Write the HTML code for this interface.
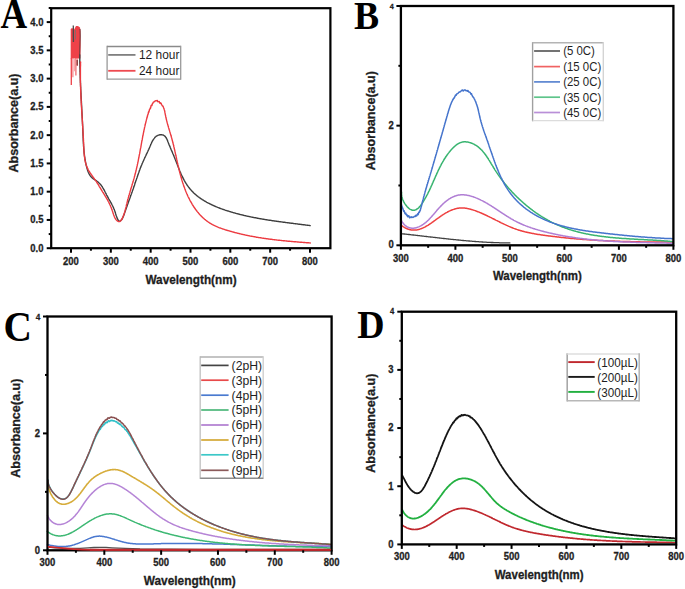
<!DOCTYPE html>
<html><head><meta charset="utf-8"><style>
html,body{margin:0;padding:0;background:#fff;}
svg{display:block;font-family:"Liberation Sans", sans-serif;}
.b{stroke:#1e1e1e;stroke-width:0.3px;}
</style></head><body>
<svg width="685" height="589" viewBox="0 0 685 589">
<rect width="685" height="589" fill="#fff"/>
<path d="M70.7,29 L71.6,28.2 L72.5,28.4 L73.3,27 L74.2,29.5 L75.2,27.5 L76,25.9 L77.5,26 L78.8,26.6 L80,27.5 L80.6,31 L80.7,45 L80.4,58.6 L70.7,58.6 Z" fill="#ee4148"/>
<line x1="71.3" y1="58" x2="71.3" y2="84.9" stroke="#ee4148" stroke-width="1.3"/>
<line x1="72.9" y1="58" x2="72.9" y2="77.3" stroke="#f27a7e" stroke-width="1.1"/>
<line x1="74.4" y1="58" x2="74.4" y2="71.3" stroke="#f5a0a2" stroke-width="1.0"/>
<line x1="75.9" y1="58" x2="75.9" y2="75.6" stroke="#ef6066" stroke-width="1.2"/>
<line x1="77.3" y1="58" x2="77.3" y2="66" stroke="#f07a7e" stroke-width="1.0"/>
<line x1="73.3" y1="25.6" x2="73.4" y2="42" stroke="#4a4a4a" stroke-width="1.3"/>
<line x1="75.4" y1="30" x2="75.4" y2="39.4" stroke="#8a6a6a" stroke-width="1.0"/>
<line x1="77.2" y1="60" x2="77.2" y2="65.5" stroke="#8a3a3a" stroke-width="1.4"/>
<path d="M80.0,29 L80.2,36 L79.9,45 L79.7,55" fill="none" stroke="#5a3a3a" stroke-width="0.9"/>
<path d="M79.8,55.0 L79.8,55.6 L79.8,56.2 L79.8,56.8 L79.8,57.4 L79.8,58.0 L79.8,58.6 L79.8,59.2 L79.8,59.8 L79.8,60.4 L79.8,61.0 L79.8,61.6 L79.8,62.2 L79.8,62.8 L79.8,63.4 L79.9,64.0 L79.9,64.6 L79.9,65.2 L79.9,65.8 L79.9,66.4 L79.9,67.0 L79.9,67.6 L79.9,68.2 L80.0,68.8 L80.0,69.4 L80.0,70.0 L80.0,70.6 L80.0,71.2 L80.0,71.8 L80.1,72.4 L80.1,73.0 L80.1,73.6 L80.1,74.2 L80.1,74.8 L80.2,75.4 L80.2,76.0 L80.2,76.6 L80.2,77.2 L80.2,77.8 L80.3,78.4 L80.3,79.0 L80.3,79.6 L80.3,80.2 L80.4,80.9 L80.4,81.5 L80.4,82.0 L80.4,82.6 L80.5,83.2 L80.5,83.8 L80.5,84.4 L80.5,85.0 L80.6,85.6 L80.6,86.2 L80.6,86.8 L80.7,87.4 L80.7,88.0 L80.7,88.6 L80.7,89.2 L80.8,89.8 L80.8,90.4 L80.8,91.0 L80.9,91.6 L80.9,92.2 L80.9,92.8 L81.0,93.4 L81.0,94.0 L81.0,94.6 L81.0,95.2 L81.1,95.8 L81.1,96.4 L81.1,97.0 L81.2,97.6 L81.2,98.2 L81.2,98.8 L81.3,99.4 L81.3,100.0 L81.3,100.6 L81.4,101.2 L81.4,101.8 L81.4,102.4 L81.5,103.0 L81.5,103.6 L81.5,104.2 L81.6,104.8 L81.6,105.4 L81.6,106.0 L81.7,106.6 L81.7,107.2 L81.7,107.8 L81.7,108.4 L81.8,109.0 L81.8,109.6 L81.8,110.2 L81.9,110.8 L81.9,111.4 L81.9,112.0 L82.0,112.6 L82.0,113.2 L82.0,113.8 L82.1,114.4 L82.1,115.0 L82.1,115.6 L82.2,116.2 L82.2,116.8 L82.2,117.4 L82.3,118.0 L82.3,118.6 L82.3,119.2 L82.3,119.8 L82.4,120.4 L82.4,121.0 L82.4,121.6 L82.5,122.2 L82.5,122.8 L82.5,123.4 L82.5,124.0 L82.6,124.6 L82.6,125.2 L82.6,125.8 L82.7,126.4 L82.7,127.1 L82.7,127.7 L82.7,128.3 L82.8,128.9 L82.8,129.5 L82.8,130.1 L82.8,130.7 L82.9,131.3 L82.9,131.9 L82.9,132.5 L82.9,133.1 L83.0,133.7 L83.0,134.3 L83.0,134.9 L83.0,135.5 L83.1,136.1 L83.1,136.7 L83.1,137.3 L83.1,137.9 L83.2,138.5 L83.2,139.1 L83.2,139.7 L83.2,140.3 L83.3,140.9 L83.3,141.5 L83.3,142.1 L83.4,142.7 L83.4,143.3 L83.4,143.9 L83.5,144.5 L83.5,145.1 L83.5,145.7 L83.6,146.3 L83.6,146.9 L83.7,147.5 L83.7,148.1 L83.8,148.7 L83.8,149.3 L83.9,149.9 L83.9,150.5 L84.0,151.1 L84.0,151.7 L84.1,152.3 L84.1,152.9 L84.2,153.5 L84.3,154.1 L84.4,154.7 L84.4,155.3 L84.5,155.9 L84.6,156.5 L84.7,157.1 L84.8,157.7 L84.9,158.3 L84.9,158.9 L85.0,159.4 L85.1,160.0 L85.3,160.6 L85.4,161.2 L85.5,161.8 L85.6,162.4 L85.7,163.0 L85.8,163.6 L86.0,164.2 L86.1,164.8 L86.2,165.3 L86.4,165.9 L86.5,166.5 L86.7,167.1 L86.8,167.7 L87.0,168.3 L87.2,168.8 L87.3,169.4 L87.5,170.0 L87.7,170.6 L87.9,171.1 L88.1,171.7 L88.3,172.2 L88.6,172.8 L88.8,173.3 L89.1,173.8 L89.4,174.3 L89.7,174.8 L90.0,175.3 L90.3,175.8 L90.6,176.2 L91.0,176.7 L91.4,177.1 L91.8,177.5 L92.2,177.9 L92.7,178.3 L93.1,178.7 L93.6,179.0 L94.1,179.3 L94.6,179.7 L95.2,180.0 L95.7,180.3 L96.2,180.6 L96.7,181.0 L97.2,181.3 L97.7,181.7 L98.2,182.1 L98.6,182.4 L99.0,182.9 L99.4,183.3 L99.9,183.7 L100.2,184.2 L100.6,184.6 L101.0,185.1 L101.4,185.5 L101.7,186.0 L102.0,186.5 L102.4,187.0 L102.7,187.5 L103.0,188.1 L103.3,188.6 L103.6,189.1 L103.9,189.6 L104.2,190.2 L104.5,190.7 L104.8,191.3 L105.1,191.8 L105.3,192.3 L105.6,192.9 L105.9,193.4 L106.2,194.0 L106.4,194.5 L106.7,195.1 L107.0,195.6 L107.3,196.1 L107.6,196.7 L107.8,197.2 L108.1,197.7 L108.4,198.2 L108.7,198.8 L109.0,199.3 L109.3,199.8 L109.6,200.3 L109.9,200.8 L110.2,201.3 L110.5,201.9 L110.8,202.4 L111.1,202.9 L111.3,203.4 L111.6,203.9 L111.9,204.5 L112.2,205.0 L112.4,205.5 L112.7,206.0 L113.0,206.6 L113.2,207.1 L113.5,207.7 L113.7,208.2 L113.9,208.8 L114.2,209.3 L114.4,209.9 L114.6,210.5 L114.8,211.0 L115.0,211.6 L115.2,212.2 L115.4,212.8 L115.5,213.4 L115.7,214.0 L115.9,214.6 L116.1,215.2 L116.3,215.8 L116.5,216.3 L116.7,216.9 L116.9,217.5 L117.1,218.1 L117.4,218.6 L117.6,219.2 L117.9,219.7 L118.2,220.2 L118.5,220.7 L118.9,221.0 L119.3,221.2 L119.7,221.1 L120.2,220.9 L120.7,220.6 L121.1,220.1 L121.5,219.7 L121.9,219.2 L122.3,218.7 L122.6,218.2 L122.8,217.6 L123.1,217.1 L123.3,216.5 L123.6,215.9 L123.8,215.3 L124.0,214.8 L124.2,214.2 L124.4,213.6 L124.6,213.0 L124.8,212.4 L125.0,211.8 L125.2,211.3 L125.4,210.7 L125.6,210.1 L125.8,209.6 L126.0,209.0 L126.2,208.4 L126.4,207.9 L126.6,207.3 L126.8,206.7 L127.0,206.2 L127.2,205.6 L127.4,205.0 L127.6,204.5 L127.8,203.9 L128.0,203.4 L128.2,202.8 L128.4,202.3 L128.6,201.7 L128.8,201.1 L129.0,200.6 L129.2,200.0 L129.4,199.5 L129.6,198.9 L129.8,198.4 L130.0,197.8 L130.2,197.3 L130.4,196.7 L130.6,196.1 L130.8,195.6 L131.0,195.0 L131.2,194.5 L131.4,193.9 L131.6,193.4 L131.8,192.8 L132.0,192.2 L132.2,191.7 L132.4,191.1 L132.6,190.6 L132.8,190.0 L133.0,189.4 L133.2,188.9 L133.4,188.3 L133.6,187.7 L133.8,187.1 L134.0,186.6 L134.2,186.0 L134.4,185.4 L134.6,184.9 L134.7,184.3 L134.9,183.7 L135.1,183.1 L135.3,182.6 L135.5,182.0 L135.7,181.4 L135.9,180.8 L136.1,180.2 L136.3,179.7 L136.5,179.1 L136.7,178.5 L136.9,177.9 L137.1,177.4 L137.3,176.8 L137.5,176.2 L137.7,175.6 L137.9,175.1 L138.1,174.5 L138.3,173.9 L138.5,173.3 L138.7,172.8 L138.9,172.2 L139.1,171.6 L139.3,171.1 L139.5,170.5 L139.7,169.9 L139.9,169.4 L140.1,168.8 L140.3,168.2 L140.6,167.7 L140.8,167.1 L141.0,166.6 L141.2,166.0 L141.4,165.5 L141.7,164.9 L141.9,164.4 L142.1,163.8 L142.3,163.3 L142.6,162.7 L142.8,162.2 L143.0,161.7 L143.3,161.1 L143.5,160.6 L143.8,160.1 L144.0,159.5 L144.2,159.0 L144.5,158.5 L144.7,157.9 L145.0,157.4 L145.2,156.9 L145.5,156.3 L145.7,155.8 L146.0,155.3 L146.2,154.7 L146.5,154.2 L146.7,153.7 L147.0,153.1 L147.3,152.6 L147.5,152.0 L147.8,151.5 L148.0,150.9 L148.3,150.4 L148.5,149.8 L148.8,149.3 L149.0,148.7 L149.3,148.1 L149.5,147.6 L149.8,147.0 L150.0,146.4 L150.3,145.8 L150.5,145.2 L150.8,144.6 L151.0,144.0 L151.3,143.5 L151.6,142.9 L151.8,142.3 L152.1,141.7 L152.4,141.2 L152.7,140.6 L153.0,140.1 L153.3,139.6 L153.7,139.1 L154.0,138.6 L154.4,138.1 L154.7,137.7 L155.1,137.2 L155.5,136.8 L156.0,136.5 L156.4,136.1 L156.9,135.8 L157.4,135.6 L157.9,135.3 L158.5,135.1 L159.0,135.0 L159.6,134.8 L160.1,134.7 L160.7,134.7 L161.3,134.7 L161.8,134.8 L162.4,134.9 L162.9,135.0 L163.4,135.2 L163.9,135.5 L164.4,135.8 L164.8,136.1 L165.2,136.5 L165.6,137.0 L165.9,137.5 L166.3,138.0 L166.6,138.6 L166.9,139.2 L167.2,139.8 L167.4,140.4 L167.7,141.1 L167.9,141.7 L168.2,142.3 L168.4,143.0 L168.7,143.6 L168.9,144.2 L169.1,144.8 L169.4,145.3 L169.6,145.9 L169.9,146.5 L170.1,147.1 L170.3,147.6 L170.6,148.2 L170.8,148.7 L171.0,149.2 L171.2,149.8 L171.5,150.3 L171.7,150.8 L171.9,151.4 L172.2,151.9 L172.4,152.4 L172.6,152.9 L172.8,153.4 L173.0,154.0 L173.3,154.5 L173.5,155.0 L173.7,155.5 L173.9,156.1 L174.1,156.6 L174.4,157.1 L174.6,157.7 L174.8,158.2 L175.0,158.7 L175.2,159.3 L175.4,159.8 L175.7,160.4 L175.9,160.9 L176.1,161.5 L176.3,162.1 L176.5,162.6 L176.8,163.2 L177.0,163.8 L177.2,164.3 L177.4,164.9 L177.6,165.5 L177.9,166.1 L178.1,166.6 L178.3,167.2 L178.5,167.8 L178.8,168.4 L179.0,168.9 L179.2,169.5 L179.5,170.1 L179.7,170.7 L179.9,171.2 L180.2,171.8 L180.4,172.4 L180.7,173.0 L180.9,173.5 L181.2,174.1 L181.4,174.7 L181.7,175.3 L182.0,175.8 L182.2,176.4 L182.5,176.9 L182.8,177.5 L183.0,178.1 L183.3,178.6 L183.6,179.2 L183.9,179.7 L184.2,180.3 L184.5,180.8 L184.8,181.3 L185.1,181.9 L185.4,182.4 L185.7,182.9 L186.0,183.4 L186.4,183.9 L186.7,184.4 L187.0,185.0 L187.4,185.4 L187.7,185.9 L188.1,186.4 L188.4,186.9 L188.8,187.4 L189.1,187.8 L189.5,188.3 L189.9,188.8 L190.3,189.2 L190.7,189.7 L191.1,190.1 L191.5,190.5 L191.9,191.0 L192.3,191.4 L192.7,191.8 L193.1,192.2 L193.5,192.7 L193.9,193.1 L194.4,193.5 L194.8,193.9 L195.2,194.2 L195.7,194.6 L196.1,195.0 L196.6,195.4 L197.0,195.8 L197.5,196.1 L197.9,196.5 L198.4,196.9 L198.9,197.2 L199.3,197.6 L199.8,197.9 L200.3,198.2 L200.8,198.6 L201.3,198.9 L201.8,199.2 L202.3,199.6 L202.8,199.9 L203.3,200.2 L203.8,200.5 L204.3,200.8 L204.8,201.1 L205.3,201.4 L205.8,201.7 L206.3,202.0 L206.8,202.3 L207.4,202.6 L207.9,202.9 L208.4,203.1 L209.0,203.4 L209.5,203.7 L210.0,204.0 L210.6,204.2 L211.1,204.5 L211.6,204.7 L212.2,205.0 L212.7,205.2 L213.3,205.5 L213.8,205.7 L214.4,206.0 L214.9,206.2 L215.5,206.5 L216.0,206.7 L216.6,206.9 L217.2,207.2 L217.7,207.4 L218.3,207.6 L218.9,207.8 L219.4,208.0 L220.0,208.3 L220.6,208.5 L221.1,208.7 L221.7,208.9 L222.3,209.1 L222.8,209.3 L223.4,209.5 L224.0,209.7 L224.6,209.9 L225.1,210.1 L225.7,210.3 L226.3,210.5 L226.9,210.6 L227.4,210.8 L228.0,211.0 L228.6,211.2 L229.2,211.4 L229.8,211.6 L230.3,211.7 L230.9,211.9 L231.5,212.1 L232.1,212.2 L232.6,212.4 L233.2,212.6 L233.8,212.8 L234.4,212.9 L235.0,213.1 L235.6,213.2 L236.1,213.4 L236.7,213.6 L237.3,213.7 L237.9,213.9 L238.5,214.0 L239.0,214.2 L239.6,214.3 L240.2,214.5 L240.8,214.6 L241.4,214.8 L242.0,214.9 L242.5,215.0 L243.1,215.2 L243.7,215.3 L244.3,215.5 L244.9,215.6 L245.5,215.7 L246.1,215.9 L246.6,216.0 L247.2,216.1 L247.8,216.3 L248.4,216.4 L249.0,216.5 L249.6,216.6 L250.2,216.8 L250.8,216.9 L251.3,217.0 L251.9,217.1 L252.5,217.2 L253.1,217.4 L253.7,217.5 L254.3,217.6 L254.9,217.7 L255.5,217.8 L256.0,217.9 L256.6,218.0 L257.2,218.2 L257.8,218.3 L258.4,218.4 L259.0,218.5 L259.6,218.6 L260.2,218.7 L260.8,218.8 L261.4,218.9 L262.0,219.0 L262.5,219.1 L263.1,219.2 L263.7,219.3 L264.3,219.4 L264.9,219.5 L265.5,219.6 L266.1,219.7 L266.7,219.8 L267.3,219.9 L267.9,220.0 L268.5,220.1 L269.1,220.2 L269.7,220.3 L270.3,220.3 L270.8,220.4 L271.4,220.5 L272.0,220.6 L272.6,220.7 L273.2,220.8 L273.8,220.9 L274.4,221.0 L275.0,221.0 L275.6,221.1 L276.2,221.2 L276.8,221.3 L277.4,221.4 L278.0,221.5 L278.6,221.5 L279.2,221.6 L279.8,221.7 L280.4,221.8 L281.0,221.9 L281.5,221.9 L282.1,222.0 L282.7,222.1 L283.3,222.2 L283.9,222.3 L284.5,222.3 L285.1,222.4 L285.7,222.5 L286.3,222.6 L286.9,222.6 L287.5,222.7 L288.1,222.8 L288.7,222.9 L289.3,223.0 L289.9,223.0 L290.5,223.1 L291.1,223.2 L291.7,223.3 L292.3,223.3 L292.9,223.4 L293.5,223.5 L294.1,223.6 L294.7,223.6 L295.3,223.7 L295.9,223.8 L296.5,223.9 L297.1,223.9 L297.7,224.0 L298.3,224.1 L298.8,224.2 L299.4,224.2 L300.0,224.3 L300.6,224.4 L301.2,224.5 L301.8,224.5 L302.4,224.6 L303.0,224.7 L303.6,224.8 L304.2,224.8 L304.8,224.9 L305.4,225.0 L306.0,225.1 L306.6,225.1 L307.2,225.2 L307.8,225.3 L308.4,225.4 L309.0,225.4 L309.6,225.5 L310.2,225.6" fill="none" stroke="#3e3e3e" stroke-width="1.4" stroke-linejoin="round" stroke-linecap="round"/>
<path d="M80.6,62.0 L80.6,62.6 L80.5,63.2 L80.5,63.8 L80.5,64.4 L80.5,65.0 L80.5,65.6 L80.5,66.2 L80.4,66.8 L80.4,67.4 L80.4,68.0 L80.4,68.6 L80.4,69.2 L80.4,69.8 L80.4,70.4 L80.4,71.1 L80.4,71.7 L80.4,72.3 L80.4,72.9 L80.4,73.5 L80.4,74.1 L80.4,74.7 L80.4,75.3 L80.4,75.9 L80.4,76.5 L80.4,77.1 L80.4,77.7 L80.4,78.3 L80.4,78.9 L80.4,79.5 L80.4,80.1 L80.4,80.7 L80.4,81.3 L80.4,81.9 L80.4,82.5 L80.5,83.1 L80.5,83.7 L80.5,84.3 L80.5,84.9 L80.5,85.5 L80.5,86.1 L80.6,86.7 L80.6,87.3 L80.6,87.9 L80.6,88.5 L80.6,89.1 L80.7,89.7 L80.7,90.3 L80.7,90.9 L80.7,91.5 L80.7,92.1 L80.8,92.7 L80.8,93.3 L80.8,93.9 L80.8,94.5 L80.9,95.1 L80.9,95.6 L80.9,96.2 L80.9,96.8 L81.0,97.4 L81.0,98.0 L81.0,98.6 L81.1,99.2 L81.1,99.8 L81.1,100.4 L81.2,101.0 L81.2,101.6 L81.2,102.2 L81.2,102.8 L81.3,103.4 L81.3,104.0 L81.3,104.6 L81.4,105.2 L81.4,105.8 L81.4,106.4 L81.5,107.0 L81.5,107.6 L81.6,108.2 L81.6,108.8 L81.6,109.4 L81.7,110.0 L81.7,110.6 L81.7,111.2 L81.8,111.8 L81.8,112.4 L81.8,113.0 L81.9,113.6 L81.9,114.2 L82.0,114.8 L82.0,115.3 L82.0,115.9 L82.1,116.5 L82.1,117.1 L82.1,117.7 L82.2,118.3 L82.2,118.9 L82.3,119.5 L82.3,120.1 L82.3,120.7 L82.4,121.3 L82.4,121.9 L82.4,122.5 L82.5,123.1 L82.5,123.7 L82.6,124.3 L82.6,124.9 L82.6,125.5 L82.7,126.1 L82.7,126.7 L82.7,127.3 L82.8,127.9 L82.8,128.5 L82.8,129.1 L82.9,129.7 L82.9,130.3 L83.0,130.9 L83.0,131.5 L83.0,132.1 L83.1,132.7 L83.1,133.3 L83.1,134.0 L83.2,134.6 L83.2,135.2 L83.2,135.8 L83.3,136.4 L83.3,137.0 L83.3,137.6 L83.4,138.2 L83.4,138.8 L83.4,139.4 L83.5,140.0 L83.5,140.6 L83.5,141.2 L83.5,141.8 L83.6,142.4 L83.6,143.0 L83.6,143.6 L83.7,144.2 L83.7,144.9 L83.7,145.5 L83.7,146.1 L83.8,146.7 L83.8,147.3 L83.8,147.9 L83.8,148.5 L83.9,149.1 L83.9,149.7 L83.9,150.3 L84.0,150.9 L84.0,151.5 L84.0,152.2 L84.1,152.8 L84.1,153.4 L84.2,154.0 L84.2,154.6 L84.3,155.2 L84.4,155.8 L84.4,156.4 L84.5,156.9 L84.6,157.5 L84.7,158.1 L84.7,158.7 L84.8,159.3 L84.9,159.9 L85.0,160.5 L85.2,161.0 L85.3,161.6 L85.4,162.2 L85.6,162.7 L85.7,163.3 L85.9,163.9 L86.0,164.4 L86.2,165.0 L86.4,165.5 L86.6,166.1 L86.8,166.6 L87.0,167.1 L87.2,167.7 L87.5,168.2 L87.7,168.7 L88.0,169.2 L88.2,169.8 L88.5,170.3 L88.8,170.8 L89.1,171.3 L89.4,171.8 L89.8,172.3 L90.1,172.8 L90.4,173.3 L90.7,173.8 L91.1,174.2 L91.4,174.7 L91.8,175.2 L92.1,175.7 L92.5,176.2 L92.8,176.7 L93.2,177.2 L93.6,177.7 L93.9,178.2 L94.3,178.6 L94.6,179.1 L95.0,179.6 L95.3,180.1 L95.7,180.6 L96.0,181.1 L96.4,181.6 L96.7,182.1 L97.0,182.6 L97.3,183.2 L97.7,183.7 L98.0,184.2 L98.3,184.7 L98.6,185.2 L98.9,185.7 L99.2,186.3 L99.5,186.8 L99.8,187.3 L100.2,187.8 L100.5,188.3 L100.8,188.8 L101.1,189.3 L101.4,189.8 L101.7,190.3 L102.0,190.8 L102.3,191.4 L102.6,191.9 L102.9,192.3 L103.2,192.8 L103.6,193.3 L103.9,193.8 L104.2,194.3 L104.5,194.8 L104.8,195.3 L105.1,195.8 L105.4,196.3 L105.7,196.8 L106.0,197.3 L106.3,197.9 L106.6,198.4 L106.9,198.9 L107.2,199.4 L107.5,199.9 L107.8,200.4 L108.0,200.9 L108.3,201.5 L108.6,202.0 L108.9,202.5 L109.1,203.1 L109.4,203.6 L109.7,204.2 L109.9,204.7 L110.2,205.3 L110.4,205.9 L110.7,206.4 L110.9,207.0 L111.2,207.6 L111.4,208.2 L111.6,208.8 L111.8,209.4 L112.1,210.0 L112.3,210.7 L112.5,211.3 L112.7,211.9 L112.9,212.6 L113.1,213.2 L113.3,213.8 L113.5,214.4 L113.7,215.0 L114.0,215.6 L114.2,216.2 L114.4,216.8 L114.7,217.3 L114.9,217.8 L115.2,218.3 L115.5,218.8 L115.8,219.3 L116.1,219.7 L116.5,220.1 L116.8,220.4 L117.2,220.8 L117.6,221.0 L118.0,221.3 L118.5,221.5 L118.9,221.6 L119.3,221.6 L119.7,221.5 L120.1,221.3 L120.5,221.0 L120.9,220.6 L121.2,220.2 L121.5,219.7 L121.9,219.2 L122.2,218.6 L122.4,218.0 L122.7,217.4 L123.0,216.8 L123.2,216.2 L123.5,215.6 L123.7,215.0 L123.9,214.4 L124.1,213.8 L124.3,213.2 L124.5,212.6 L124.7,212.0 L124.9,211.4 L125.0,210.8 L125.2,210.2 L125.3,209.7 L125.5,209.1 L125.6,208.5 L125.8,207.9 L125.9,207.3 L126.1,206.7 L126.2,206.2 L126.3,205.6 L126.5,205.0 L126.6,204.4 L126.8,203.9 L126.9,203.3 L127.0,202.7 L127.2,202.1 L127.3,201.6 L127.5,201.0 L127.6,200.4 L127.8,199.8 L127.9,199.2 L128.1,198.7 L128.2,198.1 L128.4,197.5 L128.6,197.0 L128.7,196.4 L128.9,195.8 L129.0,195.2 L129.2,194.7 L129.4,194.1 L129.5,193.5 L129.7,192.9 L129.9,192.4 L130.0,191.8 L130.2,191.2 L130.4,190.6 L130.6,190.1 L130.7,189.5 L130.9,188.9 L131.1,188.3 L131.2,187.8 L131.4,187.2 L131.6,186.6 L131.8,186.0 L131.9,185.5 L132.1,184.9 L132.3,184.3 L132.4,183.7 L132.6,183.2 L132.8,182.6 L133.0,182.0 L133.1,181.4 L133.3,180.9 L133.5,180.3 L133.6,179.7 L133.8,179.1 L134.0,178.5 L134.1,178.0 L134.3,177.4 L134.4,176.8 L134.6,176.2 L134.8,175.6 L134.9,175.1 L135.1,174.5 L135.2,173.9 L135.4,173.3 L135.5,172.7 L135.7,172.1 L135.8,171.6 L136.0,171.0 L136.1,170.4 L136.2,169.8 L136.4,169.2 L136.5,168.6 L136.6,168.0 L136.8,167.5 L136.9,166.9 L137.0,166.3 L137.2,165.7 L137.3,165.1 L137.4,164.5 L137.6,163.9 L137.7,163.3 L137.8,162.7 L137.9,162.2 L138.1,161.6 L138.2,161.0 L138.3,160.4 L138.4,159.8 L138.5,159.2 L138.6,158.6 L138.8,158.0 L138.9,157.4 L139.0,156.8 L139.1,156.2 L139.2,155.6 L139.3,155.1 L139.4,154.5 L139.6,153.9 L139.7,153.3 L139.8,152.7 L139.9,152.1 L140.0,151.5 L140.1,150.9 L140.2,150.3 L140.3,149.7 L140.4,149.1 L140.5,148.5 L140.7,147.9 L140.8,147.3 L140.9,146.8 L141.0,146.2 L141.1,145.6 L141.2,145.0 L141.3,144.4 L141.4,143.8 L141.5,143.2 L141.6,142.6 L141.7,142.0 L141.8,141.4 L142.0,140.8 L142.1,140.2 L142.2,139.7 L142.3,139.1 L142.4,138.5 L142.5,137.9 L142.6,137.3 L142.7,136.7 L142.8,136.1 L143.0,135.5 L143.1,134.9 L143.2,134.3 L143.3,133.8 L143.4,133.2 L143.5,132.6 L143.7,132.0 L143.8,131.4 L143.9,130.8 L144.0,130.2 L144.1,129.7 L144.3,129.1 L144.4,128.5 L144.5,127.9 L144.6,127.3 L144.8,126.7 L144.9,126.2 L145.0,125.6 L145.2,125.0 L145.3,124.4 L145.4,123.8 L145.6,123.3 L145.7,122.7 L145.9,122.1 L146.0,121.5 L146.1,121.0 L146.3,120.4 L146.4,119.8 L146.6,119.2 L146.7,118.7 L146.9,118.1 L147.0,117.0 L147.2,117.4 L147.4,116.8 L147.5,115.5 L147.7,115.2 L147.9,114.6 L148.0,114.3 L148.2,113.9 L148.4,112.4 L148.6,111.7 L148.8,112.3 L149.0,111.1 L149.2,111.0 L149.5,109.4 L149.7,109.4 L149.9,109.2 L150.2,108.0 L150.4,108.4 L150.7,107.7 L151.0,105.9 L151.3,105.3 L151.6,105.5 L151.9,105.5 L152.3,104.1 L152.6,103.4 L153.0,103.1 L153.4,102.1 L153.7,102.0 L154.1,101.9 L154.6,101.7 L155.0,101.0 L155.4,100.8 L155.9,100.6 L156.3,100.9 L156.8,100.7 L157.3,100.4 L157.8,101.7 L158.3,101.5 L158.8,101.9 L159.3,101.6 L159.8,103.1 L160.3,103.4 L160.7,102.8 L161.2,103.6 L161.6,104.6 L162.0,105.2 L162.4,106.0 L162.8,105.9 L163.1,106.5 L163.4,107.1 L163.6,107.7 L163.8,108.2 L164.0,108.8 L164.2,109.4 L164.4,109.9 L164.5,110.5 L164.7,111.1 L164.8,111.7 L164.9,112.3 L165.0,112.9 L165.1,113.4 L165.2,114.0 L165.3,114.6 L165.5,115.2 L165.6,115.8 L165.7,116.4 L165.8,116.9 L165.9,117.5 L166.1,118.1 L166.2,118.7 L166.3,119.3 L166.5,119.8 L166.6,120.4 L166.8,121.0 L166.9,121.6 L167.1,122.2 L167.2,122.7 L167.4,123.3 L167.5,123.9 L167.7,124.5 L167.9,125.1 L168.0,125.6 L168.2,126.2 L168.4,126.8 L168.5,127.4 L168.7,128.0 L168.9,128.5 L169.0,129.1 L169.2,129.7 L169.4,130.3 L169.6,130.8 L169.7,131.4 L169.9,132.0 L170.1,132.6 L170.3,133.2 L170.4,133.7 L170.6,134.3 L170.8,134.9 L170.9,135.5 L171.1,136.1 L171.3,136.6 L171.4,137.2 L171.6,137.8 L171.8,138.4 L171.9,139.0 L172.1,139.5 L172.2,140.1 L172.4,140.7 L172.5,141.3 L172.7,141.9 L172.8,142.5 L173.0,143.0 L173.1,143.6 L173.3,144.2 L173.4,144.8 L173.6,145.4 L173.7,146.0 L173.8,146.5 L174.0,147.1 L174.1,147.7 L174.2,148.3 L174.4,148.9 L174.5,149.5 L174.7,150.1 L174.8,150.6 L174.9,151.2 L175.1,151.8 L175.2,152.4 L175.3,153.0 L175.4,153.6 L175.6,154.2 L175.7,154.7 L175.8,155.3 L176.0,155.9 L176.1,156.5 L176.2,157.1 L176.4,157.7 L176.5,158.3 L176.6,158.8 L176.7,159.4 L176.9,160.0 L177.0,160.6 L177.1,161.2 L177.3,161.8 L177.4,162.3 L177.5,162.9 L177.7,163.5 L177.8,164.1 L177.9,164.7 L178.1,165.3 L178.2,165.9 L178.3,166.4 L178.5,167.0 L178.6,167.6 L178.7,168.2 L178.9,168.8 L179.0,169.4 L179.2,169.9 L179.3,170.5 L179.4,171.1 L179.6,171.7 L179.7,172.3 L179.9,172.8 L180.0,173.4 L180.2,174.0 L180.3,174.6 L180.5,175.2 L180.7,175.7 L180.8,176.3 L181.0,176.9 L181.1,177.5 L181.3,178.1 L181.5,178.6 L181.6,179.2 L181.8,179.8 L182.0,180.4 L182.2,180.9 L182.3,181.5 L182.5,182.1 L182.7,182.7 L182.9,183.2 L183.1,183.8 L183.3,184.4 L183.5,184.9 L183.6,185.5 L183.8,186.1 L184.0,186.7 L184.3,187.2 L184.5,187.8 L184.7,188.4 L184.9,188.9 L185.1,189.5 L185.3,190.1 L185.5,190.6 L185.8,191.2 L186.0,191.8 L186.2,192.3 L186.5,192.9 L186.7,193.4 L186.9,194.0 L187.2,194.5 L187.4,195.1 L187.7,195.7 L187.9,196.2 L188.2,196.8 L188.5,197.3 L188.7,197.9 L189.0,198.4 L189.3,198.9 L189.6,199.5 L189.8,200.0 L190.1,200.6 L190.4,201.1 L190.7,201.6 L191.0,202.2 L191.3,202.7 L191.6,203.2 L191.9,203.7 L192.2,204.3 L192.5,204.8 L192.8,205.3 L193.2,205.8 L193.5,206.3 L193.8,206.8 L194.1,207.3 L194.5,207.8 L194.8,208.3 L195.2,208.8 L195.5,209.3 L195.9,209.7 L196.2,210.2 L196.6,210.7 L197.0,211.2 L197.3,211.6 L197.7,212.1 L198.1,212.6 L198.5,213.0 L198.8,213.5 L199.2,213.9 L199.6,214.4 L200.0,214.8 L200.4,215.2 L200.8,215.6 L201.2,216.1 L201.7,216.5 L202.1,216.9 L202.5,217.3 L202.9,217.7 L203.4,218.1 L203.8,218.5 L204.3,218.9 L204.7,219.3 L205.2,219.6 L205.6,220.0 L206.1,220.4 L206.5,220.7 L207.0,221.1 L207.5,221.4 L208.0,221.8 L208.4,222.1 L208.9,222.4 L209.4,222.8 L209.9,223.1 L210.4,223.4 L210.9,223.7 L211.5,224.0 L212.0,224.3 L212.5,224.6 L213.0,224.8 L213.6,225.1 L214.1,225.4 L214.6,225.6 L215.2,225.9 L215.7,226.1 L216.3,226.4 L216.8,226.6 L217.4,226.9 L217.9,227.1 L218.5,227.3 L219.0,227.6 L219.6,227.8 L220.2,228.0 L220.7,228.2 L221.3,228.4 L221.9,228.6 L222.5,228.8 L223.0,229.0 L223.6,229.2 L224.2,229.4 L224.8,229.6 L225.4,229.8 L226.0,230.0 L226.5,230.2 L227.1,230.3 L227.7,230.5 L228.3,230.7 L228.9,230.9 L229.5,231.0 L230.1,231.2 L230.6,231.4 L231.2,231.5 L231.8,231.7 L232.4,231.9 L233.0,232.0 L233.6,232.2 L234.2,232.3 L234.8,232.5 L235.3,232.6 L235.9,232.8 L236.5,232.9 L237.1,233.1 L237.7,233.2 L238.3,233.4 L238.9,233.5 L239.5,233.7 L240.0,233.8 L240.6,233.9 L241.2,234.1 L241.8,234.2 L242.4,234.4 L243.0,234.5 L243.6,234.6 L244.2,234.7 L244.8,234.9 L245.3,235.0 L245.9,235.1 L246.5,235.3 L247.1,235.4 L247.7,235.5 L248.3,235.6 L248.9,235.7 L249.5,235.9 L250.0,236.0 L250.6,236.1 L251.2,236.2 L251.8,236.3 L252.4,236.4 L253.0,236.5 L253.6,236.6 L254.2,236.7 L254.8,236.8 L255.4,236.9 L255.9,237.1 L256.5,237.2 L257.1,237.3 L257.7,237.4 L258.3,237.5 L258.9,237.6 L259.5,237.6 L260.1,237.7 L260.7,237.8 L261.3,237.9 L261.8,238.0 L262.4,238.1 L263.0,238.2 L263.6,238.3 L264.2,238.4 L264.8,238.5 L265.4,238.5 L266.0,238.6 L266.6,238.7 L267.2,238.8 L267.8,238.9 L268.3,239.0 L268.9,239.0 L269.5,239.1 L270.1,239.2 L270.7,239.3 L271.3,239.3 L271.9,239.4 L272.5,239.5 L273.1,239.6 L273.7,239.6 L274.3,239.7 L274.9,239.8 L275.5,239.9 L276.1,239.9 L276.7,240.0 L277.2,240.1 L277.8,240.1 L278.4,240.2 L279.0,240.3 L279.6,240.3 L280.2,240.4 L280.8,240.4 L281.4,240.5 L282.0,240.6 L282.6,240.6 L283.2,240.7 L283.8,240.8 L284.4,240.8 L285.0,240.9 L285.6,240.9 L286.2,241.0 L286.8,241.0 L287.4,241.1 L288.0,241.2 L288.6,241.2 L289.2,241.3 L289.8,241.3 L290.4,241.4 L291.0,241.4 L291.6,241.5 L292.2,241.5 L292.8,241.6 L293.4,241.6 L294.0,241.7 L294.6,241.7 L295.2,241.8 L295.8,241.8 L296.4,241.9 L297.0,241.9 L297.6,242.0 L298.2,242.0 L298.8,242.1 L299.4,242.1 L300.0,242.2 L300.6,242.2 L301.2,242.3 L301.8,242.3 L302.4,242.4 L303.0,242.4 L303.6,242.5 L304.2,242.5 L304.8,242.5 L305.4,242.6 L306.0,242.6 L306.6,242.7 L307.2,242.7 L307.8,242.8 L308.4,242.8 L309.0,242.9 L309.6,242.9 L310.3,243.0" fill="none" stroke="#ec3a40" stroke-width="1.4" stroke-linejoin="round" stroke-linecap="round"/>
<rect x="51.2" y="8.2" width="279.20" height="240.00" fill="none" stroke="#000" stroke-width="2.2"/>
<line x1="71.00" y1="248.2" x2="71.00" y2="252.7" stroke="#000" stroke-width="2.0"/>
<line x1="110.83" y1="248.2" x2="110.83" y2="252.7" stroke="#000" stroke-width="2.0"/>
<line x1="150.67" y1="248.2" x2="150.67" y2="252.7" stroke="#000" stroke-width="2.0"/>
<line x1="190.50" y1="248.2" x2="190.50" y2="252.7" stroke="#000" stroke-width="2.0"/>
<line x1="230.33" y1="248.2" x2="230.33" y2="252.7" stroke="#000" stroke-width="2.0"/>
<line x1="270.17" y1="248.2" x2="270.17" y2="252.7" stroke="#000" stroke-width="2.0"/>
<line x1="310.00" y1="248.2" x2="310.00" y2="252.7" stroke="#000" stroke-width="2.0"/>
<line x1="90.92" y1="248.2" x2="90.92" y2="250.7" stroke="#000" stroke-width="2.0"/>
<line x1="130.75" y1="248.2" x2="130.75" y2="250.7" stroke="#000" stroke-width="2.0"/>
<line x1="170.58" y1="248.2" x2="170.58" y2="250.7" stroke="#000" stroke-width="2.0"/>
<line x1="210.42" y1="248.2" x2="210.42" y2="250.7" stroke="#000" stroke-width="2.0"/>
<line x1="250.25" y1="248.2" x2="250.25" y2="250.7" stroke="#000" stroke-width="2.0"/>
<line x1="290.08" y1="248.2" x2="290.08" y2="250.7" stroke="#000" stroke-width="2.0"/>
<text x="0" y="0" font-size="10.4" font-weight="bold" text-anchor="middle" fill="#1e1e1e" class="b" transform="translate(71.00,264.5) scale(0.91,1)">200</text>
<text x="0" y="0" font-size="10.4" font-weight="bold" text-anchor="middle" fill="#1e1e1e" class="b" transform="translate(110.83,264.5) scale(0.91,1)">300</text>
<text x="0" y="0" font-size="10.4" font-weight="bold" text-anchor="middle" fill="#1e1e1e" class="b" transform="translate(150.67,264.5) scale(0.91,1)">400</text>
<text x="0" y="0" font-size="10.4" font-weight="bold" text-anchor="middle" fill="#1e1e1e" class="b" transform="translate(190.50,264.5) scale(0.91,1)">500</text>
<text x="0" y="0" font-size="10.4" font-weight="bold" text-anchor="middle" fill="#1e1e1e" class="b" transform="translate(230.33,264.5) scale(0.91,1)">600</text>
<text x="0" y="0" font-size="10.4" font-weight="bold" text-anchor="middle" fill="#1e1e1e" class="b" transform="translate(270.17,264.5) scale(0.91,1)">700</text>
<text x="0" y="0" font-size="10.4" font-weight="bold" text-anchor="middle" fill="#1e1e1e" class="b" transform="translate(310.00,264.5) scale(0.91,1)">800</text>
<line x1="46.7" y1="248.20" x2="51.2" y2="248.20" stroke="#000" stroke-width="2.0"/>
<line x1="46.7" y1="219.94" x2="51.2" y2="219.94" stroke="#000" stroke-width="2.0"/>
<line x1="46.7" y1="191.67" x2="51.2" y2="191.67" stroke="#000" stroke-width="2.0"/>
<line x1="46.7" y1="163.41" x2="51.2" y2="163.41" stroke="#000" stroke-width="2.0"/>
<line x1="46.7" y1="135.15" x2="51.2" y2="135.15" stroke="#000" stroke-width="2.0"/>
<line x1="46.7" y1="106.89" x2="51.2" y2="106.89" stroke="#000" stroke-width="2.0"/>
<line x1="46.7" y1="78.62" x2="51.2" y2="78.62" stroke="#000" stroke-width="2.0"/>
<line x1="46.7" y1="50.36" x2="51.2" y2="50.36" stroke="#000" stroke-width="2.0"/>
<line x1="46.7" y1="22.10" x2="51.2" y2="22.10" stroke="#000" stroke-width="2.0"/>
<line x1="48.7" y1="234.07" x2="51.2" y2="234.07" stroke="#000" stroke-width="2.0"/>
<line x1="48.7" y1="205.81" x2="51.2" y2="205.81" stroke="#000" stroke-width="2.0"/>
<line x1="48.7" y1="177.54" x2="51.2" y2="177.54" stroke="#000" stroke-width="2.0"/>
<line x1="48.7" y1="149.28" x2="51.2" y2="149.28" stroke="#000" stroke-width="2.0"/>
<line x1="48.7" y1="121.02" x2="51.2" y2="121.02" stroke="#000" stroke-width="2.0"/>
<line x1="48.7" y1="92.76" x2="51.2" y2="92.76" stroke="#000" stroke-width="2.0"/>
<line x1="48.7" y1="64.49" x2="51.2" y2="64.49" stroke="#000" stroke-width="2.0"/>
<line x1="48.7" y1="36.23" x2="51.2" y2="36.23" stroke="#000" stroke-width="2.0"/>
<line x1="48.7" y1="7.97" x2="51.2" y2="7.97" stroke="#000" stroke-width="2.0"/>
<text x="0" y="0" font-size="10.4" font-weight="bold" text-anchor="end" fill="#1e1e1e" class="b" transform="translate(43.4,251.60) scale(0.91,1)">0.0</text>
<text x="0" y="0" font-size="10.4" font-weight="bold" text-anchor="end" fill="#1e1e1e" class="b" transform="translate(43.4,223.34) scale(0.91,1)">0.5</text>
<text x="0" y="0" font-size="10.4" font-weight="bold" text-anchor="end" fill="#1e1e1e" class="b" transform="translate(43.4,195.07) scale(0.91,1)">1.0</text>
<text x="0" y="0" font-size="10.4" font-weight="bold" text-anchor="end" fill="#1e1e1e" class="b" transform="translate(43.4,166.81) scale(0.91,1)">1.5</text>
<text x="0" y="0" font-size="10.4" font-weight="bold" text-anchor="end" fill="#1e1e1e" class="b" transform="translate(43.4,138.55) scale(0.91,1)">2.0</text>
<text x="0" y="0" font-size="10.4" font-weight="bold" text-anchor="end" fill="#1e1e1e" class="b" transform="translate(43.4,110.29) scale(0.91,1)">2.5</text>
<text x="0" y="0" font-size="10.4" font-weight="bold" text-anchor="end" fill="#1e1e1e" class="b" transform="translate(43.4,82.03) scale(0.91,1)">3.0</text>
<text x="0" y="0" font-size="10.4" font-weight="bold" text-anchor="end" fill="#1e1e1e" class="b" transform="translate(43.4,53.76) scale(0.91,1)">3.5</text>
<text x="0" y="0" font-size="10.4" font-weight="bold" text-anchor="end" fill="#1e1e1e" class="b" transform="translate(43.4,25.50) scale(0.91,1)">4.0</text>
<rect x="107.1" y="46.5" width="73.60" height="32.70" fill="#fff"/>
<line x1="107.1" y1="45.85" x2="107.1" y2="79.85" stroke="#999" stroke-width="1.3"/>
<line x1="107.1" y1="46.5" x2="180.7" y2="46.5" stroke="#8a8a8a" stroke-width="1.3"/>
<line x1="180.7" y1="45.85" x2="180.7" y2="79.85" stroke="#9a9a9a" stroke-width="1.3"/>
<line x1="107.1" y1="79.2" x2="180.7" y2="79.2" stroke="#9a9a9a" stroke-width="1.3"/>
<line x1="108.2" y1="54.9" x2="135.5" y2="54.9" stroke="#808080" stroke-width="1.8"/>
<text x="0" y="0" font-size="12.6" fill="#1e1e1e" transform="translate(139.0,59.20) scale(0.945,1)">12 hour</text>
<line x1="108.2" y1="70.8" x2="135.5" y2="70.8" stroke="#ee4a50" stroke-width="1.8"/>
<text x="0" y="0" font-size="12.6" fill="#1e1e1e" transform="translate(139.0,75.10) scale(0.945,1)">24 hour</text>
<text x="0" y="0" font-size="12.2" font-weight="bold" text-anchor="middle" fill="#1e1e1e" class="b" transform="translate(17.7,123) rotate(-90) scale(1.03,1.0)">Absorbance(a.u)</text>
<text x="0" y="0" font-size="12.98" font-weight="bold" text-anchor="middle" fill="#1e1e1e" class="b" transform="translate(191,284.4) scale(0.9091,1)">Wavelength(nm)</text>
<text x="0" y="0" font-family='"Liberation Serif", serif' font-size="42" font-weight="bold" fill="#000" transform="translate(0.4,27.6) scale(0.88,1.0)">A</text>
<path d="M401.5,233.7 L402.1,233.8 L402.7,233.8 L403.3,233.9 L403.9,234.0 L404.5,234.0 L405.1,234.1 L405.7,234.2 L406.3,234.2 L406.9,234.3 L407.5,234.4 L408.1,234.4 L408.7,234.5 L409.3,234.5 L409.9,234.6 L410.5,234.7 L411.1,234.8 L411.7,234.8 L412.3,234.9 L412.9,235.0 L413.5,235.0 L414.1,235.1 L414.7,235.2 L415.3,235.2 L415.9,235.3 L416.5,235.4 L417.1,235.4 L417.7,235.5 L418.3,235.6 L418.9,235.6 L419.5,235.7 L420.1,235.8 L420.7,235.8 L421.3,235.9 L421.9,236.0 L422.5,236.1 L423.1,236.1 L423.7,236.2 L424.3,236.3 L424.9,236.3 L425.5,236.4 L426.1,236.5 L426.7,236.5 L427.3,236.6 L427.9,236.7 L428.5,236.8 L429.1,236.8 L429.7,236.9 L430.3,237.0 L430.9,237.0 L431.5,237.1 L432.1,237.2 L432.7,237.2 L433.3,237.3 L433.9,237.4 L434.5,237.4 L435.2,237.5 L435.8,237.6 L436.4,237.7 L437.0,237.7 L437.6,237.8 L438.2,237.9 L438.8,237.9 L439.4,238.0 L440.0,238.1 L440.6,238.1 L441.2,238.2 L441.8,238.3 L442.4,238.3 L443.0,238.4 L443.6,238.5 L444.2,238.5 L444.8,238.6 L445.4,238.7 L446.0,238.7 L446.6,238.8 L447.2,238.9 L447.8,238.9 L448.4,239.0 L449.0,239.1 L449.6,239.1 L450.2,239.2 L450.8,239.3 L451.4,239.3 L452.0,239.4 L452.6,239.4 L453.2,239.5 L453.8,239.6 L454.4,239.6 L455.0,239.7 L455.6,239.7 L456.2,239.8 L456.8,239.9 L457.4,239.9 L458.0,240.0 L458.6,240.0 L459.2,240.1 L459.8,240.2 L460.4,240.2 L461.0,240.3 L461.6,240.3 L462.2,240.4 L462.8,240.5 L463.4,240.5 L464.0,240.6 L464.6,240.6 L465.2,240.7 L465.8,240.7 L466.4,240.8 L467.0,240.8 L467.6,240.9 L468.2,240.9 L468.8,241.0 L469.4,241.0 L470.0,241.1 L470.6,241.1 L471.2,241.2 L471.8,241.2 L472.4,241.3 L473.1,241.3 L473.7,241.4 L474.3,241.4 L474.9,241.5 L475.5,241.5 L476.1,241.6 L476.7,241.6 L477.3,241.7 L477.9,241.7 L478.5,241.7 L479.1,241.8 L479.7,241.8 L480.3,241.9 L480.9,241.9 L481.5,241.9 L482.1,242.0 L482.7,242.0 L483.3,242.1 L483.9,242.1 L484.5,242.1 L485.1,242.2 L485.7,242.2 L486.3,242.2 L486.9,242.3 L487.5,242.3 L488.1,242.3 L488.7,242.4 L489.3,242.4 L489.9,242.4 L490.5,242.4 L491.1,242.5 L491.8,242.5 L492.4,242.5 L493.0,242.5 L493.6,242.6 L494.2,242.6 L494.8,242.6 L495.4,242.6 L496.0,242.7 L496.6,242.7 L497.2,242.7 L497.8,242.7 L498.4,242.7 L499.0,242.7 L499.6,242.8 L500.2,242.8 L500.8,242.8 L501.4,242.8 L502.0,242.8 L502.6,242.8 L503.2,242.8 L503.8,242.8 L504.5,242.8 L505.1,242.9 L505.7,242.9 L506.3,242.9 L506.9,242.9 L507.5,242.9 L508.1,242.9 L508.7,242.9 L509.3,242.9 L509.9,242.9" fill="none" stroke="#404040" stroke-width="1.3" stroke-linejoin="round" stroke-linecap="round"/>
<path d="M401.2,225.2 L401.8,225.7 L402.4,226.1 L403.0,226.6 L403.6,226.9 L404.2,227.3 L404.8,227.7 L405.4,228.0 L406.0,228.3 L406.5,228.5 L407.1,228.8 L407.7,229.0 L408.3,229.2 L408.9,229.4 L409.4,229.5 L410.0,229.7 L410.6,229.8 L411.1,229.9 L411.7,230.0 L412.3,230.0 L412.8,230.1 L413.4,230.1 L414.0,230.1 L414.5,230.1 L415.1,230.1 L415.6,230.0 L416.2,229.9 L416.7,229.9 L417.3,229.8 L417.8,229.7 L418.4,229.5 L418.9,229.4 L419.4,229.3 L420.0,229.1 L420.5,228.9 L421.0,228.7 L421.6,228.5 L422.1,228.3 L422.6,228.1 L423.2,227.8 L423.7,227.6 L424.2,227.3 L424.7,227.1 L425.3,226.8 L425.8,226.5 L426.3,226.2 L426.8,225.9 L427.3,225.6 L427.9,225.3 L428.4,225.0 L428.9,224.6 L429.4,224.3 L429.9,224.0 L430.4,223.6 L430.9,223.3 L431.4,222.9 L431.9,222.6 L432.4,222.2 L433.0,221.8 L433.5,221.5 L434.0,221.1 L434.5,220.7 L435.0,220.4 L435.5,220.0 L436.0,219.6 L436.5,219.2 L437.0,218.9 L437.5,218.5 L438.0,218.1 L438.6,217.8 L439.1,217.4 L439.6,217.0 L440.1,216.7 L440.6,216.3 L441.1,215.9 L441.7,215.6 L442.2,215.2 L442.7,214.9 L443.2,214.5 L443.8,214.2 L444.3,213.9 L444.8,213.5 L445.4,213.2 L445.9,212.9 L446.4,212.6 L447.0,212.3 L447.5,212.0 L448.0,211.7 L448.6,211.5 L449.1,211.2 L449.7,210.9 L450.2,210.7 L450.8,210.4 L451.3,210.2 L451.8,210.0 L452.4,209.8 L453.0,209.6 L453.5,209.4 L454.1,209.2 L454.6,209.0 L455.2,208.9 L455.7,208.7 L456.3,208.6 L456.8,208.5 L457.4,208.3 L458.0,208.3 L458.5,208.2 L459.1,208.1 L459.7,208.0 L460.2,208.0 L460.8,208.0 L461.4,208.0 L461.9,208.0 L462.5,208.0 L463.1,208.0 L463.6,208.0 L464.2,208.1 L464.8,208.1 L465.3,208.2 L465.9,208.3 L466.5,208.3 L467.0,208.4 L467.6,208.6 L468.2,208.7 L468.8,208.8 L469.3,208.9 L469.9,209.1 L470.5,209.2 L471.0,209.4 L471.6,209.5 L472.2,209.7 L472.7,209.9 L473.3,210.1 L473.9,210.2 L474.4,210.4 L475.0,210.6 L475.6,210.8 L476.1,211.0 L476.7,211.2 L477.2,211.5 L477.8,211.7 L478.4,211.9 L478.9,212.1 L479.5,212.3 L480.0,212.6 L480.6,212.8 L481.1,213.0 L481.7,213.3 L482.2,213.5 L482.8,213.8 L483.3,214.0 L483.9,214.3 L484.4,214.5 L485.0,214.8 L485.5,215.0 L486.1,215.3 L486.6,215.5 L487.2,215.8 L487.7,216.0 L488.2,216.3 L488.8,216.6 L489.3,216.8 L489.9,217.1 L490.4,217.4 L491.0,217.6 L491.5,217.9 L492.0,218.2 L492.6,218.5 L493.1,218.7 L493.7,219.0 L494.2,219.3 L494.7,219.5 L495.3,219.8 L495.8,220.1 L496.4,220.4 L496.9,220.6 L497.5,220.9 L498.0,221.2 L498.5,221.4 L499.1,221.7 L499.6,222.0 L500.2,222.3 L500.7,222.5 L501.2,222.8 L501.8,223.1 L502.3,223.3 L502.9,223.6 L503.4,223.8 L504.0,224.1 L504.5,224.4 L505.1,224.6 L505.6,224.9 L506.2,225.1 L506.7,225.4 L507.3,225.6 L507.8,225.9 L508.4,226.1 L508.9,226.4 L509.5,226.6 L510.0,226.8 L510.6,227.1 L511.1,227.3 L511.7,227.5 L512.2,227.7 L512.8,228.0 L513.4,228.2 L513.9,228.4 L514.5,228.6 L515.0,228.8 L515.6,229.0 L516.2,229.2 L516.7,229.4 L517.3,229.6 L517.9,229.8 L518.4,230.0 L519.0,230.2 L519.6,230.3 L520.2,230.5 L520.7,230.7 L521.3,230.8 L521.9,231.0 L522.5,231.2 L523.1,231.3 L523.6,231.5 L524.2,231.6 L524.8,231.8 L525.4,231.9 L526.0,232.0 L526.6,232.2 L527.1,232.3 L527.7,232.5 L528.3,232.6 L528.9,232.7 L529.5,232.8 L530.1,233.0 L530.7,233.1 L531.3,233.2 L531.9,233.3 L532.4,233.4 L533.0,233.5 L533.6,233.6 L534.2,233.7 L534.8,233.9 L535.4,234.0 L536.0,234.1 L536.6,234.2 L537.2,234.3 L537.8,234.4 L538.4,234.4 L539.0,234.5 L539.6,234.6 L540.2,234.7 L540.8,234.8 L541.4,234.9 L542.0,235.0 L542.6,235.1 L543.2,235.2 L543.8,235.2 L544.4,235.3 L545.0,235.4 L545.6,235.5 L546.2,235.6 L546.8,235.7 L547.4,235.7 L548.0,235.8 L548.6,235.9 L549.2,236.0 L549.8,236.0 L550.4,236.1 L551.0,236.2 L551.6,236.3 L552.2,236.3 L552.8,236.4 L553.4,236.5 L554.0,236.6 L554.6,236.6 L555.2,236.7 L555.8,236.8 L556.4,236.8 L557.0,236.9 L557.6,237.0 L558.2,237.1 L558.8,237.1 L559.3,237.2 L559.9,237.3 L560.5,237.3 L561.1,237.4 L561.7,237.5 L562.3,237.5 L562.9,237.6 L563.5,237.6 L564.1,237.7 L564.7,237.8 L565.3,237.8 L565.9,237.9 L566.5,237.9 L567.1,238.0 L567.7,238.1 L568.3,238.1 L568.9,238.2 L569.5,238.2 L570.1,238.3 L570.7,238.4 L571.3,238.4 L571.9,238.5 L572.5,238.5 L573.1,238.6 L573.7,238.6 L574.3,238.7 L574.9,238.7 L575.5,238.8 L576.1,238.8 L576.7,238.9 L577.3,238.9 L577.9,239.0 L578.5,239.0 L579.1,239.1 L579.7,239.1 L580.3,239.2 L580.9,239.2 L581.5,239.3 L582.1,239.3 L582.7,239.4 L583.3,239.4 L583.9,239.5 L584.5,239.5 L585.1,239.5 L585.7,239.6 L586.3,239.6 L586.9,239.7 L587.5,239.7 L588.1,239.8 L588.7,239.8 L589.3,239.8 L589.9,239.9 L590.5,239.9 L591.1,240.0 L591.7,240.0 L592.3,240.0 L592.9,240.1 L593.5,240.1 L594.1,240.1 L594.7,240.2 L595.3,240.2 L595.9,240.2 L596.5,240.3 L597.1,240.3 L597.7,240.4 L598.3,240.4 L598.9,240.4 L599.5,240.5 L600.1,240.5 L600.7,240.5 L601.3,240.5 L601.9,240.6 L602.5,240.6 L603.1,240.6 L603.7,240.7 L604.3,240.7 L604.9,240.7 L605.5,240.8 L606.1,240.8 L606.7,240.8 L607.3,240.8 L607.9,240.9 L608.5,240.9 L609.1,240.9 L609.7,241.0 L610.3,241.0 L610.9,241.0 L611.5,241.0 L612.1,241.1 L612.7,241.1 L613.3,241.1 L613.9,241.1 L614.5,241.1 L615.1,241.2 L615.7,241.2 L616.3,241.2 L616.9,241.2 L617.5,241.3 L618.1,241.3 L618.7,241.3 L619.3,241.3 L619.9,241.3 L620.5,241.4 L621.1,241.4 L621.7,241.4 L622.3,241.4 L622.9,241.4 L623.5,241.5 L624.1,241.5 L624.7,241.5 L625.3,241.5 L625.9,241.5 L626.5,241.5 L627.1,241.6 L627.7,241.6 L628.4,241.6 L629.0,241.6 L629.6,241.6 L630.2,241.6 L630.8,241.7 L631.4,241.7 L632.0,241.7 L632.6,241.7 L633.2,241.7 L633.8,241.7 L634.4,241.7 L635.0,241.7 L635.6,241.8 L636.2,241.8 L636.8,241.8 L637.4,241.8 L638.0,241.8 L638.6,241.8 L639.2,241.8 L639.8,241.8 L640.4,241.9 L641.0,241.9 L641.6,241.9 L642.2,241.9 L642.8,241.9 L643.4,241.9 L644.0,241.9 L644.6,241.9 L645.2,241.9 L645.8,241.9 L646.4,241.9 L647.0,242.0 L647.6,242.0 L648.2,242.0 L648.8,242.0 L649.4,242.0 L650.0,242.0 L650.6,242.0 L651.2,242.0 L651.8,242.0 L652.4,242.0 L653.0,242.0 L653.6,242.0 L654.2,242.0 L654.8,242.0 L655.4,242.1 L656.0,242.1 L656.6,242.1 L657.2,242.1 L657.8,242.1 L658.5,242.1 L659.1,242.1 L659.7,242.1 L660.3,242.1 L660.9,242.1 L661.5,242.1 L662.1,242.1 L662.7,242.1 L663.3,242.1 L663.9,242.1 L664.5,242.1 L665.1,242.1 L665.7,242.1 L666.3,242.1 L666.9,242.1 L667.5,242.1 L668.1,242.1 L668.7,242.1 L669.3,242.1 L669.9,242.1 L670.5,242.1 L671.1,242.1 L671.7,242.1 L672.3,242.2" fill="none" stroke="#ee4040" stroke-width="1.5" stroke-linejoin="round" stroke-linecap="round"/>
<path d="M401.1,219.7 L401.4,220.4 L401.8,221.1 L402.2,221.8 L402.6,222.4 L403.0,223.0 L403.4,223.6 L403.9,224.1 L404.3,224.6 L404.7,225.0 L405.2,225.4 L405.7,225.8 L406.1,226.2 L406.6,226.5 L407.1,226.8 L407.6,227.1 L408.1,227.3 L408.6,227.5 L409.1,227.7 L409.6,227.8 L410.1,228.0 L410.6,228.1 L411.1,228.1 L411.7,228.2 L412.2,228.2 L412.7,228.2 L413.2,228.2 L413.8,228.2 L414.3,228.1 L414.8,228.0 L415.4,227.9 L415.9,227.8 L416.5,227.7 L417.0,227.5 L417.5,227.3 L418.0,227.1 L418.6,226.9 L419.1,226.7 L419.6,226.4 L420.1,226.2 L420.7,225.9 L421.2,225.6 L421.7,225.3 L422.2,225.0 L422.7,224.7 L423.2,224.4 L423.7,224.0 L424.2,223.7 L424.6,223.3 L425.1,222.9 L425.6,222.6 L426.0,222.2 L426.5,221.8 L426.9,221.4 L427.4,221.0 L427.8,220.5 L428.3,220.1 L428.7,219.7 L429.1,219.2 L429.6,218.8 L430.0,218.4 L430.4,217.9 L430.8,217.4 L431.3,217.0 L431.7,216.5 L432.1,216.0 L432.5,215.6 L432.9,215.1 L433.3,214.6 L433.7,214.2 L434.1,213.7 L434.5,213.2 L435.0,212.7 L435.4,212.2 L435.8,211.7 L436.2,211.3 L436.6,210.8 L437.0,210.3 L437.4,209.8 L437.8,209.3 L438.3,208.9 L438.7,208.4 L439.1,207.9 L439.5,207.5 L440.0,207.0 L440.4,206.5 L440.8,206.1 L441.3,205.6 L441.7,205.2 L442.1,204.7 L442.6,204.3 L443.0,203.9 L443.5,203.4 L444.0,203.0 L444.4,202.6 L444.9,202.2 L445.4,201.8 L445.9,201.4 L446.3,201.0 L446.8,200.7 L447.3,200.3 L447.8,199.9 L448.3,199.6 L448.8,199.2 L449.3,198.9 L449.8,198.6 L450.3,198.3 L450.8,198.0 L451.3,197.7 L451.9,197.4 L452.4,197.2 L452.9,196.9 L453.4,196.7 L454.0,196.5 L454.5,196.2 L455.0,196.0 L455.6,195.9 L456.1,195.7 L456.7,195.5 L457.2,195.4 L457.8,195.2 L458.3,195.1 L458.9,195.0 L459.4,194.9 L460.0,194.9 L460.6,194.8 L461.1,194.8 L461.7,194.8 L462.3,194.8 L462.8,194.8 L463.4,194.8 L464.0,194.8 L464.6,194.9 L465.1,194.9 L465.7,195.0 L466.3,195.1 L466.9,195.2 L467.4,195.3 L468.0,195.4 L468.6,195.5 L469.2,195.6 L469.7,195.8 L470.3,195.9 L470.9,196.1 L471.5,196.3 L472.0,196.4 L472.6,196.6 L473.2,196.8 L473.7,197.0 L474.3,197.2 L474.9,197.4 L475.4,197.6 L476.0,197.9 L476.6,198.1 L477.1,198.3 L477.7,198.6 L478.2,198.8 L478.8,199.1 L479.3,199.3 L479.9,199.6 L480.4,199.8 L480.9,200.1 L481.5,200.4 L482.0,200.6 L482.6,200.9 L483.1,201.2 L483.6,201.5 L484.1,201.7 L484.7,202.0 L485.2,202.3 L485.7,202.6 L486.2,202.9 L486.8,203.2 L487.3,203.5 L487.8,203.8 L488.3,204.1 L488.8,204.4 L489.4,204.8 L489.9,205.1 L490.4,205.4 L490.9,205.7 L491.4,206.0 L491.9,206.4 L492.4,206.7 L492.9,207.0 L493.4,207.3 L494.0,207.7 L494.5,208.0 L495.0,208.3 L495.5,208.7 L496.0,209.0 L496.5,209.3 L497.0,209.7 L497.5,210.0 L498.0,210.3 L498.5,210.7 L499.0,211.0 L499.5,211.3 L500.0,211.7 L500.5,212.0 L501.0,212.3 L501.5,212.7 L502.0,213.0 L502.5,213.3 L503.0,213.7 L503.6,214.0 L504.1,214.3 L504.6,214.7 L505.1,215.0 L505.6,215.3 L506.1,215.6 L506.6,216.0 L507.1,216.3 L507.6,216.6 L508.1,216.9 L508.6,217.2 L509.2,217.6 L509.7,217.9 L510.2,218.2 L510.7,218.5 L511.2,218.8 L511.8,219.1 L512.3,219.4 L512.8,219.7 L513.3,220.0 L513.8,220.3 L514.4,220.6 L514.9,220.8 L515.4,221.1 L516.0,221.4 L516.5,221.7 L517.0,222.0 L517.6,222.2 L518.1,222.5 L518.7,222.7 L519.2,223.0 L519.7,223.3 L520.3,223.5 L520.8,223.8 L521.4,224.0 L521.9,224.2 L522.5,224.5 L523.0,224.7 L523.6,225.0 L524.2,225.2 L524.7,225.4 L525.3,225.6 L525.8,225.9 L526.4,226.1 L527.0,226.3 L527.5,226.5 L528.1,226.7 L528.6,226.9 L529.2,227.1 L529.8,227.3 L530.4,227.5 L530.9,227.7 L531.5,227.9 L532.1,228.1 L532.6,228.3 L533.2,228.5 L533.8,228.7 L534.4,228.8 L534.9,229.0 L535.5,229.2 L536.1,229.4 L536.7,229.6 L537.3,229.7 L537.8,229.9 L538.4,230.1 L539.0,230.2 L539.6,230.4 L540.2,230.6 L540.7,230.7 L541.3,230.9 L541.9,231.0 L542.5,231.2 L543.1,231.3 L543.7,231.5 L544.2,231.7 L544.8,231.8 L545.4,231.9 L546.0,232.1 L546.6,232.2 L547.2,232.4 L547.8,232.5 L548.4,232.7 L548.9,232.8 L549.5,232.9 L550.1,233.1 L550.7,233.2 L551.3,233.3 L551.9,233.5 L552.5,233.6 L553.1,233.7 L553.6,233.9 L554.2,234.0 L554.8,234.1 L555.4,234.2 L556.0,234.4 L556.6,234.5 L557.2,234.6 L557.8,234.7 L558.4,234.9 L559.0,235.0 L559.5,235.1 L560.1,235.2 L560.7,235.3 L561.3,235.4 L561.9,235.5 L562.5,235.6 L563.1,235.8 L563.7,235.9 L564.3,236.0 L564.9,236.1 L565.5,236.2 L566.1,236.3 L566.6,236.4 L567.2,236.5 L567.8,236.6 L568.4,236.7 L569.0,236.8 L569.6,236.9 L570.2,237.0 L570.8,237.1 L571.4,237.1 L572.0,237.2 L572.6,237.3 L573.2,237.4 L573.8,237.5 L574.4,237.6 L575.0,237.7 L575.6,237.8 L576.2,237.9 L576.7,237.9 L577.3,238.0 L577.9,238.1 L578.5,238.2 L579.1,238.3 L579.7,238.3 L580.3,238.4 L580.9,238.5 L581.5,238.6 L582.1,238.6 L582.7,238.7 L583.3,238.8 L583.9,238.9 L584.5,238.9 L585.1,239.0 L585.7,239.1 L586.3,239.1 L586.9,239.2 L587.5,239.3 L588.1,239.3 L588.7,239.4 L589.3,239.5 L589.9,239.5 L590.5,239.6 L591.1,239.6 L591.7,239.7 L592.3,239.8 L592.9,239.8 L593.5,239.9 L594.1,239.9 L594.7,240.0 L595.3,240.0 L595.9,240.1 L596.5,240.1 L597.1,240.2 L597.7,240.3 L598.3,240.3 L598.9,240.4 L599.5,240.4 L600.1,240.5 L600.7,240.5 L601.3,240.5 L601.9,240.6 L602.5,240.6 L603.1,240.7 L603.7,240.7 L604.3,240.8 L604.9,240.8 L605.5,240.9 L606.1,240.9 L606.7,240.9 L607.3,241.0 L607.9,241.0 L608.5,241.1 L609.1,241.1 L609.7,241.1 L610.3,241.2 L610.9,241.2 L611.5,241.3 L612.1,241.3 L612.7,241.3 L613.3,241.4 L613.9,241.4 L614.5,241.4 L615.1,241.5 L615.7,241.5 L616.3,241.5 L616.9,241.6 L617.5,241.6 L618.1,241.6 L618.7,241.7 L619.3,241.7 L619.9,241.7 L620.5,241.7 L621.1,241.8 L621.7,241.8 L622.3,241.8 L622.9,241.9 L623.5,241.9 L624.1,241.9 L624.7,241.9 L625.3,242.0 L625.9,242.0 L626.5,242.0 L627.1,242.0 L627.7,242.1 L628.3,242.1 L628.9,242.1 L629.5,242.1 L630.2,242.1 L630.8,242.2 L631.4,242.2 L632.0,242.2 L632.6,242.2 L633.2,242.3 L633.8,242.3 L634.4,242.3 L635.0,242.3 L635.6,242.3 L636.2,242.4 L636.8,242.4 L637.4,242.4 L638.0,242.4 L638.6,242.4 L639.2,242.4 L639.8,242.5 L640.4,242.5 L641.0,242.5 L641.6,242.5 L642.2,242.5 L642.8,242.6 L643.4,242.6 L644.0,242.6 L644.6,242.6 L645.2,242.6 L645.8,242.6 L646.4,242.6 L647.0,242.7 L647.6,242.7 L648.2,242.7 L648.8,242.7 L649.4,242.7 L650.0,242.7 L650.6,242.8 L651.2,242.8 L651.8,242.8 L652.4,242.8 L653.0,242.8 L653.6,242.8 L654.3,242.8 L654.9,242.9 L655.5,242.9 L656.1,242.9 L656.7,242.9 L657.3,242.9 L657.9,242.9 L658.5,243.0 L659.1,243.0 L659.7,243.0 L660.3,243.0 L660.9,243.0 L661.5,243.0 L662.1,243.0 L662.7,243.1 L663.3,243.1 L663.9,243.1 L664.5,243.1 L665.1,243.1 L665.7,243.1 L666.3,243.1 L666.9,243.2 L667.5,243.2 L668.1,243.2 L668.7,243.2 L669.3,243.2 L669.9,243.2 L670.5,243.3 L671.1,243.3 L671.7,243.3 L672.3,243.3" fill="none" stroke="#b07ed4" stroke-width="1.5" stroke-linejoin="round" stroke-linecap="round"/>
<path d="M401.6,192.2 L401.5,192.7 L401.5,193.3 L401.5,193.8 L401.5,194.4 L401.6,195.0 L401.7,195.6 L401.8,196.3 L401.9,196.9 L402.1,197.5 L402.3,198.1 L402.5,198.8 L402.7,199.4 L402.9,200.0 L403.2,200.6 L403.5,201.2 L403.8,201.9 L404.1,202.5 L404.5,203.1 L404.8,203.6 L405.2,204.2 L405.6,204.8 L406.0,205.3 L406.4,205.8 L406.8,206.3 L407.2,206.8 L407.7,207.2 L408.1,207.7 L408.6,208.1 L409.0,208.4 L409.5,208.8 L409.9,209.1 L410.4,209.4 L410.9,209.6 L411.3,209.8 L411.8,210.0 L412.3,210.2 L412.7,210.2 L413.2,210.3 L413.7,210.3 L414.1,210.3 L414.6,210.2 L415.0,210.1 L415.5,209.9 L415.9,209.7 L416.4,209.5 L416.8,209.2 L417.2,208.9 L417.6,208.6 L418.1,208.3 L418.5,207.9 L418.9,207.5 L419.3,207.0 L419.7,206.6 L420.1,206.1 L420.5,205.7 L420.8,205.2 L421.2,204.7 L421.6,204.1 L422.0,203.6 L422.3,203.1 L422.7,202.5 L423.0,202.0 L423.4,201.4 L423.7,200.9 L424.0,200.3 L424.4,199.8 L424.7,199.2 L425.0,198.7 L425.3,198.2 L425.6,197.6 L425.9,197.1 L426.2,196.5 L426.5,196.0 L426.8,195.4 L427.1,194.9 L427.4,194.4 L427.7,193.8 L427.9,193.3 L428.2,192.7 L428.5,192.2 L428.7,191.6 L429.0,191.1 L429.3,190.6 L429.5,190.0 L429.8,189.5 L430.0,188.9 L430.3,188.4 L430.5,187.8 L430.8,187.3 L431.0,186.7 L431.3,186.2 L431.5,185.6 L431.8,185.1 L432.0,184.5 L432.3,184.0 L432.5,183.4 L432.7,182.9 L433.0,182.3 L433.2,181.8 L433.5,181.2 L433.7,180.6 L434.0,180.1 L434.2,179.5 L434.5,179.0 L434.7,178.4 L434.9,177.9 L435.2,177.3 L435.4,176.8 L435.7,176.2 L435.9,175.7 L436.2,175.1 L436.4,174.5 L436.7,174.0 L436.9,173.4 L437.2,172.9 L437.4,172.3 L437.7,171.8 L437.9,171.2 L438.2,170.7 L438.4,170.1 L438.7,169.6 L439.0,169.1 L439.2,168.5 L439.5,168.0 L439.8,167.4 L440.0,166.9 L440.3,166.4 L440.6,165.8 L440.9,165.3 L441.1,164.8 L441.4,164.2 L441.7,163.7 L442.0,163.2 L442.3,162.6 L442.6,162.1 L442.9,161.6 L443.2,161.1 L443.5,160.6 L443.8,160.0 L444.1,159.5 L444.4,159.0 L444.7,158.5 L445.1,158.0 L445.4,157.5 L445.7,157.0 L446.0,156.5 L446.4,156.0 L446.7,155.5 L447.1,155.0 L447.4,154.5 L447.8,154.0 L448.1,153.6 L448.5,153.1 L448.9,152.6 L449.2,152.1 L449.6,151.7 L450.0,151.2 L450.4,150.7 L450.8,150.3 L451.2,149.8 L451.6,149.4 L452.0,148.9 L452.4,148.5 L452.8,148.0 L453.3,147.6 L453.7,147.2 L454.1,146.8 L454.6,146.4 L455.0,146.0 L455.5,145.6 L455.9,145.2 L456.4,144.9 L456.9,144.5 L457.4,144.2 L457.9,143.9 L458.4,143.6 L458.9,143.3 L459.4,143.1 L459.9,142.8 L460.5,142.6 L461.0,142.4 L461.5,142.3 L462.1,142.1 L462.7,142.0 L463.2,141.9 L463.8,141.8 L464.4,141.8 L465.0,141.8 L465.6,141.8 L466.2,141.9 L466.8,141.9 L467.4,142.0 L468.1,142.1 L468.7,142.3 L469.3,142.4 L469.9,142.6 L470.5,142.8 L471.1,143.0 L471.7,143.2 L472.2,143.4 L472.8,143.7 L473.4,143.9 L473.9,144.2 L474.4,144.5 L475.0,144.8 L475.5,145.1 L476.0,145.4 L476.5,145.7 L477.0,146.0 L477.5,146.4 L477.9,146.7 L478.4,147.1 L478.9,147.5 L479.3,147.9 L479.8,148.3 L480.2,148.7 L480.6,149.1 L481.0,149.5 L481.5,149.9 L481.9,150.3 L482.3,150.8 L482.7,151.2 L483.1,151.7 L483.4,152.1 L483.8,152.6 L484.2,153.1 L484.6,153.5 L484.9,154.0 L485.3,154.5 L485.7,155.0 L486.0,155.5 L486.4,156.0 L486.7,156.5 L487.0,157.0 L487.4,157.5 L487.7,158.0 L488.1,158.5 L488.4,159.0 L488.7,159.6 L489.0,160.1 L489.4,160.6 L489.7,161.1 L490.0,161.7 L490.3,162.2 L490.7,162.7 L491.0,163.3 L491.3,163.8 L491.6,164.3 L491.9,164.8 L492.2,165.4 L492.6,165.9 L492.9,166.4 L493.2,167.0 L493.5,167.5 L493.8,168.0 L494.2,168.5 L494.5,169.0 L494.8,169.6 L495.1,170.1 L495.5,170.6 L495.8,171.1 L496.1,171.6 L496.5,172.1 L496.8,172.6 L497.1,173.1 L497.5,173.6 L497.8,174.1 L498.1,174.6 L498.5,175.1 L498.8,175.6 L499.2,176.1 L499.5,176.6 L499.9,177.1 L500.2,177.5 L500.6,178.0 L500.9,178.5 L501.3,179.0 L501.6,179.5 L502.0,179.9 L502.3,180.4 L502.7,180.9 L503.1,181.3 L503.4,181.8 L503.8,182.3 L504.2,182.7 L504.5,183.2 L504.9,183.7 L505.3,184.1 L505.7,184.6 L506.0,185.1 L506.4,185.5 L506.8,186.0 L507.2,186.4 L507.6,186.9 L507.9,187.3 L508.3,187.8 L508.7,188.2 L509.1,188.7 L509.5,189.1 L509.9,189.5 L510.3,190.0 L510.7,190.4 L511.1,190.9 L511.5,191.3 L511.9,191.7 L512.3,192.2 L512.7,192.6 L513.1,193.0 L513.5,193.5 L514.0,193.9 L514.4,194.3 L514.8,194.8 L515.2,195.2 L515.6,195.6 L516.1,196.0 L516.5,196.5 L516.9,196.9 L517.4,197.3 L517.8,197.7 L518.2,198.1 L518.7,198.6 L519.1,199.0 L519.5,199.4 L520.0,199.8 L520.4,200.2 L520.9,200.6 L521.3,201.0 L521.8,201.4 L522.2,201.8 L522.7,202.2 L523.1,202.6 L523.6,203.0 L524.0,203.4 L524.5,203.8 L524.9,204.2 L525.4,204.6 L525.9,205.0 L526.3,205.4 L526.8,205.8 L527.3,206.2 L527.7,206.5 L528.2,206.9 L528.7,207.3 L529.2,207.7 L529.7,208.1 L530.1,208.4 L530.6,208.8 L531.1,209.2 L531.6,209.5 L532.1,209.9 L532.5,210.3 L533.0,210.6 L533.5,211.0 L534.0,211.4 L534.5,211.7 L535.0,212.1 L535.5,212.4 L536.0,212.8 L536.5,213.1 L537.0,213.5 L537.5,213.8 L538.0,214.1 L538.5,214.5 L539.0,214.8 L539.5,215.1 L540.0,215.5 L540.5,215.8 L541.0,216.1 L541.6,216.4 L542.1,216.8 L542.6,217.1 L543.1,217.4 L543.6,217.7 L544.1,218.0 L544.7,218.3 L545.2,218.6 L545.7,218.9 L546.2,219.2 L546.8,219.5 L547.3,219.8 L547.8,220.1 L548.3,220.4 L548.9,220.7 L549.4,221.0 L549.9,221.3 L550.5,221.6 L551.0,221.8 L551.5,222.1 L552.1,222.4 L552.6,222.6 L553.1,222.9 L553.7,223.2 L554.2,223.4 L554.8,223.7 L555.3,223.9 L555.9,224.2 L556.4,224.4 L556.9,224.7 L557.5,224.9 L558.0,225.2 L558.6,225.4 L559.1,225.6 L559.7,225.9 L560.2,226.1 L560.8,226.3 L561.3,226.5 L561.9,226.8 L562.5,227.0 L563.0,227.2 L563.6,227.4 L564.1,227.6 L564.7,227.8 L565.2,228.0 L565.8,228.2 L566.4,228.4 L566.9,228.6 L567.5,228.8 L568.1,229.0 L568.6,229.2 L569.2,229.4 L569.8,229.5 L570.3,229.7 L570.9,229.9 L571.5,230.1 L572.0,230.3 L572.6,230.4 L573.2,230.6 L573.7,230.8 L574.3,230.9 L574.9,231.1 L575.5,231.2 L576.0,231.4 L576.6,231.6 L577.2,231.7 L577.8,231.9 L578.3,232.0 L578.9,232.2 L579.5,232.3 L580.1,232.4 L580.7,232.6 L581.2,232.7 L581.8,232.9 L582.4,233.0 L583.0,233.1 L583.6,233.3 L584.2,233.4 L584.7,233.5 L585.3,233.6 L585.9,233.8 L586.5,233.9 L587.1,234.0 L587.7,234.1 L588.3,234.2 L588.9,234.3 L589.4,234.4 L590.0,234.6 L590.6,234.7 L591.2,234.8 L591.8,234.9 L592.4,235.0 L593.0,235.1 L593.6,235.2 L594.2,235.3 L594.8,235.4 L595.4,235.5 L596.0,235.6 L596.6,235.6 L597.1,235.7 L597.7,235.8 L598.3,235.9 L598.9,236.0 L599.5,236.1 L600.1,236.2 L600.7,236.2 L601.3,236.3 L601.9,236.4 L602.5,236.5 L603.1,236.6 L603.7,236.6 L604.3,236.7 L604.9,236.8 L605.5,236.8 L606.1,236.9 L606.7,237.0 L607.3,237.1 L607.9,237.1 L608.5,237.2 L609.1,237.2 L609.7,237.3 L610.3,237.4 L610.9,237.4 L611.5,237.5 L612.1,237.5 L612.7,237.6 L613.3,237.7 L613.9,237.7 L614.6,237.8 L615.2,237.8 L615.8,237.9 L616.4,237.9 L617.0,238.0 L617.6,238.0 L618.2,238.1 L618.8,238.1 L619.4,238.2 L620.0,238.2 L620.6,238.3 L621.2,238.3 L621.8,238.4 L622.4,238.4 L623.0,238.4 L623.6,238.5 L624.2,238.5 L624.8,238.6 L625.4,238.6 L626.0,238.6 L626.7,238.7 L627.3,238.7 L627.9,238.8 L628.5,238.8 L629.1,238.8 L629.7,238.9 L630.3,238.9 L630.9,238.9 L631.5,239.0 L632.1,239.0 L632.7,239.1 L633.3,239.1 L633.9,239.1 L634.5,239.2 L635.1,239.2 L635.7,239.2 L636.3,239.3 L636.9,239.3 L637.5,239.3 L638.2,239.4 L638.8,239.4 L639.4,239.4 L640.0,239.4 L640.6,239.5 L641.2,239.5 L641.8,239.5 L642.4,239.6 L643.0,239.6 L643.6,239.6 L644.2,239.7 L644.8,239.7 L645.4,239.7 L646.0,239.8 L646.6,239.8 L647.2,239.8 L647.8,239.9 L648.4,239.9 L649.0,239.9 L649.6,240.0 L650.2,240.0 L650.8,240.0 L651.4,240.1 L652.0,240.1 L652.6,240.1 L653.2,240.2 L653.8,240.2 L654.4,240.2 L655.0,240.3 L655.6,240.3 L656.2,240.3 L656.8,240.4 L657.4,240.4 L658.0,240.4 L658.6,240.5 L659.2,240.5 L659.7,240.6 L660.3,240.6 L660.9,240.6 L661.5,240.7 L662.1,240.7 L662.7,240.8 L663.3,240.8 L663.9,240.8 L664.5,240.9 L665.1,240.9 L665.7,241.0 L666.2,241.0 L666.8,241.1 L667.4,241.1 L668.0,241.2 L668.6,241.2 L669.2,241.3 L669.8,241.3 L670.3,241.4 L670.9,241.4 L671.5,241.5 L672.1,241.5" fill="none" stroke="#38b470" stroke-width="1.5" stroke-linejoin="round" stroke-linecap="round"/>
<path d="M401.6,204.8 L401.7,205.4 L401.9,206.0 L402.0,206.0 L402.2,207.7 L402.4,208.1 L402.6,207.9 L402.9,208.9 L403.1,209.4 L403.4,210.4 L403.7,211.2 L404.0,210.6 L404.3,211.1 L404.7,213.0 L405.0,212.9 L405.4,213.9 L405.8,213.2 L406.2,214.4 L406.6,215.3 L407.1,214.9 L407.5,216.5 L407.9,216.8 L408.4,215.7 L408.9,216.0 L409.3,217.1 L409.8,217.9 L410.3,217.2 L410.8,217.0 L411.3,217.4 L411.8,216.8 L412.3,217.1 L412.8,217.4 L413.3,217.3 L413.8,216.8 L414.3,216.5 L414.8,216.3 L415.2,216.4 L415.7,215.8 L416.1,215.1 L416.6,216.0 L417.0,215.2 L417.4,214.9 L417.7,213.8 L418.1,214.6 L418.4,214.0 L418.7,212.3 L419.0,212.2 L419.3,212.3 L419.6,211.7 L419.8,211.5 L420.0,210.2 L420.3,210.3 L420.5,209.4 L420.7,208.3 L420.9,208.1 L421.0,207.4 L421.2,206.8 L421.4,206.2 L421.6,205.6 L421.7,204.9 L421.9,204.3 L422.0,203.7 L422.2,203.1 L422.3,202.4 L422.5,201.8 L422.6,201.2 L422.8,200.6 L422.9,200.0 L423.1,199.4 L423.3,198.7 L423.4,198.1 L423.6,197.5 L423.7,196.9 L423.9,196.3 L424.1,195.7 L424.2,195.1 L424.4,194.5 L424.6,193.9 L424.7,193.3 L424.9,192.7 L425.0,192.1 L425.2,191.5 L425.4,191.0 L425.5,190.4 L425.7,189.8 L425.9,189.2 L426.1,188.6 L426.2,188.0 L426.4,187.4 L426.6,186.9 L426.7,186.3 L426.9,185.7 L427.1,185.1 L427.2,184.5 L427.4,184.0 L427.6,183.4 L427.8,182.8 L427.9,182.2 L428.1,181.7 L428.3,181.1 L428.4,180.5 L428.6,180.0 L428.8,179.4 L429.0,178.8 L429.1,178.2 L429.3,177.7 L429.5,177.1 L429.6,176.5 L429.8,176.0 L430.0,175.4 L430.1,174.8 L430.3,174.3 L430.5,173.7 L430.6,173.1 L430.8,172.6 L431.0,172.0 L431.2,171.4 L431.3,170.9 L431.5,170.3 L431.7,169.7 L431.8,169.2 L432.0,168.6 L432.2,168.1 L432.3,167.5 L432.5,166.9 L432.6,166.4 L432.8,165.8 L433.0,165.2 L433.1,164.7 L433.3,164.1 L433.5,163.5 L433.6,163.0 L433.8,162.4 L434.0,161.9 L434.1,161.3 L434.3,160.7 L434.5,160.2 L434.6,159.6 L434.8,159.0 L434.9,158.5 L435.1,157.9 L435.3,157.3 L435.4,156.8 L435.6,156.2 L435.8,155.6 L435.9,155.1 L436.1,154.5 L436.3,153.9 L436.4,153.4 L436.6,152.8 L436.7,152.2 L436.9,151.7 L437.1,151.1 L437.2,150.5 L437.4,150.0 L437.6,149.4 L437.7,148.8 L437.9,148.3 L438.0,147.7 L438.2,147.1 L438.4,146.6 L438.5,146.0 L438.7,145.4 L438.9,144.8 L439.0,144.3 L439.2,143.7 L439.4,143.1 L439.5,142.6 L439.7,142.0 L439.8,141.4 L440.0,140.8 L440.2,140.3 L440.3,139.7 L440.5,139.1 L440.7,138.5 L440.8,137.9 L441.0,137.4 L441.2,136.8 L441.3,136.2 L441.5,135.6 L441.7,135.0 L441.8,134.5 L442.0,133.9 L442.2,133.3 L442.3,132.7 L442.5,132.1 L442.7,131.5 L442.8,131.0 L443.0,130.4 L443.2,129.8 L443.3,129.2 L443.5,128.6 L443.7,128.0 L443.8,127.4 L444.0,126.8 L444.2,126.2 L444.3,125.6 L444.5,125.0 L444.7,124.4 L444.8,123.8 L445.0,123.2 L445.2,122.6 L445.4,122.0 L445.5,121.4 L445.7,120.8 L445.9,120.2 L446.1,119.6 L446.2,119.0 L446.4,118.4 L446.6,117.8 L446.7,117.2 L446.9,116.6 L447.1,116.0 L447.3,115.4 L447.4,114.7 L447.6,114.1 L447.8,113.5 L448.0,112.9 L448.2,112.3 L448.3,111.7 L448.5,111.0 L448.7,110.4 L448.9,109.8 L449.1,109.2 L449.3,108.6 L449.5,108.0 L449.7,107.4 L449.9,106.8 L450.1,106.2 L450.3,105.6 L450.5,105.0 L450.7,104.4 L451.0,103.9 L451.2,103.3 L451.4,102.7 L451.7,102.2 L451.9,101.6 L452.2,101.1 L452.4,100.5 L452.7,100.0 L453.0,99.5 L453.3,99.0 L453.6,98.5 L453.9,98.0 L454.2,98.0 L454.5,97.5 L454.8,96.6 L455.1,96.2 L455.5,95.1 L455.8,94.9 L456.2,95.2 L456.6,94.3 L457.0,93.7 L457.4,93.7 L457.8,93.5 L458.2,93.2 L458.6,92.5 L459.0,92.2 L459.5,92.0 L460.0,92.0 L460.4,91.5 L460.9,91.1 L461.4,90.9 L461.9,90.2 L462.4,90.0 L462.9,90.7 L463.4,90.9 L463.9,90.3 L464.4,90.1 L464.9,89.8 L465.4,90.2 L466.0,90.8 L466.5,90.7 L467.0,90.6 L467.4,91.2 L467.9,90.6 L468.4,91.3 L468.9,92.1 L469.3,92.1 L469.8,92.3 L470.2,92.5 L470.6,93.3 L471.1,94.3 L471.5,93.7 L471.9,95.1 L472.3,95.7 L472.6,96.4 L473.0,96.8 L473.3,97.4 L473.7,97.6 L474.0,98.3 L474.3,98.8 L474.6,99.4 L474.9,99.9 L475.1,100.5 L475.4,101.1 L475.6,101.7 L475.9,102.3 L476.1,102.9 L476.3,103.5 L476.5,104.1 L476.7,104.6 L476.9,105.2 L477.1,105.8 L477.3,106.4 L477.5,107.0 L477.6,107.6 L477.8,108.2 L478.0,108.8 L478.1,109.4 L478.2,110.0 L478.4,110.6 L478.5,111.2 L478.7,111.8 L478.8,112.3 L478.9,112.9 L479.1,113.5 L479.2,114.1 L479.3,114.7 L479.5,115.3 L479.6,115.9 L479.7,116.5 L479.8,117.1 L480.0,117.6 L480.1,118.2 L480.3,118.8 L480.4,119.4 L480.5,120.0 L480.7,120.5 L480.8,121.1 L481.0,121.7 L481.2,122.2 L481.3,122.8 L481.5,123.4 L481.7,124.0 L481.8,124.5 L482.0,125.1 L482.2,125.7 L482.3,126.2 L482.5,126.8 L482.7,127.3 L482.9,127.9 L483.1,128.5 L483.3,129.0 L483.4,129.6 L483.6,130.2 L483.8,130.7 L484.0,131.3 L484.2,131.8 L484.4,132.4 L484.6,133.0 L484.8,133.5 L485.0,134.1 L485.2,134.6 L485.4,135.2 L485.6,135.7 L485.8,136.3 L486.0,136.9 L486.2,137.4 L486.4,138.0 L486.6,138.6 L486.8,139.1 L487.0,139.7 L487.2,140.2 L487.4,140.8 L487.6,141.4 L487.8,141.9 L488.0,142.5 L488.2,143.1 L488.4,143.6 L488.6,144.2 L488.8,144.8 L489.0,145.3 L489.1,145.9 L489.3,146.5 L489.5,147.1 L489.7,147.6 L489.9,148.2 L490.1,148.8 L490.3,149.3 L490.5,149.9 L490.7,150.5 L490.9,151.1 L491.1,151.6 L491.3,152.2 L491.5,152.8 L491.7,153.4 L491.9,153.9 L492.1,154.5 L492.3,155.1 L492.5,155.7 L492.7,156.2 L492.9,156.8 L493.1,157.4 L493.3,158.0 L493.5,158.5 L493.7,159.1 L493.9,159.7 L494.1,160.2 L494.3,160.8 L494.5,161.4 L494.7,162.0 L494.9,162.5 L495.1,163.1 L495.3,163.7 L495.5,164.2 L495.7,164.8 L496.0,165.4 L496.2,165.9 L496.4,166.5 L496.6,167.1 L496.8,167.6 L497.0,168.2 L497.3,168.8 L497.5,169.3 L497.7,169.9 L498.0,170.4 L498.2,171.0 L498.4,171.6 L498.7,172.1 L498.9,172.7 L499.1,173.2 L499.4,173.8 L499.6,174.3 L499.9,174.9 L500.1,175.4 L500.4,176.0 L500.6,176.5 L500.9,177.1 L501.1,177.6 L501.4,178.1 L501.6,178.7 L501.9,179.2 L502.2,179.8 L502.5,180.3 L502.7,180.8 L503.0,181.4 L503.3,181.9 L503.6,182.4 L503.8,182.9 L504.1,183.5 L504.4,184.0 L504.7,184.5 L505.0,185.0 L505.3,185.5 L505.6,186.1 L505.9,186.6 L506.2,187.1 L506.5,187.6 L506.9,188.1 L507.2,188.6 L507.5,189.1 L507.8,189.6 L508.2,190.1 L508.5,190.6 L508.8,191.1 L509.2,191.6 L509.5,192.0 L509.9,192.5 L510.2,193.0 L510.6,193.5 L510.9,194.0 L511.3,194.4 L511.7,194.9 L512.0,195.4 L512.4,195.8 L512.8,196.3 L513.2,196.8 L513.6,197.2 L514.0,197.7 L514.4,198.1 L514.8,198.6 L515.2,199.0 L515.6,199.5 L516.0,199.9 L516.4,200.3 L516.8,200.8 L517.2,201.2 L517.7,201.6 L518.1,202.1 L518.5,202.5 L519.0,202.9 L519.4,203.3 L519.9,203.7 L520.3,204.1 L520.8,204.5 L521.2,204.9 L521.7,205.3 L522.1,205.7 L522.6,206.1 L523.1,206.5 L523.5,206.9 L524.0,207.3 L524.5,207.6 L525.0,208.0 L525.4,208.4 L525.9,208.8 L526.4,209.1 L526.9,209.5 L527.4,209.9 L527.9,210.2 L528.4,210.6 L528.9,210.9 L529.4,211.2 L529.9,211.6 L530.4,211.9 L530.9,212.3 L531.4,212.6 L531.9,212.9 L532.4,213.2 L532.9,213.6 L533.4,213.9 L533.9,214.2 L534.4,214.5 L535.0,214.8 L535.5,215.1 L536.0,215.4 L536.5,215.7 L537.0,216.0 L537.6,216.3 L538.1,216.5 L538.6,216.8 L539.2,217.1 L539.7,217.4 L540.2,217.6 L540.8,217.9 L541.3,218.2 L541.8,218.4 L542.4,218.7 L542.9,218.9 L543.4,219.2 L544.0,219.4 L544.5,219.7 L545.1,219.9 L545.6,220.2 L546.2,220.4 L546.7,220.6 L547.3,220.9 L547.8,221.1 L548.4,221.3 L548.9,221.5 L549.5,221.7 L550.0,222.0 L550.6,222.2 L551.1,222.4 L551.7,222.6 L552.3,222.8 L552.8,223.0 L553.4,223.2 L553.9,223.4 L554.5,223.6 L555.1,223.8 L555.6,224.0 L556.2,224.1 L556.8,224.3 L557.3,224.5 L557.9,224.7 L558.5,224.9 L559.1,225.0 L559.6,225.2 L560.2,225.4 L560.8,225.5 L561.3,225.7 L561.9,225.9 L562.5,226.0 L563.1,226.2 L563.7,226.3 L564.2,226.5 L564.8,226.6 L565.4,226.8 L566.0,226.9 L566.6,227.1 L567.1,227.2 L567.7,227.4 L568.3,227.5 L568.9,227.6 L569.5,227.8 L570.1,227.9 L570.7,228.0 L571.2,228.2 L571.8,228.3 L572.4,228.4 L573.0,228.5 L573.6,228.6 L574.2,228.8 L574.8,228.9 L575.4,229.0 L576.0,229.1 L576.6,229.2 L577.2,229.3 L577.8,229.5 L578.3,229.6 L578.9,229.7 L579.5,229.8 L580.1,229.9 L580.7,230.0 L581.3,230.1 L581.9,230.2 L582.5,230.3 L583.1,230.4 L583.7,230.5 L584.3,230.6 L584.9,230.7 L585.5,230.8 L586.1,230.9 L586.7,230.9 L587.3,231.0 L587.9,231.1 L588.5,231.2 L589.1,231.3 L589.7,231.4 L590.3,231.5 L590.9,231.5 L591.5,231.6 L592.1,231.7 L592.7,231.8 L593.3,231.9 L593.9,231.9 L594.5,232.0 L595.1,232.1 L595.7,232.2 L596.3,232.3 L596.9,232.3 L597.5,232.4 L598.1,232.5 L598.7,232.6 L599.3,232.6 L599.9,232.7 L600.5,232.8 L601.1,232.8 L601.7,232.9 L602.3,233.0 L602.9,233.1 L603.5,233.1 L604.1,233.2 L604.7,233.3 L605.3,233.3 L605.9,233.4 L606.5,233.5 L607.1,233.5 L607.7,233.6 L608.3,233.7 L608.9,233.7 L609.5,233.8 L610.1,233.9 L610.7,233.9 L611.3,234.0 L611.9,234.1 L612.5,234.1 L613.1,234.2 L613.7,234.3 L614.3,234.3 L614.9,234.4 L615.5,234.5 L616.1,234.5 L616.7,234.6 L617.3,234.6 L617.8,234.7 L618.4,234.8 L619.0,234.8 L619.6,234.9 L620.2,235.0 L620.8,235.0 L621.4,235.1 L622.0,235.1 L622.6,235.2 L623.2,235.3 L623.8,235.3 L624.4,235.4 L625.0,235.4 L625.6,235.5 L626.2,235.5 L626.8,235.6 L627.4,235.7 L628.0,235.7 L628.6,235.8 L629.2,235.8 L629.8,235.9 L630.3,235.9 L630.9,236.0 L631.5,236.1 L632.1,236.1 L632.7,236.2 L633.3,236.2 L633.9,236.3 L634.5,236.3 L635.1,236.4 L635.7,236.4 L636.3,236.5 L636.9,236.5 L637.5,236.6 L638.1,236.6 L638.7,236.7 L639.3,236.7 L639.9,236.8 L640.5,236.8 L641.1,236.9 L641.7,236.9 L642.3,237.0 L642.9,237.0 L643.4,237.1 L644.0,237.1 L644.6,237.1 L645.2,237.2 L645.8,237.2 L646.4,237.3 L647.0,237.3 L647.6,237.4 L648.2,237.4 L648.8,237.4 L649.4,237.5 L650.0,237.5 L650.6,237.6 L651.2,237.6 L651.8,237.6 L652.4,237.7 L653.0,237.7 L653.6,237.8 L654.2,237.8 L654.8,237.8 L655.4,237.9 L656.0,237.9 L656.6,237.9 L657.2,238.0 L657.8,238.0 L658.4,238.0 L659.0,238.1 L659.6,238.1 L660.2,238.1 L660.8,238.2 L661.4,238.2 L662.1,238.2 L662.7,238.3 L663.3,238.3 L663.9,238.3 L664.5,238.4 L665.1,238.4 L665.7,238.4 L666.3,238.4 L666.9,238.5 L667.5,238.5 L668.1,238.5 L668.7,238.5 L669.3,238.6 L669.9,238.6 L670.5,238.6 L671.2,238.6 L671.8,238.7 L672.4,238.7" fill="none" stroke="#4574cc" stroke-width="1.5" stroke-linejoin="round" stroke-linecap="round"/>
<rect x="400.9" y="6.0" width="272.50" height="239.30" fill="none" stroke="#000" stroke-width="2.3"/>
<line x1="400.90" y1="245.3" x2="400.90" y2="249.8" stroke="#000" stroke-width="2.0"/>
<line x1="455.40" y1="245.3" x2="455.40" y2="249.8" stroke="#000" stroke-width="2.0"/>
<line x1="509.90" y1="245.3" x2="509.90" y2="249.8" stroke="#000" stroke-width="2.0"/>
<line x1="564.40" y1="245.3" x2="564.40" y2="249.8" stroke="#000" stroke-width="2.0"/>
<line x1="618.90" y1="245.3" x2="618.90" y2="249.8" stroke="#000" stroke-width="2.0"/>
<line x1="673.40" y1="245.3" x2="673.40" y2="249.8" stroke="#000" stroke-width="2.0"/>
<line x1="428.15" y1="245.3" x2="428.15" y2="247.8" stroke="#000" stroke-width="2.0"/>
<line x1="482.65" y1="245.3" x2="482.65" y2="247.8" stroke="#000" stroke-width="2.0"/>
<line x1="537.15" y1="245.3" x2="537.15" y2="247.8" stroke="#000" stroke-width="2.0"/>
<line x1="591.65" y1="245.3" x2="591.65" y2="247.8" stroke="#000" stroke-width="2.0"/>
<line x1="646.15" y1="245.3" x2="646.15" y2="247.8" stroke="#000" stroke-width="2.0"/>
<text x="0" y="0" font-size="10.4" font-weight="bold" text-anchor="middle" fill="#1e1e1e" class="b" transform="translate(400.90,261.5) scale(0.91,1)">300</text>
<text x="0" y="0" font-size="10.4" font-weight="bold" text-anchor="middle" fill="#1e1e1e" class="b" transform="translate(455.40,261.5) scale(0.91,1)">400</text>
<text x="0" y="0" font-size="10.4" font-weight="bold" text-anchor="middle" fill="#1e1e1e" class="b" transform="translate(509.90,261.5) scale(0.91,1)">500</text>
<text x="0" y="0" font-size="10.4" font-weight="bold" text-anchor="middle" fill="#1e1e1e" class="b" transform="translate(564.40,261.5) scale(0.91,1)">600</text>
<text x="0" y="0" font-size="10.4" font-weight="bold" text-anchor="middle" fill="#1e1e1e" class="b" transform="translate(618.90,261.5) scale(0.91,1)">700</text>
<text x="0" y="0" font-size="10.4" font-weight="bold" text-anchor="middle" fill="#1e1e1e" class="b" transform="translate(673.40,261.5) scale(0.91,1)">800</text>
<line x1="396.4" y1="245.30" x2="400.9" y2="245.30" stroke="#000" stroke-width="2.0"/>
<line x1="396.4" y1="125.65" x2="400.9" y2="125.65" stroke="#000" stroke-width="2.0"/>
<line x1="396.4" y1="6.00" x2="400.9" y2="6.00" stroke="#000" stroke-width="2.0"/>
<line x1="398.4" y1="185.48" x2="400.9" y2="185.48" stroke="#000" stroke-width="2.0"/>
<line x1="398.4" y1="65.82" x2="400.9" y2="65.82" stroke="#000" stroke-width="2.0"/>
<text x="0" y="0" font-size="10.4" font-weight="bold" text-anchor="end" fill="#1e1e1e" class="b" transform="translate(393.8,248.40) scale(0.91,1)">0</text>
<text x="0" y="0" font-size="10.4" font-weight="bold" text-anchor="end" fill="#1e1e1e" class="b" transform="translate(393.8,128.75) scale(0.91,1)">2</text>
<text x="0" y="0" font-size="8" font-weight="bold" text-anchor="end" fill="#1e1e1e" class="b" transform="translate(393.9,8.80) scale(0.91,1)">4</text>
<rect x="532.6" y="42.8" width="70.70" height="77.80" fill="#fff"/>
<line x1="532.6" y1="42.10" x2="532.6" y2="121.30" stroke="#a0a0a0" stroke-width="1.4"/>
<line x1="532.6" y1="42.8" x2="603.3" y2="42.8" stroke="#b4b4b4" stroke-width="1.4"/>
<line x1="603.3" y1="42.10" x2="603.3" y2="121.30" stroke="#d4d4d4" stroke-width="1.4"/>
<line x1="532.6" y1="120.6" x2="603.3" y2="120.6" stroke="#dcdcdc" stroke-width="1.4"/>
<line x1="534.1" y1="51" x2="560.0" y2="51" stroke="#5a5a5a" stroke-width="1.7"/>
<text x="0" y="0" font-size="12.5" fill="#1e1e1e" transform="translate(563.2,55.30) scale(0.912,1)">(5 0C)</text>
<line x1="534.1" y1="66.6" x2="560.0" y2="66.6" stroke="#f06262" stroke-width="1.7"/>
<text x="0" y="0" font-size="12.5" fill="#1e1e1e" transform="translate(563.2,70.90) scale(0.912,1)">(15 0C)</text>
<line x1="534.1" y1="81.9" x2="560.0" y2="81.9" stroke="#5b85d0" stroke-width="1.7"/>
<text x="0" y="0" font-size="12.5" fill="#1e1e1e" transform="translate(563.2,86.20) scale(0.912,1)">(25 0C)</text>
<line x1="534.1" y1="97.2" x2="560.0" y2="97.2" stroke="#5ec48a" stroke-width="1.7"/>
<text x="0" y="0" font-size="12.5" fill="#1e1e1e" transform="translate(563.2,101.50) scale(0.912,1)">(35 0C)</text>
<line x1="534.1" y1="112.5" x2="560.0" y2="112.5" stroke="#b98fd8" stroke-width="1.7"/>
<text x="0" y="0" font-size="12.5" fill="#1e1e1e" transform="translate(563.2,116.80) scale(0.912,1)">(45 0C)</text>
<text x="0" y="0" font-size="12.2" font-weight="bold" text-anchor="middle" fill="#1e1e1e" class="b" transform="translate(374.9,120.6) rotate(-90) scale(1.03,1.0)">Absorbance(a.u)</text>
<text x="0" y="0" font-size="12.65" font-weight="bold" text-anchor="middle" fill="#1e1e1e" class="b" transform="translate(537.35,280.1) scale(0.9091,1)">Wavelength(nm)</text>
<text x="0" y="0" font-family='"Liberation Serif", serif' font-size="40.3" font-weight="bold" fill="#000" transform="translate(354.0,28.6) scale(0.935,1.0)">B</text>
<path d="M48.5,547.2 L55.0,547.8 L62.5,548.2 L80.0,548.3 L88.0,547.9 L94.0,547.5 L100.0,547.3 L106.0,547.4 L112.0,547.8 L125.0,548.4 L140.0,549.0 L200.0,549.3 L330.4,549.5" fill="none" stroke="#505050" stroke-width="1.3" stroke-linejoin="round" stroke-linecap="round"/>
<path d="M47.5,544.6 L48.1,544.7 L48.7,544.9 L49.2,545.0 L49.8,545.1 L50.4,545.3 L51.0,545.4 L51.6,545.5 L52.2,545.6 L52.8,545.7 L53.4,545.8 L54.0,545.9 L54.6,546.0 L55.2,546.1 L55.8,546.2 L56.4,546.3 L57.0,546.3 L57.6,546.4 L58.2,546.4 L58.8,546.5 L59.4,546.5 L60.0,546.5 L60.6,546.6 L61.2,546.6 L61.8,546.6 L62.4,546.6 L63.0,546.6 L63.6,546.6 L64.2,546.5 L64.8,546.5 L65.4,546.5 L66.0,546.4 L66.6,546.3 L67.2,546.3 L67.8,546.2 L68.4,546.1 L69.0,546.0 L69.6,545.9 L70.2,545.8 L70.8,545.7 L71.4,545.5 L71.9,545.4 L72.5,545.2 L73.1,545.1 L73.7,544.9 L74.3,544.7 L74.8,544.5 L75.4,544.3 L76.0,544.1 L76.5,543.9 L77.1,543.7 L77.7,543.5 L78.3,543.3 L78.8,543.1 L79.4,542.8 L80.0,542.6 L80.5,542.4 L81.1,542.1 L81.6,541.9 L82.2,541.6 L82.8,541.4 L83.3,541.1 L83.9,540.9 L84.4,540.6 L85.0,540.4 L85.6,540.1 L86.1,539.9 L86.7,539.6 L87.2,539.4 L87.8,539.1 L88.4,538.9 L88.9,538.6 L89.5,538.4 L90.0,538.2 L90.6,538.0 L91.2,537.7 L91.7,537.5 L92.3,537.4 L92.8,537.2 L93.4,537.0 L94.0,536.8 L94.5,536.7 L95.1,536.6 L95.7,536.5 L96.2,536.4 L96.8,536.3 L97.4,536.2 L97.9,536.2 L98.5,536.2 L99.1,536.1 L99.7,536.1 L100.2,536.2 L100.8,536.2 L101.4,536.2 L102.0,536.3 L102.5,536.4 L103.1,536.5 L103.7,536.6 L104.3,536.7 L104.8,536.8 L105.4,536.9 L106.0,537.0 L106.6,537.1 L107.2,537.3 L107.7,537.4 L108.3,537.6 L108.9,537.7 L109.5,537.9 L110.0,538.1 L110.6,538.2 L111.2,538.4 L111.8,538.6 L112.3,538.8 L112.9,539.0 L113.5,539.1 L114.1,539.3 L114.7,539.5 L115.2,539.7 L115.8,539.9 L116.4,540.1 L117.0,540.2 L117.6,540.4 L118.1,540.6 L118.7,540.8 L119.3,541.0 L119.9,541.1 L120.5,541.3 L121.1,541.5 L121.6,541.6 L122.2,541.8 L122.8,542.0 L123.4,542.1 L124.0,542.2 L124.6,542.4 L125.2,542.5 L125.8,542.6 L126.3,542.7 L126.9,542.9 L127.5,543.0 L128.1,543.1 L128.7,543.2 L129.3,543.2 L129.9,543.3 L130.5,543.4 L131.1,543.5 L131.7,543.5 L132.3,543.6 L132.9,543.7 L133.5,543.7 L134.1,543.8 L134.7,543.8 L135.3,543.8 L135.9,543.9 L136.5,543.9 L137.1,543.9 L137.7,544.0 L138.3,544.0 L138.9,544.0 L139.5,544.0 L140.1,544.0 L140.7,544.1 L141.3,544.1 L141.9,544.1 L142.5,544.1 L143.1,544.1 L143.7,544.1 L144.3,544.1 L144.9,544.1 L145.5,544.1 L146.1,544.0 L146.7,544.0 L147.3,544.0 L147.9,544.0 L148.5,544.0 L149.1,544.0 L149.7,544.0 L150.3,543.9 L150.9,543.9 L151.5,543.9 L152.1,543.9 L152.7,543.9 L153.3,543.9 L153.9,543.8 L154.6,543.8 L155.2,543.8 L155.8,543.8 L156.4,543.8 L157.0,543.7 L157.6,543.7 L158.2,543.7 L158.8,543.7 L159.4,543.7 L160.0,543.7 L160.6,543.7 L161.2,543.6 L161.8,543.6 L162.4,543.6 L163.0,543.6 L163.6,543.6 L164.2,543.6 L164.8,543.6 L165.4,543.6 L166.0,543.6 L166.6,543.5 L167.2,543.5 L167.9,543.5 L168.5,543.5 L169.1,543.5 L169.7,543.5 L170.3,543.5 L170.9,543.5 L171.5,543.5 L172.1,543.5 L172.7,543.5 L173.3,543.5 L173.9,543.5 L174.5,543.5 L175.1,543.5 L175.7,543.5 L176.3,543.5 L176.9,543.5 L177.5,543.5 L178.1,543.4 L178.7,543.4 L179.3,543.4 L179.9,543.4 L180.5,543.4 L181.1,543.4 L181.7,543.4 L182.3,543.4 L182.9,543.4 L183.5,543.5 L184.2,543.5 L184.8,543.5 L185.4,543.5 L186.0,543.5 L186.6,543.5 L187.2,543.5 L187.8,543.5 L188.4,543.5 L189.0,543.5 L189.6,543.5 L190.2,543.5 L190.8,543.5 L191.4,543.5 L192.0,543.5 L192.6,543.5 L193.2,543.5 L193.8,543.5 L194.4,543.5 L195.0,543.5 L195.6,543.5 L196.2,543.6 L196.8,543.6 L197.4,543.6 L198.0,543.6 L198.6,543.6 L199.2,543.6 L199.8,543.6 L200.4,543.6 L201.0,543.6 L201.6,543.6 L202.2,543.6 L202.8,543.7 L203.4,543.7 L204.0,543.7 L204.6,543.7 L205.2,543.7 L205.8,543.7 L206.5,543.7 L207.1,543.7 L207.7,543.8 L208.3,543.8 L208.9,543.8 L209.5,543.8 L210.1,543.8 L210.7,543.8 L211.3,543.8 L211.9,543.8 L212.5,543.9 L213.1,543.9 L213.7,543.9 L214.3,543.9 L214.9,543.9 L215.5,543.9 L216.1,544.0 L216.7,544.0 L217.3,544.0 L217.9,544.0 L218.5,544.0 L219.1,544.0 L219.7,544.0 L220.3,544.1 L220.9,544.1 L221.5,544.1 L222.1,544.1 L222.7,544.1 L223.3,544.1 L223.9,544.2 L224.5,544.2 L225.1,544.2 L225.7,544.2 L226.3,544.2 L226.9,544.3 L227.5,544.3 L228.1,544.3 L228.7,544.3 L229.3,544.3 L229.9,544.3 L230.5,544.4 L231.1,544.4 L231.7,544.4 L232.3,544.4 L232.9,544.4 L233.5,544.5 L234.1,544.5 L234.7,544.5 L235.3,544.5 L235.9,544.5 L236.5,544.6 L237.1,544.6 L237.7,544.6 L238.4,544.6 L239.0,544.6 L239.6,544.7 L240.2,544.7 L240.8,544.7 L241.4,544.7 L242.0,544.7 L242.6,544.8 L243.2,544.8 L243.8,544.8 L244.4,544.8 L245.0,544.8 L245.6,544.9 L246.2,544.9 L246.8,544.9 L247.4,544.9 L248.0,544.9 L248.6,545.0 L249.2,545.0 L249.8,545.0 L250.4,545.0 L251.0,545.0 L251.6,545.1 L252.2,545.1 L252.8,545.1 L253.4,545.1 L254.0,545.1 L254.6,545.2 L255.2,545.2 L255.8,545.2 L256.4,545.2 L257.0,545.2 L257.6,545.3 L258.2,545.3 L258.8,545.3 L259.4,545.3 L260.0,545.3 L260.6,545.4 L261.2,545.4 L261.8,545.4 L262.4,545.4 L263.0,545.4 L263.6,545.5 L264.2,545.5 L264.8,545.5 L265.4,545.5 L266.0,545.5 L266.6,545.6 L267.2,545.6 L267.8,545.6 L268.4,545.6 L269.0,545.6 L269.6,545.7 L270.2,545.7 L270.8,545.7 L271.4,545.7 L272.0,545.7 L272.6,545.7 L273.2,545.8 L273.8,545.8 L274.5,545.8 L275.1,545.8 L275.7,545.8 L276.3,545.9 L276.9,545.9 L277.5,545.9 L278.1,545.9 L278.7,545.9 L279.3,545.9 L279.9,546.0 L280.5,546.0 L281.1,546.0 L281.7,546.0 L282.3,546.0 L282.9,546.0 L283.5,546.1 L284.1,546.1 L284.7,546.1 L285.3,546.1 L285.9,546.1 L286.5,546.1 L287.1,546.2 L287.7,546.2 L288.3,546.2 L288.9,546.2 L289.5,546.2 L290.1,546.2 L290.7,546.2 L291.3,546.3 L291.9,546.3 L292.5,546.3 L293.1,546.3 L293.7,546.3 L294.3,546.3 L294.9,546.3 L295.5,546.3 L296.1,546.4 L296.7,546.4 L297.3,546.4 L297.9,546.4 L298.5,546.4 L299.1,546.4 L299.7,546.4 L300.3,546.4 L300.9,546.4 L301.5,546.5 L302.2,546.5 L302.8,546.5 L303.4,546.5 L304.0,546.5 L304.6,546.5 L305.2,546.5 L305.8,546.5 L306.4,546.5 L307.0,546.5 L307.6,546.5 L308.2,546.5 L308.8,546.5 L309.4,546.6 L310.0,546.6 L310.6,546.6 L311.2,546.6 L311.8,546.6 L312.4,546.6 L313.0,546.6 L313.6,546.6 L314.2,546.6 L314.8,546.6 L315.4,546.6 L316.0,546.6 L316.6,546.6 L317.2,546.6 L317.8,546.6 L318.4,546.6 L319.0,546.6 L319.6,546.6 L320.2,546.6 L320.8,546.6 L321.5,546.6 L322.1,546.6 L322.7,546.6 L323.3,546.6 L323.9,546.6 L324.5,546.6 L325.1,546.6 L325.7,546.6 L326.3,546.6 L326.9,546.6 L327.5,546.6 L328.1,546.6 L328.7,546.6 L329.3,546.6 L329.9,546.6 L330.5,546.6" fill="none" stroke="#4a78cf" stroke-width="1.5" stroke-linejoin="round" stroke-linecap="round"/>
<path d="M47.2,531.4 L47.8,531.8 L48.4,532.2 L49.0,532.6 L49.5,533.0 L50.1,533.3 L50.7,533.7 L51.3,534.0 L51.9,534.2 L52.5,534.5 L53.0,534.7 L53.6,534.9 L54.2,535.1 L54.7,535.3 L55.3,535.4 L55.9,535.6 L56.5,535.7 L57.0,535.8 L57.6,535.8 L58.2,535.9 L58.7,535.9 L59.3,535.9 L59.8,535.9 L60.4,535.9 L60.9,535.9 L61.5,535.8 L62.1,535.8 L62.6,535.7 L63.2,535.6 L63.7,535.5 L64.3,535.4 L64.8,535.3 L65.3,535.1 L65.9,534.9 L66.4,534.8 L67.0,534.6 L67.5,534.4 L68.1,534.2 L68.6,534.0 L69.1,533.8 L69.7,533.5 L70.2,533.3 L70.7,533.0 L71.3,532.8 L71.8,532.5 L72.3,532.2 L72.9,531.9 L73.4,531.6 L73.9,531.3 L74.4,531.0 L75.0,530.7 L75.5,530.4 L76.0,530.1 L76.5,529.7 L77.1,529.4 L77.6,529.1 L78.1,528.7 L78.6,528.4 L79.2,528.0 L79.7,527.7 L80.2,527.3 L80.7,527.0 L81.3,526.6 L81.8,526.2 L82.3,525.9 L82.8,525.5 L83.4,525.2 L83.9,524.8 L84.4,524.4 L85.0,524.1 L85.5,523.7 L86.0,523.4 L86.6,523.0 L87.1,522.7 L87.6,522.3 L88.2,522.0 L88.7,521.6 L89.2,521.3 L89.8,521.0 L90.3,520.6 L90.9,520.3 L91.4,520.0 L92.0,519.7 L92.5,519.4 L93.1,519.1 L93.6,518.8 L94.2,518.5 L94.7,518.2 L95.3,517.9 L95.8,517.7 L96.4,517.4 L96.9,517.1 L97.5,516.9 L98.1,516.7 L98.6,516.4 L99.2,516.2 L99.7,516.0 L100.3,515.8 L100.8,515.6 L101.4,515.4 L102.0,515.2 L102.5,515.0 L103.1,514.9 L103.7,514.7 L104.2,514.6 L104.8,514.5 L105.3,514.3 L105.9,514.2 L106.5,514.1 L107.0,514.1 L107.6,514.0 L108.2,513.9 L108.7,513.9 L109.3,513.8 L109.8,513.8 L110.4,513.8 L111.0,513.8 L111.5,513.8 L112.1,513.9 L112.6,513.9 L113.2,514.0 L113.7,514.0 L114.3,514.1 L114.9,514.2 L115.4,514.3 L116.0,514.4 L116.5,514.6 L117.1,514.7 L117.6,514.9 L118.2,515.0 L118.7,515.2 L119.3,515.4 L119.8,515.6 L120.4,515.8 L120.9,516.0 L121.5,516.2 L122.0,516.4 L122.6,516.6 L123.2,516.9 L123.7,517.1 L124.3,517.3 L124.8,517.6 L125.4,517.8 L125.9,518.1 L126.5,518.3 L127.0,518.6 L127.6,518.9 L128.1,519.1 L128.7,519.4 L129.2,519.6 L129.8,519.9 L130.3,520.2 L130.9,520.4 L131.4,520.7 L132.0,520.9 L132.6,521.2 L133.1,521.4 L133.7,521.7 L134.2,521.9 L134.8,522.2 L135.3,522.4 L135.9,522.6 L136.5,522.9 L137.0,523.1 L137.6,523.4 L138.1,523.6 L138.7,523.8 L139.3,524.0 L139.8,524.3 L140.4,524.5 L140.9,524.7 L141.5,525.0 L142.1,525.2 L142.6,525.4 L143.2,525.6 L143.8,525.8 L144.3,526.1 L144.9,526.3 L145.5,526.5 L146.0,526.7 L146.6,526.9 L147.2,527.1 L147.7,527.3 L148.3,527.5 L148.9,527.7 L149.4,527.9 L150.0,528.1 L150.6,528.3 L151.1,528.5 L151.7,528.7 L152.3,528.9 L152.9,529.1 L153.4,529.3 L154.0,529.5 L154.6,529.7 L155.1,529.9 L155.7,530.1 L156.3,530.3 L156.9,530.4 L157.4,530.6 L158.0,530.8 L158.6,531.0 L159.2,531.2 L159.7,531.3 L160.3,531.5 L160.9,531.7 L161.5,531.8 L162.0,532.0 L162.6,532.2 L163.2,532.4 L163.8,532.5 L164.3,532.7 L164.9,532.9 L165.5,533.0 L166.1,533.2 L166.7,533.3 L167.2,533.5 L167.8,533.6 L168.4,533.8 L169.0,534.0 L169.6,534.1 L170.1,534.3 L170.7,534.4 L171.3,534.6 L171.9,534.7 L172.5,534.9 L173.1,535.0 L173.6,535.1 L174.2,535.3 L174.8,535.4 L175.4,535.6 L176.0,535.7 L176.6,535.8 L177.1,536.0 L177.7,536.1 L178.3,536.2 L178.9,536.4 L179.5,536.5 L180.1,536.6 L180.7,536.8 L181.2,536.9 L181.8,537.0 L182.4,537.2 L183.0,537.3 L183.6,537.4 L184.2,537.5 L184.8,537.6 L185.4,537.8 L185.9,537.9 L186.5,538.0 L187.1,538.1 L187.7,538.2 L188.3,538.3 L188.9,538.5 L189.5,538.6 L190.1,538.7 L190.7,538.8 L191.2,538.9 L191.8,539.0 L192.4,539.1 L193.0,539.2 L193.6,539.3 L194.2,539.4 L194.8,539.5 L195.4,539.6 L196.0,539.7 L196.6,539.8 L197.2,539.9 L197.8,540.0 L198.3,540.1 L198.9,540.2 L199.5,540.3 L200.1,540.4 L200.7,540.5 L201.3,540.6 L201.9,540.6 L202.5,540.7 L203.1,540.8 L203.7,540.9 L204.3,541.0 L204.9,541.1 L205.5,541.2 L206.1,541.2 L206.7,541.3 L207.3,541.4 L207.9,541.5 L208.5,541.6 L209.0,541.6 L209.6,541.7 L210.2,541.8 L210.8,541.9 L211.4,541.9 L212.0,542.0 L212.6,542.1 L213.2,542.2 L213.8,542.2 L214.4,542.3 L215.0,542.4 L215.6,542.4 L216.2,542.5 L216.8,542.6 L217.4,542.6 L218.0,542.7 L218.6,542.8 L219.2,542.8 L219.8,542.9 L220.4,542.9 L221.0,543.0 L221.6,543.1 L222.2,543.1 L222.8,543.2 L223.4,543.2 L224.0,543.3 L224.6,543.3 L225.2,543.4 L225.8,543.5 L226.4,543.5 L227.0,543.6 L227.6,543.6 L228.2,543.7 L228.8,543.7 L229.4,543.8 L230.0,543.8 L230.6,543.9 L231.2,543.9 L231.8,544.0 L232.4,544.0 L233.0,544.1 L233.6,544.1 L234.2,544.1 L234.8,544.2 L235.4,544.2 L236.0,544.3 L236.6,544.3 L237.2,544.4 L237.8,544.4 L238.4,544.4 L239.0,544.5 L239.6,544.5 L240.2,544.6 L240.8,544.6 L241.4,544.6 L242.0,544.7 L242.6,544.7 L243.2,544.7 L243.8,544.8 L244.4,544.8 L245.0,544.8 L245.6,544.9 L246.2,544.9 L246.8,544.9 L247.4,545.0 L248.0,545.0 L248.6,545.0 L249.2,545.1 L249.8,545.1 L250.4,545.1 L251.0,545.2 L251.6,545.2 L252.2,545.2 L252.8,545.3 L253.4,545.3 L254.1,545.3 L254.7,545.3 L255.3,545.4 L255.9,545.4 L256.5,545.4 L257.1,545.4 L257.7,545.5 L258.3,545.5 L258.9,545.5 L259.5,545.5 L260.1,545.6 L260.7,545.6 L261.3,545.6 L261.9,545.6 L262.5,545.7 L263.1,545.7 L263.7,545.7 L264.3,545.7 L264.9,545.7 L265.5,545.8 L266.1,545.8 L266.7,545.8 L267.3,545.8 L267.9,545.9 L268.5,545.9 L269.1,545.9 L269.7,545.9 L270.3,545.9 L270.9,546.0 L271.5,546.0 L272.1,546.0 L272.8,546.0 L273.4,546.0 L274.0,546.0 L274.6,546.1 L275.2,546.1 L275.8,546.1 L276.4,546.1 L277.0,546.1 L277.6,546.2 L278.2,546.2 L278.8,546.2 L279.4,546.2 L280.0,546.2 L280.6,546.2 L281.2,546.3 L281.8,546.3 L282.4,546.3 L283.0,546.3 L283.6,546.3 L284.2,546.3 L284.8,546.4 L285.4,546.4 L286.0,546.4 L286.6,546.4 L287.2,546.4 L287.8,546.4 L288.4,546.5 L289.0,546.5 L289.6,546.5 L290.2,546.5 L290.8,546.5 L291.4,546.5 L292.0,546.6 L292.6,546.6 L293.2,546.6 L293.9,546.6 L294.5,546.6 L295.1,546.6 L295.7,546.7 L296.3,546.7 L296.9,546.7 L297.5,546.7 L298.1,546.7 L298.7,546.7 L299.3,546.8 L299.9,546.8 L300.5,546.8 L301.1,546.8 L301.7,546.8 L302.3,546.8 L302.9,546.9 L303.5,546.9 L304.1,546.9 L304.7,546.9 L305.3,546.9 L305.9,547.0 L306.5,547.0 L307.1,547.0 L307.7,547.0 L308.3,547.0 L308.9,547.1 L309.5,547.1 L310.1,547.1 L310.7,547.1 L311.3,547.1 L311.9,547.2 L312.5,547.2 L313.1,547.2 L313.7,547.2 L314.3,547.3 L314.9,547.3 L315.5,547.3 L316.1,547.3 L316.7,547.4 L317.3,547.4 L317.9,547.4 L318.5,547.4 L319.1,547.5 L319.7,547.5 L320.3,547.5 L320.9,547.5 L321.5,547.6 L322.1,547.6 L322.7,547.6 L323.3,547.6 L323.9,547.7 L324.5,547.7 L325.0,547.7 L325.6,547.8 L326.2,547.8 L326.8,547.8 L327.4,547.9 L328.0,547.9 L328.6,547.9 L329.2,548.0 L329.8,548.0 L330.4,548.0" fill="none" stroke="#3db873" stroke-width="1.5" stroke-linejoin="round" stroke-linecap="round"/>
<path d="M47.5,515.4 L47.8,516.1 L48.1,516.8 L48.4,517.4 L48.8,518.0 L49.1,518.6 L49.5,519.2 L50.0,519.7 L50.4,520.2 L50.8,520.7 L51.3,521.1 L51.7,521.6 L52.2,522.0 L52.7,522.3 L53.2,522.7 L53.7,523.0 L54.3,523.3 L54.8,523.5 L55.3,523.8 L55.9,524.0 L56.4,524.1 L57.0,524.3 L57.5,524.4 L58.1,524.5 L58.6,524.5 L59.2,524.5 L59.8,524.5 L60.3,524.5 L60.9,524.4 L61.4,524.3 L62.0,524.2 L62.6,524.1 L63.1,523.9 L63.7,523.8 L64.2,523.6 L64.8,523.4 L65.3,523.1 L65.9,522.9 L66.4,522.6 L66.9,522.3 L67.5,522.0 L68.0,521.7 L68.5,521.4 L69.0,521.1 L69.5,520.7 L69.9,520.4 L70.4,520.0 L70.9,519.7 L71.3,519.3 L71.8,518.9 L72.2,518.5 L72.6,518.1 L73.1,517.8 L73.5,517.4 L73.9,516.9 L74.3,516.5 L74.7,516.1 L75.1,515.7 L75.4,515.3 L75.8,514.8 L76.2,514.4 L76.5,513.9 L76.9,513.5 L77.3,513.0 L77.6,512.6 L78.0,512.1 L78.3,511.7 L78.7,511.2 L79.0,510.7 L79.3,510.2 L79.7,509.8 L80.0,509.3 L80.3,508.8 L80.7,508.3 L81.0,507.8 L81.3,507.3 L81.7,506.8 L82.0,506.3 L82.3,505.8 L82.7,505.3 L83.0,504.8 L83.3,504.3 L83.7,503.8 L84.0,503.3 L84.4,502.8 L84.7,502.3 L85.1,501.8 L85.4,501.3 L85.8,500.8 L86.2,500.3 L86.5,499.8 L86.9,499.3 L87.3,498.8 L87.7,498.3 L88.1,497.8 L88.5,497.3 L88.9,496.8 L89.3,496.3 L89.7,495.8 L90.1,495.3 L90.6,494.8 L91.0,494.4 L91.4,493.9 L91.9,493.4 L92.4,492.9 L92.8,492.5 L93.3,492.0 L93.8,491.6 L94.2,491.1 L94.7,490.7 L95.2,490.2 L95.7,489.8 L96.2,489.4 L96.7,489.0 L97.2,488.6 L97.7,488.2 L98.2,487.9 L98.7,487.5 L99.3,487.2 L99.8,486.8 L100.3,486.5 L100.8,486.2 L101.4,485.9 L101.9,485.6 L102.4,485.3 L103.0,485.1 L103.5,484.8 L104.0,484.6 L104.6,484.4 L105.1,484.2 L105.7,484.1 L106.2,483.9 L106.8,483.8 L107.3,483.6 L107.9,483.5 L108.4,483.5 L109.0,483.4 L109.5,483.4 L110.1,483.4 L110.6,483.4 L111.2,483.4 L111.7,483.4 L112.3,483.5 L112.8,483.6 L113.4,483.7 L113.9,483.8 L114.4,483.9 L115.0,484.1 L115.5,484.3 L116.1,484.4 L116.6,484.6 L117.1,484.8 L117.7,485.1 L118.2,485.3 L118.8,485.5 L119.3,485.8 L119.8,486.1 L120.3,486.3 L120.9,486.6 L121.4,486.9 L121.9,487.2 L122.4,487.5 L123.0,487.8 L123.5,488.1 L124.0,488.4 L124.5,488.8 L125.0,489.1 L125.5,489.4 L126.0,489.7 L126.5,490.1 L127.0,490.4 L127.5,490.7 L128.0,491.1 L128.5,491.4 L129.0,491.8 L129.5,492.1 L130.0,492.5 L130.5,492.8 L130.9,493.2 L131.4,493.6 L131.9,493.9 L132.4,494.3 L132.9,494.7 L133.3,495.0 L133.8,495.4 L134.3,495.8 L134.8,496.2 L135.2,496.5 L135.7,496.9 L136.2,497.3 L136.6,497.7 L137.1,498.1 L137.6,498.4 L138.0,498.8 L138.5,499.2 L139.0,499.6 L139.4,500.0 L139.9,500.4 L140.4,500.8 L140.8,501.2 L141.3,501.6 L141.7,502.0 L142.2,502.4 L142.7,502.7 L143.1,503.1 L143.6,503.5 L144.0,503.9 L144.5,504.3 L145.0,504.7 L145.4,505.1 L145.9,505.5 L146.3,505.9 L146.8,506.3 L147.2,506.7 L147.7,507.1 L148.2,507.5 L148.6,507.9 L149.1,508.2 L149.6,508.6 L150.0,509.0 L150.5,509.4 L150.9,509.8 L151.4,510.2 L151.9,510.6 L152.3,510.9 L152.8,511.3 L153.3,511.7 L153.7,512.1 L154.2,512.4 L154.7,512.8 L155.1,513.2 L155.6,513.6 L156.1,513.9 L156.6,514.3 L157.0,514.6 L157.5,515.0 L158.0,515.4 L158.5,515.7 L159.0,516.1 L159.4,516.4 L159.9,516.8 L160.4,517.1 L160.9,517.4 L161.4,517.8 L161.9,518.1 L162.4,518.4 L162.9,518.8 L163.4,519.1 L163.9,519.4 L164.4,519.7 L164.9,520.0 L165.4,520.3 L165.9,520.6 L166.4,520.9 L166.9,521.2 L167.4,521.5 L168.0,521.8 L168.5,522.1 L169.0,522.4 L169.5,522.6 L170.1,522.9 L170.6,523.2 L171.1,523.4 L171.7,523.7 L172.2,524.0 L172.7,524.2 L173.3,524.5 L173.8,524.7 L174.4,524.9 L174.9,525.2 L175.5,525.4 L176.0,525.6 L176.6,525.9 L177.1,526.1 L177.7,526.3 L178.3,526.5 L178.8,526.7 L179.4,527.0 L179.9,527.2 L180.5,527.4 L181.1,527.6 L181.6,527.8 L182.2,528.0 L182.8,528.2 L183.4,528.4 L183.9,528.5 L184.5,528.7 L185.1,528.9 L185.7,529.1 L186.2,529.3 L186.8,529.5 L187.4,529.6 L188.0,529.8 L188.6,530.0 L189.1,530.2 L189.7,530.3 L190.3,530.5 L190.9,530.6 L191.5,530.8 L192.1,531.0 L192.6,531.1 L193.2,531.3 L193.8,531.4 L194.4,531.6 L195.0,531.7 L195.6,531.9 L196.2,532.0 L196.7,532.2 L197.3,532.3 L197.9,532.5 L198.5,532.6 L199.1,532.8 L199.7,532.9 L200.3,533.1 L200.9,533.2 L201.5,533.3 L202.0,533.5 L202.6,533.6 L203.2,533.8 L203.8,533.9 L204.4,534.0 L205.0,534.2 L205.6,534.3 L206.2,534.4 L206.8,534.6 L207.3,534.7 L207.9,534.8 L208.5,534.9 L209.1,535.1 L209.7,535.2 L210.3,535.3 L210.9,535.4 L211.5,535.5 L212.1,535.7 L212.7,535.8 L213.3,535.9 L213.8,536.0 L214.4,536.1 L215.0,536.3 L215.6,536.4 L216.2,536.5 L216.8,536.6 L217.4,536.7 L218.0,536.8 L218.6,536.9 L219.2,537.0 L219.8,537.1 L220.4,537.2 L220.9,537.4 L221.5,537.5 L222.1,537.6 L222.7,537.7 L223.3,537.8 L223.9,537.9 L224.5,538.0 L225.1,538.1 L225.7,538.2 L226.3,538.3 L226.9,538.4 L227.5,538.4 L228.1,538.5 L228.7,538.6 L229.2,538.7 L229.8,538.8 L230.4,538.9 L231.0,539.0 L231.6,539.1 L232.2,539.2 L232.8,539.3 L233.4,539.4 L234.0,539.4 L234.6,539.5 L235.2,539.6 L235.8,539.7 L236.4,539.8 L237.0,539.9 L237.6,539.9 L238.2,540.0 L238.8,540.1 L239.4,540.2 L239.9,540.3 L240.5,540.3 L241.1,540.4 L241.7,540.5 L242.3,540.6 L242.9,540.6 L243.5,540.7 L244.1,540.8 L244.7,540.8 L245.3,540.9 L245.9,541.0 L246.5,541.1 L247.1,541.1 L247.7,541.2 L248.3,541.3 L248.9,541.3 L249.5,541.4 L250.1,541.5 L250.7,541.5 L251.3,541.6 L251.9,541.6 L252.5,541.7 L253.1,541.8 L253.7,541.8 L254.3,541.9 L254.9,541.9 L255.5,542.0 L256.0,542.1 L256.6,542.1 L257.2,542.2 L257.8,542.2 L258.4,542.3 L259.0,542.3 L259.6,542.4 L260.2,542.5 L260.8,542.5 L261.4,542.6 L262.0,542.6 L262.6,542.7 L263.2,542.7 L263.8,542.8 L264.4,542.8 L265.0,542.9 L265.6,542.9 L266.2,543.0 L266.8,543.0 L267.4,543.1 L268.0,543.1 L268.6,543.1 L269.2,543.2 L269.8,543.2 L270.4,543.3 L271.0,543.3 L271.6,543.4 L272.2,543.4 L272.8,543.4 L273.4,543.5 L274.0,543.5 L274.6,543.6 L275.2,543.6 L275.8,543.6 L276.4,543.7 L277.0,543.7 L277.6,543.8 L278.2,543.8 L278.8,543.8 L279.4,543.9 L280.0,543.9 L280.6,543.9 L281.2,544.0 L281.8,544.0 L282.4,544.1 L283.0,544.1 L283.6,544.1 L284.2,544.2 L284.8,544.2 L285.4,544.2 L286.0,544.2 L286.6,544.3 L287.2,544.3 L287.8,544.3 L288.4,544.4 L289.0,544.4 L289.6,544.4 L290.2,544.5 L290.8,544.5 L291.4,544.5 L292.0,544.5 L292.6,544.6 L293.2,544.6 L293.8,544.6 L294.4,544.7 L295.0,544.7 L295.6,544.7 L296.2,544.7 L296.8,544.8 L297.4,544.8 L298.0,544.8 L298.6,544.8 L299.2,544.9 L299.8,544.9 L300.4,544.9 L301.0,544.9 L301.6,545.0 L302.2,545.0 L302.8,545.0 L303.4,545.0 L304.0,545.0 L304.6,545.1 L305.2,545.1 L305.8,545.1 L306.4,545.1 L307.0,545.2 L307.6,545.2 L308.2,545.2 L308.8,545.2 L309.4,545.2 L310.0,545.3 L310.7,545.3 L311.3,545.3 L311.9,545.3 L312.5,545.3 L313.1,545.4 L313.7,545.4 L314.3,545.4 L314.9,545.4 L315.5,545.4 L316.1,545.4 L316.7,545.5 L317.3,545.5 L317.9,545.5 L318.5,545.5 L319.1,545.5 L319.7,545.6 L320.3,545.6 L320.9,545.6 L321.5,545.6 L322.1,545.6 L322.7,545.6 L323.3,545.7 L323.9,545.7 L324.5,545.7 L325.1,545.7 L325.7,545.7 L326.3,545.7 L326.9,545.8 L327.5,545.8 L328.1,545.8 L328.7,545.8 L329.3,545.8 L329.9,545.8 L330.5,545.9" fill="none" stroke="#b584d6" stroke-width="1.5" stroke-linejoin="round" stroke-linecap="round"/>
<path d="M47.9,483.4 L47.9,483.9 L48.0,484.5 L48.0,485.1 L48.1,485.7 L48.2,486.2 L48.4,486.8 L48.5,487.4 L48.7,488.0 L48.8,488.7 L49.0,489.3 L49.2,489.9 L49.4,490.5 L49.7,491.1 L49.9,491.7 L50.2,492.3 L50.4,492.9 L50.7,493.6 L51.0,494.1 L51.3,494.7 L51.6,495.3 L52.0,495.9 L52.3,496.5 L52.6,497.0 L53.0,497.6 L53.4,498.1 L53.8,498.6 L54.2,499.1 L54.6,499.6 L55.0,500.0 L55.4,500.5 L55.8,500.9 L56.3,501.3 L56.7,501.7 L57.2,502.0 L57.6,502.4 L58.1,502.7 L58.6,503.0 L59.1,503.2 L59.6,503.5 L60.1,503.7 L60.6,503.8 L61.1,504.0 L61.6,504.1 L62.1,504.2 L62.6,504.2 L63.2,504.3 L63.7,504.3 L64.2,504.2 L64.8,504.2 L65.3,504.1 L65.8,504.0 L66.4,503.9 L66.9,503.8 L67.4,503.6 L68.0,503.4 L68.5,503.2 L69.0,503.0 L69.5,502.8 L70.1,502.5 L70.6,502.3 L71.1,502.0 L71.6,501.7 L72.1,501.4 L72.6,501.1 L73.1,500.7 L73.5,500.4 L74.0,500.0 L74.5,499.6 L74.9,499.2 L75.3,498.8 L75.8,498.4 L76.2,498.0 L76.6,497.6 L77.0,497.2 L77.5,496.7 L77.9,496.3 L78.3,495.8 L78.7,495.4 L79.0,494.9 L79.4,494.4 L79.8,494.0 L80.2,493.5 L80.6,493.0 L80.9,492.5 L81.3,492.0 L81.7,491.5 L82.0,491.0 L82.4,490.5 L82.8,490.0 L83.1,489.5 L83.5,489.0 L83.9,488.5 L84.2,488.0 L84.6,487.5 L85.0,487.0 L85.3,486.5 L85.7,486.1 L86.1,485.6 L86.5,485.1 L86.8,484.6 L87.2,484.1 L87.6,483.6 L88.0,483.2 L88.4,482.7 L88.8,482.2 L89.2,481.8 L89.6,481.3 L90.0,480.9 L90.5,480.5 L90.9,480.0 L91.3,479.6 L91.8,479.2 L92.2,478.8 L92.7,478.4 L93.2,478.1 L93.6,477.7 L94.1,477.3 L94.6,477.0 L95.1,476.6 L95.6,476.3 L96.1,475.9 L96.6,475.6 L97.1,475.3 L97.6,475.0 L98.1,474.7 L98.7,474.4 L99.2,474.1 L99.7,473.8 L100.3,473.5 L100.8,473.2 L101.4,472.9 L101.9,472.7 L102.5,472.4 L103.0,472.2 L103.6,471.9 L104.2,471.7 L104.8,471.5 L105.3,471.3 L105.9,471.1 L106.5,470.9 L107.1,470.7 L107.6,470.5 L108.2,470.4 L108.8,470.2 L109.4,470.1 L110.0,470.0 L110.5,469.9 L111.1,469.8 L111.7,469.7 L112.3,469.6 L112.9,469.6 L113.4,469.6 L114.0,469.5 L114.6,469.5 L115.2,469.6 L115.7,469.6 L116.3,469.7 L116.9,469.7 L117.4,469.8 L118.0,469.9 L118.5,470.1 L119.1,470.2 L119.6,470.4 L120.2,470.5 L120.7,470.7 L121.3,470.9 L121.8,471.1 L122.3,471.3 L122.9,471.6 L123.4,471.8 L123.9,472.1 L124.5,472.3 L125.0,472.6 L125.5,472.9 L126.1,473.1 L126.6,473.4 L127.1,473.7 L127.6,474.0 L128.2,474.3 L128.7,474.6 L129.2,474.9 L129.7,475.2 L130.3,475.5 L130.8,475.8 L131.3,476.2 L131.8,476.5 L132.4,476.8 L132.9,477.1 L133.4,477.4 L134.0,477.7 L134.5,478.0 L135.0,478.3 L135.5,478.6 L136.1,478.9 L136.6,479.3 L137.1,479.6 L137.6,479.9 L138.2,480.2 L138.7,480.5 L139.2,480.8 L139.7,481.1 L140.3,481.4 L140.8,481.8 L141.3,482.1 L141.8,482.4 L142.3,482.7 L142.9,483.0 L143.4,483.3 L143.9,483.7 L144.4,484.0 L144.9,484.3 L145.4,484.6 L145.9,484.9 L146.5,485.3 L147.0,485.6 L147.5,485.9 L148.0,486.3 L148.5,486.6 L149.0,486.9 L149.5,487.2 L150.0,487.6 L150.5,487.9 L151.0,488.3 L151.5,488.6 L152.0,488.9 L152.5,489.3 L152.9,489.6 L153.4,490.0 L153.9,490.3 L154.4,490.7 L154.9,491.0 L155.3,491.4 L155.8,491.8 L156.3,492.1 L156.8,492.5 L157.2,492.9 L157.7,493.2 L158.2,493.6 L158.6,494.0 L159.1,494.3 L159.6,494.7 L160.0,495.1 L160.5,495.4 L160.9,495.8 L161.4,496.2 L161.9,496.6 L162.3,496.9 L162.8,497.3 L163.2,497.7 L163.7,498.1 L164.1,498.5 L164.6,498.8 L165.1,499.2 L165.5,499.6 L166.0,500.0 L166.4,500.4 L166.9,500.7 L167.3,501.1 L167.8,501.5 L168.2,501.9 L168.7,502.3 L169.2,502.6 L169.6,503.0 L170.1,503.4 L170.5,503.8 L171.0,504.2 L171.5,504.5 L171.9,504.9 L172.4,505.3 L172.8,505.7 L173.3,506.0 L173.8,506.4 L174.3,506.8 L174.7,507.1 L175.2,507.5 L175.7,507.9 L176.1,508.2 L176.6,508.6 L177.1,509.0 L177.6,509.3 L178.1,509.7 L178.6,510.0 L179.1,510.4 L179.5,510.7 L180.0,511.1 L180.5,511.4 L181.0,511.8 L181.5,512.1 L182.0,512.5 L182.5,512.8 L183.0,513.2 L183.5,513.5 L184.0,513.8 L184.6,514.2 L185.1,514.5 L185.6,514.8 L186.1,515.1 L186.6,515.5 L187.1,515.8 L187.6,516.1 L188.2,516.4 L188.7,516.7 L189.2,517.0 L189.7,517.4 L190.2,517.7 L190.8,518.0 L191.3,518.3 L191.8,518.6 L192.3,518.9 L192.9,519.2 L193.4,519.4 L193.9,519.7 L194.5,520.0 L195.0,520.3 L195.5,520.6 L196.1,520.9 L196.6,521.1 L197.1,521.4 L197.7,521.7 L198.2,522.0 L198.8,522.2 L199.3,522.5 L199.8,522.7 L200.4,523.0 L200.9,523.3 L201.5,523.5 L202.0,523.8 L202.5,524.0 L203.1,524.3 L203.6,524.5 L204.2,524.8 L204.7,525.0 L205.3,525.2 L205.8,525.5 L206.4,525.7 L206.9,525.9 L207.5,526.2 L208.0,526.4 L208.6,526.6 L209.1,526.8 L209.7,527.1 L210.3,527.3 L210.8,527.5 L211.4,527.7 L211.9,527.9 L212.5,528.1 L213.1,528.3 L213.6,528.5 L214.2,528.7 L214.7,528.9 L215.3,529.1 L215.9,529.3 L216.4,529.5 L217.0,529.7 L217.6,529.9 L218.1,530.1 L218.7,530.3 L219.3,530.5 L219.8,530.7 L220.4,530.8 L221.0,531.0 L221.5,531.2 L222.1,531.4 L222.7,531.5 L223.2,531.7 L223.8,531.9 L224.4,532.1 L225.0,532.2 L225.5,532.4 L226.1,532.5 L226.7,532.7 L227.3,532.9 L227.8,533.0 L228.4,533.2 L229.0,533.3 L229.6,533.5 L230.2,533.6 L230.7,533.8 L231.3,533.9 L231.9,534.1 L232.5,534.2 L233.1,534.4 L233.6,534.5 L234.2,534.6 L234.8,534.8 L235.4,534.9 L236.0,535.0 L236.6,535.2 L237.1,535.3 L237.7,535.4 L238.3,535.6 L238.9,535.7 L239.5,535.8 L240.1,535.9 L240.7,536.0 L241.2,536.2 L241.8,536.3 L242.4,536.4 L243.0,536.5 L243.6,536.6 L244.2,536.7 L244.8,536.8 L245.4,537.0 L246.0,537.1 L246.6,537.2 L247.2,537.3 L247.7,537.4 L248.3,537.5 L248.9,537.6 L249.5,537.7 L250.1,537.8 L250.7,537.9 L251.3,538.0 L251.9,538.1 L252.5,538.2 L253.1,538.2 L253.7,538.3 L254.3,538.4 L254.9,538.5 L255.5,538.6 L256.1,538.7 L256.7,538.8 L257.3,538.9 L257.9,538.9 L258.5,539.0 L259.1,539.1 L259.7,539.2 L260.3,539.3 L260.9,539.3 L261.5,539.4 L262.1,539.5 L262.7,539.6 L263.3,539.6 L263.9,539.7 L264.5,539.8 L265.1,539.8 L265.7,539.9 L266.3,540.0 L266.9,540.0 L267.5,540.1 L268.1,540.2 L268.7,540.2 L269.3,540.3 L269.9,540.4 L270.5,540.4 L271.1,540.5 L271.7,540.5 L272.3,540.6 L272.9,540.7 L273.5,540.7 L274.1,540.8 L274.7,540.8 L275.3,540.9 L275.9,540.9 L276.5,541.0 L277.1,541.0 L277.7,541.1 L278.3,541.1 L278.9,541.2 L279.5,541.2 L280.1,541.3 L280.7,541.3 L281.3,541.4 L281.9,541.4 L282.5,541.5 L283.1,541.5 L283.7,541.6 L284.3,541.6 L284.9,541.7 L285.5,541.7 L286.1,541.7 L286.8,541.8 L287.4,541.8 L288.0,541.9 L288.6,541.9 L289.2,541.9 L289.8,542.0 L290.4,542.0 L291.0,542.1 L291.6,542.1 L292.2,542.1 L292.8,542.2 L293.4,542.2 L294.0,542.2 L294.6,542.3 L295.2,542.3 L295.8,542.3 L296.4,542.4 L297.0,542.4 L297.6,542.4 L298.2,542.5 L298.8,542.5 L299.4,542.5 L300.0,542.6 L300.6,542.6 L301.2,542.6 L301.8,542.7 L302.4,542.7 L303.0,542.7 L303.6,542.8 L304.2,542.8 L304.8,542.8 L305.4,542.9 L306.0,542.9 L306.6,542.9 L307.2,543.0 L307.8,543.0 L308.4,543.0 L309.0,543.1 L309.6,543.1 L310.2,543.1 L310.8,543.1 L311.4,543.2 L312.0,543.2 L312.6,543.2 L313.2,543.3 L313.8,543.3 L314.4,543.3 L315.0,543.4 L315.6,543.4 L316.1,543.4 L316.7,543.4 L317.3,543.5 L317.9,543.5 L318.5,543.5 L319.1,543.6 L319.7,543.6 L320.3,543.6 L320.9,543.7 L321.5,543.7 L322.1,543.7 L322.7,543.8 L323.3,543.8 L323.8,543.8 L324.4,543.9 L325.0,543.9 L325.6,543.9 L326.2,543.9 L326.8,544.0 L327.4,544.0 L328.0,544.1 L328.5,544.1 L329.1,544.1 L329.7,544.2 L330.3,544.2" fill="none" stroke="#d6ac3a" stroke-width="1.6" stroke-linejoin="round" stroke-linecap="round"/>
<path d="M47.9,479.8 L47.9,480.3 L47.9,480.8 L47.9,481.3 L48.0,481.8 L48.1,482.3 L48.2,482.9 L48.3,483.4 L48.5,484.0 L48.7,484.6 L48.9,485.2 L49.1,485.7 L49.4,486.3 L49.7,486.9 L50.0,487.5 L50.3,488.1 L50.6,488.7 L51.0,489.3 L51.3,489.9 L51.7,490.5 L52.1,491.0 L52.5,491.6 L52.9,492.2 L53.4,492.7 L53.8,493.2 L54.3,493.8 L54.7,494.3 L55.2,494.8 L55.7,495.2 L56.1,495.7 L56.6,496.1 L57.1,496.5 L57.6,496.9 L58.1,497.3 L58.6,497.6 L59.1,497.9 L59.6,498.2 L60.1,498.4 L60.5,498.6 L61.0,498.8 L61.5,498.9 L62.0,499.0 L62.4,499.1 L62.9,499.1 L63.3,499.1 L63.8,499.1 L64.2,499.0 L64.6,498.9 L65.0,498.7 L65.5,498.5 L65.8,498.3 L66.2,498.0 L66.6,497.7 L67.0,497.4 L67.4,497.0 L67.7,496.6 L68.1,496.2 L68.4,495.8 L68.8,495.3 L69.1,494.9 L69.4,494.4 L69.8,493.9 L70.1,493.3 L70.4,492.8 L70.7,492.2 L71.0,491.7 L71.3,491.1 L71.6,490.5 L71.9,489.9 L72.2,489.3 L72.5,488.7 L72.8,488.1 L73.1,487.5 L73.4,486.9 L73.7,486.3 L73.9,485.7 L74.2,485.1 L74.5,484.5 L74.8,483.9 L75.1,483.3 L75.3,482.8 L75.6,482.2 L75.9,481.6 L76.2,481.0 L76.4,480.5 L76.7,479.9 L77.0,479.3 L77.2,478.8 L77.5,478.2 L77.8,477.7 L78.0,477.1 L78.3,476.6 L78.6,476.0 L78.8,475.5 L79.1,474.9 L79.3,474.4 L79.6,473.8 L79.9,473.3 L80.1,472.8 L80.4,472.2 L80.6,471.7 L80.9,471.2 L81.1,470.6 L81.4,470.1 L81.6,469.6 L81.9,469.1 L82.1,468.5 L82.4,468.0 L82.6,467.5 L82.9,467.0 L83.1,466.4 L83.4,465.9 L83.6,465.4 L83.8,464.9 L84.1,464.3 L84.3,463.8 L84.6,463.3 L84.8,462.8 L85.0,462.3 L85.3,461.7 L85.5,461.2 L85.8,460.7 L86.0,460.2 L86.2,459.6 L86.5,459.1 L86.7,458.6 L86.9,458.0 L87.2,457.5 L87.4,457.0 L87.6,456.5 L87.9,455.9 L88.1,455.4 L88.3,454.8 L88.5,454.3 L88.8,453.8 L89.0,453.2 L89.2,452.7 L89.5,452.1 L89.7,451.6 L89.9,451.0 L90.1,450.5 L90.4,449.9 L90.6,449.3 L90.8,448.8 L91.0,448.2 L91.3,447.6 L91.5,447.1 L91.7,446.5 L91.9,445.9 L92.2,445.3 L92.4,444.8 L92.6,444.2 L92.8,443.6 L93.1,443.0 L93.3,442.4 L93.5,441.9 L93.8,441.3 L94.0,440.7 L94.3,440.1 L94.5,439.6 L94.8,439.0 L95.0,438.4 L95.3,437.8 L95.5,437.3 L95.8,436.7 L96.1,436.1 L96.3,435.6 L96.6,435.0 L96.9,434.5 L97.2,433.9 L97.5,433.4 L97.8,432.8 L98.1,432.3 L98.4,431.8 L98.7,431.2 L99.0,430.7 L99.3,430.2 L99.7,429.7 L100.0,428.7 L100.4,429.1 L100.7,428.5 L101.1,427.4 L101.5,427.2 L101.9,426.7 L102.2,426.5 L102.6,426.2 L103.0,424.9 L103.5,424.4 L103.9,425.0 L104.3,424.1 L104.8,424.1 L105.2,422.8 L105.7,422.9 L106.1,422.9 L106.6,422.0 L107.1,422.6 L107.6,422.3 L108.1,421.0 L108.6,420.8 L109.1,421.2 L109.6,421.5 L110.1,420.8 L110.6,420.5 L111.2,420.7 L111.7,420.2 L112.3,420.5 L112.8,420.8 L113.4,421.0 L113.9,420.8 L114.5,421.0 L115.1,421.2 L115.6,421.7 L116.2,421.7 L116.7,421.7 L117.3,422.9 L117.8,422.9 L118.3,423.3 L118.8,423.1 L119.3,424.4 L119.8,424.6 L120.3,424.1 L120.8,424.7 L121.3,425.5 L121.7,425.9 L122.2,426.5 L122.6,426.3 L123.0,427.2 L123.5,427.4 L123.9,427.4 L124.3,428.2 L124.7,429.0 L125.1,429.4 L125.4,429.4 L125.8,430.0 L126.2,429.8 L126.5,430.5 L126.9,431.6 L127.3,431.6 L127.6,431.8 L127.9,432.7 L128.3,433.2 L128.6,433.7 L128.9,434.2 L129.2,434.7 L129.6,435.2 L129.9,435.7 L130.2,436.2 L130.5,436.7 L130.8,437.2 L131.1,437.7 L131.4,438.3 L131.7,438.8 L132.0,439.3 L132.3,439.8 L132.6,440.3 L132.9,440.9 L133.2,441.4 L133.5,441.9 L133.8,442.5 L134.1,443.0 L134.4,443.5 L134.7,444.0 L135.0,444.6 L135.3,445.1 L135.6,445.6 L135.9,446.2 L136.2,446.7 L136.5,447.2 L136.8,447.7 L137.1,448.3 L137.4,448.8 L137.7,449.3 L138.0,449.9 L138.3,450.4 L138.6,450.9 L138.9,451.5 L139.2,452.0 L139.5,452.5 L139.8,453.1 L140.1,453.6 L140.4,454.1 L140.7,454.7 L141.0,455.2 L141.3,455.7 L141.6,456.2 L141.9,456.8 L142.2,457.3 L142.5,457.8 L142.8,458.4 L143.1,458.9 L143.4,459.4 L143.7,460.0 L144.0,460.5 L144.3,461.0 L144.6,461.5 L145.0,462.1 L145.3,462.6 L145.6,463.1 L145.9,463.6 L146.2,464.2 L146.5,464.7 L146.8,465.2 L147.2,465.7 L147.5,466.2 L147.8,466.8 L148.1,467.3 L148.4,467.8 L148.7,468.3 L149.1,468.8 L149.4,469.4 L149.7,469.9 L150.0,470.4 L150.4,470.9 L150.7,471.4 L151.0,471.9 L151.4,472.4 L151.7,472.9 L152.0,473.4 L152.4,473.9 L152.7,474.5 L153.0,475.0 L153.4,475.5 L153.7,476.0 L154.1,476.5 L154.4,477.0 L154.7,477.5 L155.1,478.0 L155.4,478.4 L155.8,478.9 L156.1,479.4 L156.5,479.9 L156.8,480.4 L157.2,480.9 L157.5,481.4 L157.9,481.9 L158.3,482.3 L158.6,482.8 L159.0,483.3 L159.3,483.8 L159.7,484.3 L160.1,484.7 L160.5,485.2 L160.8,485.7 L161.2,486.1 L161.6,486.6 L162.0,487.1 L162.3,487.5 L162.7,488.0 L163.1,488.4 L163.5,488.9 L163.9,489.4 L164.3,489.8 L164.6,490.3 L165.0,490.7 L165.4,491.2 L165.8,491.6 L166.2,492.0 L166.6,492.5 L167.0,492.9 L167.4,493.3 L167.9,493.8 L168.3,494.2 L168.7,494.6 L169.1,495.1 L169.5,495.5 L169.9,495.9 L170.4,496.3 L170.8,496.7 L171.2,497.2 L171.6,497.6 L172.1,498.0 L172.5,498.4 L172.9,498.8 L173.4,499.2 L173.8,499.6 L174.2,500.0 L174.7,500.4 L175.1,500.8 L175.6,501.2 L176.0,501.6 L176.5,501.9 L176.9,502.3 L177.4,502.7 L177.8,503.1 L178.3,503.5 L178.7,503.8 L179.2,504.2 L179.7,504.6 L180.1,505.0 L180.6,505.3 L181.1,505.7 L181.5,506.1 L182.0,506.4 L182.5,506.8 L183.0,507.1 L183.4,507.5 L183.9,507.8 L184.4,508.2 L184.9,508.5 L185.4,508.9 L185.8,509.2 L186.3,509.6 L186.8,509.9 L187.3,510.2 L187.8,510.6 L188.3,510.9 L188.8,511.2 L189.3,511.6 L189.8,511.9 L190.3,512.2 L190.8,512.5 L191.3,512.9 L191.8,513.2 L192.3,513.5 L192.8,513.8 L193.3,514.1 L193.8,514.4 L194.3,514.7 L194.9,515.0 L195.4,515.3 L195.9,515.6 L196.4,515.9 L196.9,516.2 L197.4,516.5 L198.0,516.8 L198.5,517.1 L199.0,517.4 L199.5,517.7 L200.1,518.0 L200.6,518.3 L201.1,518.6 L201.7,518.8 L202.2,519.1 L202.7,519.4 L203.3,519.7 L203.8,519.9 L204.3,520.2 L204.9,520.5 L205.4,520.7 L205.9,521.0 L206.5,521.3 L207.0,521.5 L207.6,521.8 L208.1,522.0 L208.7,522.3 L209.2,522.5 L209.8,522.8 L210.3,523.0 L210.9,523.3 L211.4,523.5 L212.0,523.8 L212.5,524.0 L213.1,524.3 L213.6,524.5 L214.2,524.7 L214.7,525.0 L215.3,525.2 L215.9,525.4 L216.4,525.6 L217.0,525.9 L217.5,526.1 L218.1,526.3 L218.7,526.5 L219.2,526.8 L219.8,527.0 L220.4,527.2 L220.9,527.4 L221.5,527.6 L222.1,527.8 L222.6,528.0 L223.2,528.2 L223.8,528.4 L224.3,528.6 L224.9,528.8 L225.5,529.0 L226.1,529.2 L226.6,529.4 L227.2,529.6 L227.8,529.8 L228.4,530.0 L228.9,530.2 L229.5,530.4 L230.1,530.6 L230.7,530.8 L231.3,530.9 L231.8,531.1 L232.4,531.3 L233.0,531.5 L233.6,531.6 L234.2,531.8 L234.7,532.0 L235.3,532.2 L235.9,532.3 L236.5,532.5 L237.1,532.7 L237.6,532.8 L238.2,533.0 L238.8,533.1 L239.4,533.3 L240.0,533.4 L240.6,533.6 L241.2,533.8 L241.7,533.9 L242.3,534.1 L242.9,534.2 L243.5,534.3 L244.1,534.5 L244.7,534.6 L245.3,534.8 L245.9,534.9 L246.4,535.1 L247.0,535.2 L247.6,535.3 L248.2,535.5 L248.8,535.6 L249.4,535.7 L250.0,535.8 L250.6,536.0 L251.2,536.1 L251.8,536.2 L252.3,536.3 L252.9,536.5 L253.5,536.6 L254.1,536.7 L254.7,536.8 L255.3,536.9 L255.9,537.0 L256.5,537.2 L257.1,537.3 L257.7,537.4 L258.2,537.5 L258.8,537.6 L259.4,537.7 L260.0,537.8 L260.6,537.9 L261.2,538.0 L261.8,538.1 L262.4,538.2 L263.0,538.3 L263.6,538.4 L264.2,538.5 L264.8,538.6 L265.3,538.7 L265.9,538.7 L266.5,538.8 L267.1,538.9 L267.7,539.0 L268.3,539.1 L268.9,539.2 L269.5,539.3 L270.1,539.3 L270.7,539.4 L271.3,539.5 L271.9,539.6 L272.5,539.7 L273.0,539.7 L273.6,539.8 L274.2,539.9 L274.8,540.0 L275.4,540.0 L276.0,540.1 L276.6,540.2 L277.2,540.2 L277.8,540.3 L278.4,540.4 L279.0,540.4 L279.6,540.5 L280.2,540.6 L280.8,540.6 L281.4,540.7 L282.0,540.8 L282.5,540.8 L283.1,540.9 L283.7,540.9 L284.3,541.0 L284.9,541.1 L285.5,541.1 L286.1,541.2 L286.7,541.2 L287.3,541.3 L287.9,541.3 L288.5,541.4 L289.1,541.4 L289.7,541.5 L290.3,541.6 L290.9,541.6 L291.5,541.7 L292.1,541.7 L292.7,541.8 L293.3,541.8 L293.9,541.9 L294.5,541.9 L295.1,542.0 L295.7,542.0 L296.3,542.0 L296.9,542.1 L297.5,542.1 L298.1,542.2 L298.6,542.2 L299.2,542.3 L299.8,542.3 L300.4,542.4 L301.0,542.4 L301.6,542.5 L302.2,542.5 L302.8,542.5 L303.4,542.6 L304.0,542.6 L304.6,542.7 L305.2,542.7 L305.8,542.8 L306.4,542.8 L307.0,542.8 L307.6,542.9 L308.2,542.9 L308.8,543.0 L309.4,543.0 L310.0,543.1 L310.6,543.1 L311.2,543.1 L311.8,543.2 L312.4,543.2 L313.0,543.3 L313.6,543.3 L314.3,543.3 L314.9,543.4 L315.5,543.4 L316.1,543.5 L316.7,543.5 L317.3,543.5 L317.9,543.6 L318.5,543.6 L319.1,543.7 L319.7,543.7 L320.3,543.8 L320.9,543.8 L321.5,543.8 L322.1,543.9 L322.7,543.9 L323.3,544.0 L323.9,544.0 L324.5,544.1 L325.1,544.1 L325.7,544.1 L326.3,544.2 L326.9,544.2 L327.5,544.3 L328.1,544.3 L328.7,544.4 L329.4,544.4 L330.0,544.5 L330.6,544.5" fill="none" stroke="#2fc0c8" stroke-width="1.5" stroke-linejoin="round" stroke-linecap="round"/>
<path d="M48.0,480.5 L47.9,481.0 L47.9,481.5 L48.0,482.0 L48.1,482.5 L48.2,483.1 L48.3,483.6 L48.4,484.2 L48.6,484.7 L48.8,485.3 L49.0,485.9 L49.3,486.5 L49.6,487.1 L49.9,487.6 L50.2,488.2 L50.5,488.8 L50.9,489.4 L51.2,490.0 L51.6,490.6 L52.0,491.1 L52.4,491.7 L52.8,492.3 L53.3,492.8 L53.7,493.3 L54.2,493.8 L54.6,494.3 L55.1,494.8 L55.6,495.3 L56.1,495.7 L56.5,496.2 L57.0,496.6 L57.5,497.0 L58.0,497.3 L58.5,497.7 L59.0,498.0 L59.5,498.2 L60.0,498.5 L60.5,498.7 L61.0,498.9 L61.5,499.0 L61.9,499.1 L62.4,499.2 L62.9,499.2 L63.3,499.2 L63.8,499.2 L64.2,499.1 L64.6,499.0 L65.0,498.8 L65.4,498.6 L65.8,498.4 L66.2,498.1 L66.6,497.8 L67.0,497.5 L67.3,497.1 L67.7,496.8 L68.0,496.4 L68.4,495.9 L68.7,495.5 L69.1,495.0 L69.4,494.5 L69.7,494.0 L70.0,493.5 L70.3,493.0 L70.6,492.4 L70.9,491.8 L71.2,491.3 L71.5,490.7 L71.8,490.1 L72.1,489.5 L72.4,488.9 L72.7,488.3 L73.0,487.7 L73.2,487.1 L73.5,486.5 L73.8,485.8 L74.1,485.2 L74.3,484.6 L74.6,484.0 L74.9,483.5 L75.2,482.9 L75.4,482.3 L75.7,481.7 L76.0,481.1 L76.2,480.5 L76.5,480.0 L76.8,479.4 L77.0,478.8 L77.3,478.3 L77.6,477.7 L77.8,477.2 L78.1,476.6 L78.4,476.1 L78.6,475.5 L78.9,475.0 L79.1,474.4 L79.4,473.9 L79.7,473.3 L79.9,472.8 L80.2,472.2 L80.4,471.7 L80.7,471.2 L80.9,470.6 L81.2,470.1 L81.4,469.6 L81.7,469.0 L81.9,468.5 L82.2,468.0 L82.4,467.5 L82.7,466.9 L82.9,466.4 L83.2,465.9 L83.4,465.4 L83.6,464.8 L83.9,464.3 L84.1,463.8 L84.4,463.3 L84.6,462.7 L84.9,462.2 L85.1,461.7 L85.3,461.2 L85.6,460.6 L85.8,460.1 L86.0,459.6 L86.3,459.1 L86.5,458.5 L86.7,458.0 L87.0,457.5 L87.2,456.9 L87.4,456.4 L87.7,455.9 L87.9,455.3 L88.1,454.8 L88.3,454.3 L88.6,453.7 L88.8,453.2 L89.0,452.6 L89.2,452.1 L89.5,451.5 L89.7,451.0 L89.9,450.4 L90.1,449.9 L90.3,449.3 L90.6,448.8 L90.8,448.2 L91.0,447.6 L91.2,447.1 L91.4,446.5 L91.6,445.9 L91.9,445.4 L92.1,444.8 L92.3,444.2 L92.5,443.6 L92.7,443.1 L92.9,442.5 L93.2,441.9 L93.4,441.3 L93.6,440.7 L93.8,440.2 L94.1,439.6 L94.3,439.0 L94.5,438.4 L94.8,437.8 L95.0,437.3 L95.2,436.7 L95.5,436.1 L95.7,435.5 L96.0,435.0 L96.2,434.4 L96.5,433.8 L96.8,433.3 L97.0,432.7 L97.3,432.1 L97.6,431.6 L97.9,431.0 L98.1,430.5 L98.4,429.9 L98.7,429.4 L99.0,428.9 L99.3,428.3 L99.6,427.8 L100.0,427.3 L100.3,426.4 L100.6,426.6 L101.0,426.0 L101.3,425.0 L101.7,424.7 L102.0,424.2 L102.4,423.9 L102.7,423.5 L103.1,422.4 L103.5,421.8 L103.9,422.2 L104.3,421.3 L104.7,421.2 L105.2,420.1 L105.6,420.1 L106.0,420.0 L106.5,419.2 L106.9,419.5 L107.4,419.2 L107.8,418.0 L108.3,417.8 L108.8,418.1 L109.3,418.3 L109.8,417.6 L110.3,417.3 L110.8,417.5 L111.4,417.0 L111.9,417.2 L112.4,417.5 L113.0,417.6 L113.5,417.5 L114.1,417.6 L114.6,417.8 L115.2,418.3 L115.7,418.3 L116.3,418.3 L116.8,419.4 L117.3,419.4 L117.9,419.8 L118.4,419.7 L118.9,420.8 L119.4,421.0 L119.9,420.7 L120.4,421.3 L120.8,422.0 L121.3,422.4 L121.8,423.0 L122.2,422.9 L122.6,423.7 L123.0,424.0 L123.4,424.0 L123.8,424.8 L124.2,425.5 L124.6,425.9 L125.0,426.0 L125.4,426.5 L125.7,426.9 L126.1,427.4 L126.4,427.9 L126.8,428.4 L127.1,428.8 L127.4,429.3 L127.7,429.8 L128.1,430.3 L128.4,430.8 L128.7,431.3 L129.0,431.8 L129.3,432.4 L129.6,432.9 L129.9,433.4 L130.2,433.9 L130.5,434.4 L130.7,435.0 L131.0,435.5 L131.3,436.0 L131.6,436.6 L131.9,437.1 L132.1,437.6 L132.4,438.2 L132.7,438.7 L133.0,439.2 L133.3,439.8 L133.5,440.3 L133.8,440.9 L134.1,441.4 L134.4,441.9 L134.6,442.5 L134.9,443.0 L135.2,443.6 L135.5,444.1 L135.8,444.6 L136.0,445.2 L136.3,445.7 L136.6,446.3 L136.9,446.8 L137.2,447.3 L137.5,447.9 L137.7,448.4 L138.0,449.0 L138.3,449.5 L138.6,450.0 L138.9,450.6 L139.2,451.1 L139.4,451.7 L139.7,452.2 L140.0,452.7 L140.3,453.3 L140.6,453.8 L140.9,454.4 L141.2,454.9 L141.5,455.4 L141.8,456.0 L142.1,456.5 L142.4,457.0 L142.7,457.6 L142.9,458.1 L143.2,458.7 L143.5,459.2 L143.8,459.7 L144.1,460.3 L144.4,460.8 L144.7,461.3 L145.0,461.8 L145.4,462.4 L145.7,462.9 L146.0,463.4 L146.3,464.0 L146.6,464.5 L146.9,465.0 L147.2,465.5 L147.5,466.1 L147.8,466.6 L148.1,467.1 L148.4,467.6 L148.8,468.2 L149.1,468.7 L149.4,469.2 L149.7,469.7 L150.0,470.2 L150.4,470.7 L150.7,471.3 L151.0,471.8 L151.3,472.3 L151.7,472.8 L152.0,473.3 L152.3,473.8 L152.7,474.3 L153.0,474.8 L153.3,475.3 L153.7,475.8 L154.0,476.3 L154.3,476.8 L154.7,477.3 L155.0,477.8 L155.4,478.3 L155.7,478.8 L156.1,479.3 L156.4,479.8 L156.8,480.3 L157.1,480.8 L157.5,481.3 L157.8,481.8 L158.2,482.2 L158.6,482.7 L158.9,483.2 L159.3,483.7 L159.6,484.2 L160.0,484.6 L160.4,485.1 L160.8,485.6 L161.1,486.0 L161.5,486.5 L161.9,487.0 L162.3,487.4 L162.6,487.9 L163.0,488.4 L163.4,488.8 L163.8,489.3 L164.2,489.7 L164.6,490.2 L165.0,490.6 L165.4,491.1 L165.8,491.5 L166.2,492.0 L166.6,492.4 L167.0,492.8 L167.4,493.3 L167.8,493.7 L168.2,494.1 L168.6,494.6 L169.0,495.0 L169.4,495.4 L169.8,495.8 L170.3,496.2 L170.7,496.7 L171.1,497.1 L171.5,497.5 L172.0,497.9 L172.4,498.3 L172.8,498.7 L173.3,499.1 L173.7,499.5 L174.2,499.9 L174.6,500.3 L175.0,500.7 L175.5,501.1 L175.9,501.5 L176.4,501.9 L176.8,502.3 L177.3,502.6 L177.7,503.0 L178.2,503.4 L178.7,503.8 L179.1,504.1 L179.6,504.5 L180.0,504.9 L180.5,505.3 L181.0,505.6 L181.5,506.0 L181.9,506.3 L182.4,506.7 L182.9,507.1 L183.3,507.4 L183.8,507.8 L184.3,508.1 L184.8,508.5 L185.3,508.8 L185.8,509.2 L186.2,509.5 L186.7,509.8 L187.2,510.2 L187.7,510.5 L188.2,510.8 L188.7,511.2 L189.2,511.5 L189.7,511.8 L190.2,512.2 L190.7,512.5 L191.2,512.8 L191.7,513.1 L192.2,513.4 L192.7,513.7 L193.2,514.1 L193.7,514.4 L194.3,514.7 L194.8,515.0 L195.3,515.3 L195.8,515.6 L196.3,515.9 L196.8,516.2 L197.4,516.5 L197.9,516.8 L198.4,517.1 L198.9,517.4 L199.5,517.7 L200.0,517.9 L200.5,518.2 L201.0,518.5 L201.6,518.8 L202.1,519.1 L202.6,519.3 L203.2,519.6 L203.7,519.9 L204.3,520.2 L204.8,520.4 L205.3,520.7 L205.9,521.0 L206.4,521.2 L207.0,521.5 L207.5,521.7 L208.0,522.0 L208.6,522.2 L209.1,522.5 L209.7,522.8 L210.2,523.0 L210.8,523.2 L211.3,523.5 L211.9,523.7 L212.4,524.0 L213.0,524.2 L213.6,524.5 L214.1,524.7 L214.7,524.9 L215.2,525.2 L215.8,525.4 L216.3,525.6 L216.9,525.8 L217.5,526.1 L218.0,526.3 L218.6,526.5 L219.2,526.7 L219.7,526.9 L220.3,527.2 L220.9,527.4 L221.4,527.6 L222.0,527.8 L222.6,528.0 L223.1,528.2 L223.7,528.4 L224.3,528.6 L224.8,528.8 L225.4,529.0 L226.0,529.2 L226.6,529.4 L227.1,529.6 L227.7,529.8 L228.3,530.0 L228.9,530.2 L229.5,530.4 L230.0,530.6 L230.6,530.7 L231.2,530.9 L231.8,531.1 L232.3,531.3 L232.9,531.5 L233.5,531.6 L234.1,531.8 L234.7,532.0 L235.3,532.1 L235.8,532.3 L236.4,532.5 L237.0,532.6 L237.6,532.8 L238.2,533.0 L238.8,533.1 L239.3,533.3 L239.9,533.4 L240.5,533.6 L241.1,533.7 L241.7,533.9 L242.3,534.0 L242.9,534.2 L243.5,534.3 L244.0,534.5 L244.6,534.6 L245.2,534.8 L245.8,534.9 L246.4,535.0 L247.0,535.2 L247.6,535.3 L248.2,535.4 L248.8,535.6 L249.3,535.7 L249.9,535.8 L250.5,536.0 L251.1,536.1 L251.7,536.2 L252.3,536.3 L252.9,536.5 L253.5,536.6 L254.1,536.7 L254.7,536.8 L255.2,536.9 L255.8,537.0 L256.4,537.1 L257.0,537.3 L257.6,537.4 L258.2,537.5 L258.8,537.6 L259.4,537.7 L260.0,537.8 L260.6,537.9 L261.2,538.0 L261.7,538.1 L262.3,538.2 L262.9,538.3 L263.5,538.4 L264.1,538.5 L264.7,538.6 L265.3,538.6 L265.9,538.7 L266.5,538.8 L267.1,538.9 L267.7,539.0 L268.3,539.1 L268.9,539.2 L269.4,539.3 L270.0,539.3 L270.6,539.4 L271.2,539.5 L271.8,539.6 L272.4,539.6 L273.0,539.7 L273.6,539.8 L274.2,539.9 L274.8,539.9 L275.4,540.0 L276.0,540.1 L276.6,540.2 L277.2,540.2 L277.8,540.3 L278.4,540.4 L278.9,540.4 L279.5,540.5 L280.1,540.6 L280.7,540.6 L281.3,540.7 L281.9,540.8 L282.5,540.8 L283.1,540.9 L283.7,540.9 L284.3,541.0 L284.9,541.1 L285.5,541.1 L286.1,541.2 L286.7,541.2 L287.3,541.3 L287.9,541.3 L288.5,541.4 L289.1,541.4 L289.7,541.5 L290.3,541.5 L290.9,541.6 L291.5,541.7 L292.1,541.7 L292.6,541.8 L293.2,541.8 L293.8,541.9 L294.4,541.9 L295.0,542.0 L295.6,542.0 L296.2,542.0 L296.8,542.1 L297.4,542.1 L298.0,542.2 L298.6,542.2 L299.2,542.3 L299.8,542.3 L300.4,542.4 L301.0,542.4 L301.6,542.5 L302.2,542.5 L302.8,542.5 L303.4,542.6 L304.0,542.6 L304.6,542.7 L305.2,542.7 L305.8,542.8 L306.4,542.8 L307.0,542.8 L307.6,542.9 L308.2,542.9 L308.8,543.0 L309.4,543.0 L310.0,543.0 L310.6,543.1 L311.2,543.1 L311.8,543.2 L312.4,543.2 L313.0,543.3 L313.6,543.3 L314.2,543.3 L314.8,543.4 L315.4,543.4 L316.0,543.5 L316.6,543.5 L317.3,543.5 L317.9,543.6 L318.5,543.6 L319.1,543.7 L319.7,543.7 L320.3,543.8 L320.9,543.8 L321.5,543.8 L322.1,543.9 L322.7,543.9 L323.3,544.0 L323.9,544.0 L324.5,544.1 L325.1,544.1 L325.7,544.1 L326.3,544.2 L326.9,544.2 L327.5,544.3 L328.1,544.3 L328.7,544.4 L329.4,544.4 L330.0,544.5 L330.6,544.5" fill="none" stroke="#8a5050" stroke-width="1.5" stroke-linejoin="round" stroke-linecap="round"/>
<rect x="47.5" y="316.5" width="284.10" height="233.80" fill="none" stroke="#000" stroke-width="2.3"/>
<path d="M48.6,546.8 L52.0,547.1 L56.0,547.5 L62.5,548.1 L68.0,548.6 L74.0,549.2 L82.0,549.6 L92.0,549.9 L330.4,549.9" fill="none" stroke="#d02a2e" stroke-width="1.7" stroke-linejoin="round" stroke-linecap="round"/>
<line x1="90" y1="549.8" x2="330.4" y2="549.8" stroke="#c42a2e" stroke-width="2.1"/>
<line x1="47.50" y1="550.3" x2="47.50" y2="554.8" stroke="#000" stroke-width="2.0"/>
<line x1="104.32" y1="550.3" x2="104.32" y2="554.8" stroke="#000" stroke-width="2.0"/>
<line x1="161.14" y1="550.3" x2="161.14" y2="554.8" stroke="#000" stroke-width="2.0"/>
<line x1="217.96" y1="550.3" x2="217.96" y2="554.8" stroke="#000" stroke-width="2.0"/>
<line x1="274.78" y1="550.3" x2="274.78" y2="554.8" stroke="#000" stroke-width="2.0"/>
<line x1="331.60" y1="550.3" x2="331.60" y2="554.8" stroke="#000" stroke-width="2.0"/>
<line x1="75.91" y1="550.3" x2="75.91" y2="552.8" stroke="#000" stroke-width="2.0"/>
<line x1="132.73" y1="550.3" x2="132.73" y2="552.8" stroke="#000" stroke-width="2.0"/>
<line x1="189.55" y1="550.3" x2="189.55" y2="552.8" stroke="#000" stroke-width="2.0"/>
<line x1="246.37" y1="550.3" x2="246.37" y2="552.8" stroke="#000" stroke-width="2.0"/>
<line x1="303.19" y1="550.3" x2="303.19" y2="552.8" stroke="#000" stroke-width="2.0"/>
<text x="0" y="0" font-size="10.4" font-weight="bold" text-anchor="middle" fill="#1e1e1e" class="b" transform="translate(47.50,565.8) scale(0.91,1)">300</text>
<text x="0" y="0" font-size="10.4" font-weight="bold" text-anchor="middle" fill="#1e1e1e" class="b" transform="translate(104.32,565.8) scale(0.91,1)">400</text>
<text x="0" y="0" font-size="10.4" font-weight="bold" text-anchor="middle" fill="#1e1e1e" class="b" transform="translate(161.14,565.8) scale(0.91,1)">500</text>
<text x="0" y="0" font-size="10.4" font-weight="bold" text-anchor="middle" fill="#1e1e1e" class="b" transform="translate(217.96,565.8) scale(0.91,1)">600</text>
<text x="0" y="0" font-size="10.4" font-weight="bold" text-anchor="middle" fill="#1e1e1e" class="b" transform="translate(274.78,565.8) scale(0.91,1)">700</text>
<text x="0" y="0" font-size="10.4" font-weight="bold" text-anchor="middle" fill="#1e1e1e" class="b" transform="translate(331.60,565.8) scale(0.91,1)">800</text>
<line x1="43.0" y1="550.30" x2="47.5" y2="550.30" stroke="#000" stroke-width="2.0"/>
<line x1="43.0" y1="433.40" x2="47.5" y2="433.40" stroke="#000" stroke-width="2.0"/>
<line x1="43.0" y1="316.50" x2="47.5" y2="316.50" stroke="#000" stroke-width="2.0"/>
<line x1="45.0" y1="491.85" x2="47.5" y2="491.85" stroke="#000" stroke-width="2.0"/>
<line x1="45.0" y1="374.95" x2="47.5" y2="374.95" stroke="#000" stroke-width="2.0"/>
<text x="0" y="0" font-size="10.4" font-weight="bold" text-anchor="end" fill="#1e1e1e" class="b" transform="translate(40.1,553.80) scale(0.91,1)">0</text>
<text x="0" y="0" font-size="10.4" font-weight="bold" text-anchor="end" fill="#1e1e1e" class="b" transform="translate(40.1,436.90) scale(0.91,1)">2</text>
<text x="0" y="0" font-size="9" font-weight="bold" text-anchor="end" fill="#1e1e1e" class="b" transform="translate(40.4,319.80) scale(0.91,1)">4</text>
<rect x="200.2" y="357.0" width="63.00" height="121.20" fill="#fff"/>
<line x1="200.2" y1="356.30" x2="200.2" y2="478.90" stroke="#c4c4c4" stroke-width="1.4"/>
<line x1="200.2" y1="357.0" x2="263.2" y2="357.0" stroke="#b0b0b0" stroke-width="1.4"/>
<line x1="263.2" y1="356.30" x2="263.2" y2="478.90" stroke="#d0d0d0" stroke-width="1.4"/>
<line x1="200.2" y1="478.2" x2="263.2" y2="478.2" stroke="#8c8c8c" stroke-width="1.4"/>
<line x1="201.2" y1="365.4" x2="228.6" y2="365.4" stroke="#444" stroke-width="1.7"/>
<text x="0" y="0" font-size="12.2" fill="#1e1e1e" transform="translate(231.6,369.70) scale(1.0,1)">(2pH)</text>
<line x1="201.2" y1="380.2" x2="228.6" y2="380.2" stroke="#e84a4a" stroke-width="1.7"/>
<text x="0" y="0" font-size="12.2" fill="#1e1e1e" transform="translate(231.6,384.50) scale(1.0,1)">(3pH)</text>
<line x1="201.2" y1="395.2" x2="228.6" y2="395.2" stroke="#4a7ad0" stroke-width="1.7"/>
<text x="0" y="0" font-size="12.2" fill="#1e1e1e" transform="translate(231.6,399.50) scale(1.0,1)">(4pH)</text>
<line x1="201.2" y1="410" x2="228.6" y2="410" stroke="#4cb87a" stroke-width="1.7"/>
<text x="0" y="0" font-size="12.2" fill="#1e1e1e" transform="translate(231.6,414.30) scale(1.0,1)">(5pH)</text>
<line x1="201.2" y1="425" x2="228.6" y2="425" stroke="#b07cd0" stroke-width="1.7"/>
<text x="0" y="0" font-size="12.2" fill="#1e1e1e" transform="translate(231.6,429.30) scale(1.0,1)">(6pH)</text>
<line x1="201.2" y1="440" x2="228.6" y2="440" stroke="#d4a834" stroke-width="1.7"/>
<text x="0" y="0" font-size="12.2" fill="#1e1e1e" transform="translate(231.6,444.30) scale(1.0,1)">(7pH)</text>
<line x1="201.2" y1="454.8" x2="228.6" y2="454.8" stroke="#3cc8c8" stroke-width="1.7"/>
<text x="0" y="0" font-size="12.2" fill="#1e1e1e" transform="translate(231.6,459.10) scale(1.0,1)">(8pH)</text>
<line x1="201.2" y1="470.3" x2="228.6" y2="470.3" stroke="#8b5a5a" stroke-width="1.7"/>
<text x="0" y="0" font-size="12.2" fill="#1e1e1e" transform="translate(231.6,474.60) scale(1.0,1)">(9pH)</text>
<text x="0" y="0" font-size="12.2" font-weight="bold" text-anchor="middle" fill="#1e1e1e" class="b" transform="translate(20.3,428.2) rotate(-90) scale(1.03,1.0)">Absorbance(a.u)</text>
<text x="0" y="0" font-size="13.09" font-weight="bold" text-anchor="middle" fill="#1e1e1e" class="b" transform="translate(189.7,584.5) scale(0.9091,1)">Wavelength(nm)</text>
<text x="0" y="0" font-family='"Liberation Serif", serif' font-size="42.9" font-weight="bold" fill="#000" transform="translate(3.5,341.3) scale(0.918,1.0)">C</text>
<path d="M401.9,524.9 L402.5,525.3 L403.1,525.7 L403.7,526.1 L404.3,526.5 L404.9,526.8 L405.5,527.1 L406.1,527.4 L406.6,527.7 L407.2,528.0 L407.8,528.2 L408.4,528.4 L409.0,528.6 L409.5,528.8 L410.1,528.9 L410.7,529.1 L411.3,529.2 L411.8,529.3 L412.4,529.3 L412.9,529.4 L413.5,529.4 L414.1,529.5 L414.6,529.5 L415.2,529.5 L415.7,529.4 L416.3,529.4 L416.8,529.3 L417.4,529.3 L417.9,529.2 L418.5,529.1 L419.0,529.0 L419.6,528.8 L420.1,528.7 L420.7,528.5 L421.2,528.4 L421.7,528.2 L422.3,528.0 L422.8,527.8 L423.4,527.6 L423.9,527.4 L424.4,527.1 L425.0,526.9 L425.5,526.7 L426.0,526.4 L426.6,526.1 L427.1,525.9 L427.6,525.6 L428.1,525.3 L428.7,525.0 L429.2,524.7 L429.7,524.4 L430.3,524.1 L430.8,523.7 L431.3,523.4 L431.8,523.1 L432.4,522.7 L432.9,522.4 L433.4,522.1 L434.0,521.7 L434.5,521.4 L435.0,521.0 L435.5,520.7 L436.1,520.3 L436.6,520.0 L437.1,519.6 L437.6,519.2 L438.2,518.9 L438.7,518.5 L439.2,518.2 L439.8,517.8 L440.3,517.5 L440.8,517.1 L441.3,516.8 L441.9,516.4 L442.4,516.1 L442.9,515.7 L443.5,515.4 L444.0,515.1 L444.5,514.7 L445.1,514.4 L445.6,514.1 L446.1,513.8 L446.7,513.5 L447.2,513.2 L447.8,512.9 L448.3,512.6 L448.8,512.3 L449.4,512.0 L449.9,511.7 L450.5,511.5 L451.0,511.2 L451.5,511.0 L452.1,510.7 L452.6,510.5 L453.2,510.3 L453.7,510.1 L454.3,509.9 L454.8,509.7 L455.4,509.5 L455.9,509.4 L456.5,509.2 L457.0,509.1 L457.6,508.9 L458.1,508.8 L458.7,508.7 L459.3,508.6 L459.8,508.5 L460.4,508.5 L460.9,508.4 L461.5,508.4 L462.1,508.4 L462.6,508.4 L463.2,508.4 L463.8,508.4 L464.3,508.4 L464.9,508.4 L465.5,508.5 L466.0,508.6 L466.6,508.6 L467.2,508.7 L467.7,508.8 L468.3,508.9 L468.9,509.0 L469.4,509.1 L470.0,509.3 L470.6,509.4 L471.1,509.6 L471.7,509.7 L472.3,509.9 L472.8,510.0 L473.4,510.2 L474.0,510.4 L474.5,510.6 L475.1,510.7 L475.7,510.9 L476.2,511.1 L476.8,511.3 L477.3,511.5 L477.9,511.7 L478.5,512.0 L479.0,512.2 L479.6,512.4 L480.1,512.6 L480.7,512.8 L481.2,513.1 L481.8,513.3 L482.3,513.5 L482.9,513.8 L483.4,514.0 L484.0,514.3 L484.5,514.5 L485.1,514.7 L485.6,515.0 L486.2,515.3 L486.7,515.5 L487.3,515.8 L487.8,516.0 L488.4,516.3 L488.9,516.5 L489.5,516.8 L490.0,517.1 L490.6,517.3 L491.1,517.6 L491.6,517.9 L492.2,518.1 L492.7,518.4 L493.3,518.7 L493.8,518.9 L494.4,519.2 L494.9,519.5 L495.5,519.7 L496.0,520.0 L496.6,520.3 L497.1,520.5 L497.6,520.8 L498.2,521.1 L498.7,521.3 L499.3,521.6 L499.8,521.9 L500.4,522.1 L500.9,522.4 L501.5,522.7 L502.0,522.9 L502.6,523.2 L503.1,523.4 L503.7,523.7 L504.2,523.9 L504.8,524.2 L505.3,524.4 L505.9,524.7 L506.4,524.9 L507.0,525.2 L507.6,525.4 L508.1,525.6 L508.7,525.9 L509.2,526.1 L509.8,526.3 L510.4,526.5 L510.9,526.7 L511.5,527.0 L512.0,527.2 L512.6,527.4 L513.2,527.6 L513.7,527.8 L514.3,528.0 L514.9,528.2 L515.5,528.4 L516.0,528.5 L516.6,528.7 L517.2,528.9 L517.7,529.1 L518.3,529.2 L518.9,529.4 L519.5,529.6 L520.1,529.7 L520.6,529.9 L521.2,530.1 L521.8,530.2 L522.4,530.4 L523.0,530.5 L523.5,530.7 L524.1,530.8 L524.7,531.0 L525.3,531.1 L525.9,531.2 L526.5,531.4 L527.0,531.5 L527.6,531.6 L528.2,531.8 L528.8,531.9 L529.4,532.0 L530.0,532.2 L530.6,532.3 L531.2,532.4 L531.8,532.5 L532.3,532.6 L532.9,532.7 L533.5,532.9 L534.1,533.0 L534.7,533.1 L535.3,533.2 L535.9,533.3 L536.5,533.4 L537.1,533.5 L537.7,533.6 L538.3,533.7 L538.9,533.8 L539.5,533.9 L540.1,534.0 L540.6,534.1 L541.2,534.2 L541.8,534.3 L542.4,534.4 L543.0,534.5 L543.6,534.6 L544.2,534.7 L544.8,534.8 L545.4,534.9 L546.0,535.0 L546.6,535.1 L547.2,535.1 L547.8,535.2 L548.4,535.3 L549.0,535.4 L549.6,535.5 L550.2,535.6 L550.8,535.7 L551.4,535.7 L552.0,535.8 L552.6,535.9 L553.1,536.0 L553.7,536.1 L554.3,536.2 L554.9,536.2 L555.5,536.3 L556.1,536.4 L556.7,536.5 L557.3,536.5 L557.9,536.6 L558.5,536.7 L559.1,536.8 L559.7,536.8 L560.3,536.9 L560.9,537.0 L561.5,537.1 L562.1,537.1 L562.7,537.2 L563.3,537.3 L563.9,537.3 L564.5,537.4 L565.1,537.5 L565.7,537.6 L566.3,537.6 L566.9,537.7 L567.5,537.7 L568.1,537.8 L568.7,537.9 L569.3,537.9 L569.9,538.0 L570.5,538.1 L571.1,538.1 L571.7,538.2 L572.3,538.2 L572.9,538.3 L573.5,538.4 L574.1,538.4 L574.7,538.5 L575.3,538.5 L575.8,538.6 L576.4,538.7 L577.0,538.7 L577.6,538.8 L578.2,538.8 L578.8,538.9 L579.4,538.9 L580.0,539.0 L580.6,539.0 L581.2,539.1 L581.8,539.1 L582.4,539.2 L583.0,539.2 L583.6,539.3 L584.2,539.3 L584.8,539.4 L585.4,539.4 L586.0,539.5 L586.6,539.5 L587.2,539.6 L587.8,539.6 L588.4,539.7 L589.0,539.7 L589.6,539.7 L590.2,539.8 L590.8,539.8 L591.4,539.9 L592.0,539.9 L592.6,540.0 L593.2,540.0 L593.8,540.0 L594.4,540.1 L595.0,540.1 L595.6,540.2 L596.2,540.2 L596.8,540.2 L597.4,540.3 L598.0,540.3 L598.6,540.3 L599.2,540.4 L599.8,540.4 L600.4,540.4 L601.0,540.5 L601.6,540.5 L602.2,540.5 L602.8,540.6 L603.4,540.6 L604.0,540.6 L604.6,540.7 L605.2,540.7 L605.8,540.7 L606.4,540.8 L607.0,540.8 L607.6,540.8 L608.2,540.9 L608.8,540.9 L609.4,540.9 L610.0,540.9 L610.6,541.0 L611.2,541.0 L611.8,541.0 L612.4,541.1 L613.0,541.1 L613.6,541.1 L614.2,541.1 L614.8,541.2 L615.5,541.2 L616.1,541.2 L616.7,541.2 L617.3,541.3 L617.9,541.3 L618.5,541.3 L619.1,541.3 L619.7,541.4 L620.3,541.4 L620.9,541.4 L621.5,541.4 L622.1,541.4 L622.7,541.5 L623.3,541.5 L623.9,541.5 L624.5,541.5 L625.1,541.5 L625.7,541.6 L626.3,541.6 L626.9,541.6 L627.5,541.6 L628.1,541.6 L628.7,541.7 L629.3,541.7 L629.9,541.7 L630.5,541.7 L631.1,541.7 L631.7,541.7 L632.3,541.8 L632.9,541.8 L633.5,541.8 L634.1,541.8 L634.7,541.8 L635.3,541.8 L635.9,541.8 L636.5,541.9 L637.1,541.9 L637.7,541.9 L638.3,541.9 L638.9,541.9 L639.5,541.9 L640.1,541.9 L640.7,542.0 L641.3,542.0 L641.9,542.0 L642.5,542.0 L643.1,542.0 L643.7,542.0 L644.3,542.0 L644.9,542.0 L645.5,542.1 L646.1,542.1 L646.7,542.1 L647.3,542.1 L647.9,542.1 L648.5,542.1 L649.1,542.1 L649.7,542.1 L650.3,542.1 L650.9,542.2 L651.5,542.2 L652.1,542.2 L652.7,542.2 L653.3,542.2 L653.9,542.2 L654.6,542.2 L655.2,542.2 L655.8,542.2 L656.4,542.2 L657.0,542.3 L657.6,542.3 L658.2,542.3 L658.8,542.3 L659.4,542.3 L660.0,542.3 L660.6,542.3 L661.2,542.3 L661.8,542.3 L662.4,542.3 L663.0,542.3 L663.6,542.3 L664.2,542.4 L664.8,542.4 L665.4,542.4 L666.0,542.4 L666.6,542.4 L667.2,542.4 L667.8,542.4 L668.4,542.4 L669.0,542.4 L669.6,542.4 L670.2,542.4 L670.8,542.4 L671.4,542.4 L672.0,542.5 L672.6,542.5 L673.2,542.5 L673.8,542.5 L674.4,542.5 L675.0,542.5" fill="none" stroke="#c0282e" stroke-width="1.7" stroke-linejoin="round" stroke-linecap="round"/>
<path d="M402.2,509.6 L402.4,510.3 L402.8,510.9 L403.1,511.6 L403.5,512.2 L403.8,512.8 L404.2,513.3 L404.6,513.8 L405.1,514.4 L405.5,514.8 L406.0,515.3 L406.4,515.7 L406.9,516.1 L407.4,516.5 L407.9,516.9 L408.4,517.2 L409.0,517.5 L409.5,517.7 L410.0,518.0 L410.6,518.1 L411.1,518.3 L411.7,518.4 L412.2,518.5 L412.8,518.6 L413.3,518.6 L413.9,518.6 L414.4,518.5 L415.0,518.5 L415.5,518.4 L416.1,518.3 L416.6,518.2 L417.2,518.0 L417.7,517.8 L418.3,517.6 L418.8,517.4 L419.3,517.2 L419.9,516.9 L420.4,516.7 L420.9,516.4 L421.4,516.1 L421.9,515.9 L422.4,515.6 L422.9,515.3 L423.4,514.9 L423.8,514.6 L424.3,514.3 L424.8,514.0 L425.2,513.6 L425.7,513.3 L426.1,512.9 L426.6,512.6 L427.0,512.2 L427.5,511.8 L427.9,511.4 L428.3,511.0 L428.7,510.6 L429.1,510.2 L429.5,509.8 L430.0,509.4 L430.4,509.0 L430.8,508.6 L431.2,508.1 L431.6,507.7 L431.9,507.2 L432.3,506.8 L432.7,506.3 L433.1,505.9 L433.5,505.4 L433.9,505.0 L434.3,504.5 L434.6,504.0 L435.0,503.5 L435.4,503.1 L435.8,502.6 L436.1,502.1 L436.5,501.6 L436.9,501.1 L437.2,500.6 L437.6,500.1 L438.0,499.6 L438.4,499.1 L438.7,498.6 L439.1,498.1 L439.5,497.5 L439.9,497.0 L440.3,496.5 L440.6,496.0 L441.0,495.5 L441.4,495.0 L441.8,494.4 L442.2,493.9 L442.6,493.4 L442.9,492.9 L443.3,492.4 L443.7,491.9 L444.1,491.3 L444.5,490.8 L444.9,490.3 L445.3,489.8 L445.7,489.3 L446.2,488.9 L446.6,488.4 L447.0,487.9 L447.4,487.4 L447.8,487.0 L448.2,486.5 L448.7,486.1 L449.1,485.6 L449.5,485.2 L450.0,484.8 L450.4,484.4 L450.9,483.9 L451.3,483.6 L451.8,483.2 L452.2,482.8 L452.7,482.4 L453.2,482.1 L453.6,481.8 L454.1,481.4 L454.6,481.1 L455.1,480.8 L455.6,480.6 L456.1,480.3 L456.6,480.0 L457.1,479.8 L457.6,479.6 L458.1,479.4 L458.6,479.2 L459.1,479.0 L459.7,478.9 L460.2,478.8 L460.8,478.7 L461.3,478.6 L461.9,478.5 L462.4,478.4 L463.0,478.4 L463.6,478.4 L464.1,478.4 L464.7,478.4 L465.3,478.4 L465.9,478.5 L466.4,478.6 L467.0,478.6 L467.6,478.7 L468.2,478.9 L468.7,479.0 L469.3,479.1 L469.9,479.3 L470.5,479.5 L471.0,479.6 L471.6,479.8 L472.2,480.1 L472.7,480.3 L473.3,480.5 L473.8,480.8 L474.3,481.1 L474.9,481.3 L475.4,481.6 L475.9,481.9 L476.4,482.2 L476.9,482.6 L477.4,482.9 L477.9,483.2 L478.4,483.6 L478.8,483.9 L479.3,484.3 L479.8,484.7 L480.2,485.1 L480.7,485.5 L481.1,485.9 L481.6,486.3 L482.0,486.7 L482.4,487.1 L482.8,487.6 L483.3,488.0 L483.7,488.4 L484.1,488.9 L484.5,489.3 L484.9,489.8 L485.3,490.2 L485.7,490.7 L486.1,491.2 L486.5,491.6 L486.9,492.1 L487.3,492.6 L487.7,493.0 L488.1,493.5 L488.5,494.0 L488.9,494.5 L489.3,494.9 L489.7,495.4 L490.1,495.9 L490.5,496.4 L490.9,496.8 L491.3,497.3 L491.7,497.8 L492.1,498.2 L492.5,498.7 L492.9,499.2 L493.3,499.6 L493.7,500.1 L494.1,500.5 L494.5,500.9 L494.9,501.4 L495.4,501.8 L495.8,502.2 L496.2,502.7 L496.7,503.1 L497.1,503.5 L497.6,503.9 L498.0,504.3 L498.5,504.6 L498.9,505.0 L499.4,505.4 L499.9,505.8 L500.3,506.1 L500.8,506.5 L501.3,506.8 L501.8,507.2 L502.3,507.5 L502.8,507.9 L503.3,508.2 L503.8,508.5 L504.3,508.9 L504.8,509.2 L505.3,509.5 L505.8,509.8 L506.3,510.1 L506.8,510.4 L507.3,510.7 L507.9,511.0 L508.4,511.3 L508.9,511.6 L509.4,511.9 L510.0,512.2 L510.5,512.5 L511.0,512.8 L511.5,513.1 L512.1,513.3 L512.6,513.6 L513.1,513.9 L513.7,514.2 L514.2,514.4 L514.8,514.7 L515.3,515.0 L515.8,515.2 L516.4,515.5 L516.9,515.7 L517.5,516.0 L518.0,516.3 L518.6,516.5 L519.1,516.8 L519.6,517.0 L520.2,517.3 L520.7,517.5 L521.3,517.7 L521.8,518.0 L522.4,518.2 L523.0,518.5 L523.5,518.7 L524.1,518.9 L524.6,519.2 L525.2,519.4 L525.7,519.6 L526.3,519.9 L526.9,520.1 L527.4,520.3 L528.0,520.5 L528.5,520.7 L529.1,521.0 L529.7,521.2 L530.2,521.4 L530.8,521.6 L531.4,521.8 L531.9,522.0 L532.5,522.2 L533.1,522.4 L533.6,522.6 L534.2,522.8 L534.8,523.0 L535.3,523.2 L535.9,523.4 L536.5,523.6 L537.0,523.8 L537.6,524.0 L538.2,524.2 L538.8,524.4 L539.3,524.6 L539.9,524.7 L540.5,524.9 L541.0,525.1 L541.6,525.3 L542.2,525.5 L542.8,525.6 L543.3,525.8 L543.9,526.0 L544.5,526.2 L545.1,526.3 L545.7,526.5 L546.2,526.7 L546.8,526.8 L547.4,527.0 L548.0,527.2 L548.5,527.3 L549.1,527.5 L549.7,527.6 L550.3,527.8 L550.9,527.9 L551.4,528.1 L552.0,528.2 L552.6,528.4 L553.2,528.5 L553.8,528.7 L554.3,528.8 L554.9,529.0 L555.5,529.1 L556.1,529.3 L556.7,529.4 L557.3,529.5 L557.8,529.7 L558.4,529.8 L559.0,529.9 L559.6,530.1 L560.2,530.2 L560.8,530.3 L561.4,530.5 L561.9,530.6 L562.5,530.7 L563.1,530.9 L563.7,531.0 L564.3,531.1 L564.9,531.2 L565.5,531.3 L566.1,531.5 L566.6,531.6 L567.2,531.7 L567.8,531.8 L568.4,531.9 L569.0,532.0 L569.6,532.1 L570.2,532.3 L570.8,532.4 L571.4,532.5 L571.9,532.6 L572.5,532.7 L573.1,532.8 L573.7,532.9 L574.3,533.0 L574.9,533.1 L575.5,533.2 L576.1,533.3 L576.7,533.4 L577.3,533.5 L577.9,533.6 L578.5,533.7 L579.0,533.8 L579.6,533.9 L580.2,533.9 L580.8,534.0 L581.4,534.1 L582.0,534.2 L582.6,534.3 L583.2,534.4 L583.8,534.5 L584.4,534.6 L585.0,534.6 L585.6,534.7 L586.2,534.8 L586.8,534.9 L587.4,535.0 L588.0,535.0 L588.6,535.1 L589.2,535.2 L589.8,535.3 L590.4,535.3 L590.9,535.4 L591.5,535.5 L592.1,535.5 L592.7,535.6 L593.3,535.7 L593.9,535.8 L594.5,535.8 L595.1,535.9 L595.7,536.0 L596.3,536.0 L596.9,536.1 L597.5,536.2 L598.1,536.2 L598.7,536.3 L599.3,536.3 L599.9,536.4 L600.5,536.5 L601.1,536.5 L601.7,536.6 L602.3,536.6 L602.9,536.7 L603.5,536.7 L604.1,536.8 L604.7,536.9 L605.3,536.9 L605.9,537.0 L606.5,537.0 L607.1,537.1 L607.7,537.1 L608.3,537.2 L608.9,537.2 L609.5,537.3 L610.1,537.3 L610.7,537.4 L611.3,537.4 L611.9,537.5 L612.5,537.5 L613.1,537.5 L613.7,537.6 L614.3,537.6 L614.9,537.7 L615.5,537.7 L616.1,537.8 L616.7,537.8 L617.3,537.9 L617.9,537.9 L618.5,537.9 L619.1,538.0 L619.7,538.0 L620.3,538.1 L620.9,538.1 L621.5,538.1 L622.1,538.2 L622.7,538.2 L623.3,538.2 L624.0,538.3 L624.6,538.3 L625.2,538.3 L625.8,538.4 L626.4,538.4 L627.0,538.4 L627.6,538.5 L628.2,538.5 L628.8,538.5 L629.4,538.6 L630.0,538.6 L630.6,538.6 L631.2,538.7 L631.8,538.7 L632.4,538.7 L633.0,538.8 L633.6,538.8 L634.2,538.8 L634.8,538.9 L635.4,538.9 L636.0,538.9 L636.6,538.9 L637.2,539.0 L637.8,539.0 L638.4,539.0 L639.0,539.1 L639.6,539.1 L640.2,539.1 L640.8,539.1 L641.4,539.2 L642.0,539.2 L642.6,539.2 L643.2,539.3 L643.8,539.3 L644.4,539.3 L645.0,539.3 L645.6,539.4 L646.2,539.4 L646.8,539.4 L647.4,539.4 L648.0,539.5 L648.6,539.5 L649.2,539.5 L649.8,539.5 L650.4,539.6 L651.0,539.6 L651.6,539.6 L652.2,539.6 L652.8,539.7 L653.4,539.7 L654.0,539.7 L654.6,539.7 L655.2,539.8 L655.8,539.8 L656.4,539.8 L657.0,539.8 L657.6,539.9 L658.2,539.9 L658.8,539.9 L659.4,539.9 L660.0,540.0 L660.6,540.0 L661.2,540.0 L661.8,540.0 L662.4,540.1 L663.0,540.1 L663.6,540.1 L664.2,540.1 L664.8,540.2 L665.4,540.2 L666.0,540.2 L666.6,540.3 L667.2,540.3 L667.8,540.3 L668.4,540.3 L669.0,540.4 L669.6,540.4 L670.2,540.4 L670.8,540.5 L671.3,540.5 L671.9,540.5 L672.5,540.5 L673.1,540.6 L673.7,540.6 L674.3,540.6 L674.9,540.7" fill="none" stroke="#22b040" stroke-width="1.8" stroke-linejoin="round" stroke-linecap="round"/>
<path d="M402.4,475.8 L402.6,476.1 L402.8,476.5 L403.1,477.0 L403.3,477.4 L403.6,477.9 L403.9,478.4 L404.1,478.9 L404.4,479.4 L404.7,480.0 L405.0,480.5 L405.2,481.1 L405.5,481.7 L405.8,482.3 L406.2,482.9 L406.5,483.4 L406.8,484.0 L407.2,484.6 L407.5,485.2 L407.9,485.8 L408.3,486.4 L408.7,486.9 L409.1,487.5 L409.5,488.0 L409.9,488.6 L410.4,489.1 L410.8,489.6 L411.3,490.1 L411.7,490.5 L412.2,490.9 L412.6,491.3 L413.1,491.7 L413.6,492.0 L414.1,492.3 L414.5,492.6 L415.0,492.8 L415.5,493.0 L415.9,493.1 L416.4,493.2 L416.8,493.3 L417.3,493.3 L417.7,493.2 L418.1,493.2 L418.5,493.0 L419.0,492.9 L419.4,492.7 L419.8,492.4 L420.1,492.1 L420.5,491.8 L420.9,491.5 L421.3,491.1 L421.6,490.7 L422.0,490.3 L422.4,489.8 L422.7,489.3 L423.1,488.9 L423.4,488.3 L423.7,487.8 L424.0,487.3 L424.4,486.7 L424.7,486.2 L425.0,485.6 L425.3,485.0 L425.6,484.4 L425.9,483.8 L426.2,483.3 L426.5,482.7 L426.8,482.1 L427.1,481.5 L427.4,480.9 L427.7,480.3 L427.9,479.8 L428.2,479.2 L428.5,478.6 L428.8,478.0 L429.0,477.5 L429.3,476.9 L429.6,476.3 L429.8,475.8 L430.1,475.2 L430.3,474.6 L430.6,474.1 L430.8,473.5 L431.1,473.0 L431.3,472.4 L431.6,471.8 L431.8,471.3 L432.0,470.7 L432.3,470.2 L432.5,469.6 L432.7,469.1 L433.0,468.5 L433.2,468.0 L433.4,467.4 L433.7,466.9 L433.9,466.3 L434.1,465.8 L434.3,465.2 L434.6,464.7 L434.8,464.1 L435.0,463.6 L435.2,463.0 L435.4,462.5 L435.6,462.0 L435.9,461.4 L436.1,460.9 L436.3,460.3 L436.5,459.8 L436.7,459.2 L436.9,458.7 L437.1,458.2 L437.3,457.6 L437.6,457.1 L437.8,456.5 L438.0,456.0 L438.2,455.4 L438.4,454.9 L438.6,454.4 L438.8,453.8 L439.0,453.3 L439.2,452.7 L439.4,452.2 L439.7,451.6 L439.9,451.1 L440.1,450.5 L440.3,450.0 L440.5,449.4 L440.7,448.9 L440.9,448.3 L441.2,447.8 L441.4,447.2 L441.6,446.7 L441.8,446.1 L442.0,445.6 L442.3,445.0 L442.5,444.5 L442.7,443.9 L442.9,443.3 L443.2,442.8 L443.4,442.2 L443.6,441.7 L443.8,441.1 L444.1,440.5 L444.3,440.0 L444.6,439.4 L444.8,438.8 L445.0,438.3 L445.3,437.7 L445.5,437.1 L445.8,436.5 L446.0,436.0 L446.3,435.4 L446.5,434.8 L446.8,434.2 L447.1,433.7 L447.3,433.1 L447.6,432.5 L447.9,431.9 L448.1,431.4 L448.4,430.8 L448.7,430.2 L449.0,429.7 L449.3,429.1 L449.6,428.6 L449.9,428.0 L450.2,427.5 L450.5,426.9 L450.8,426.4 L451.1,425.8 L451.5,425.3 L451.8,424.8 L452.1,424.3 L452.5,423.8 L452.8,423.3 L453.2,422.4 L453.5,422.6 L453.9,422.1 L454.3,421.1 L454.7,420.8 L455.0,420.3 L455.4,420.1 L455.8,419.8 L456.2,418.7 L456.7,418.2 L457.1,418.6 L457.5,417.8 L458.0,417.7 L458.4,416.6 L458.9,416.7 L459.3,416.7 L459.8,415.9 L460.3,416.4 L460.8,416.1 L461.3,415.1 L461.8,414.9 L462.3,415.3 L462.8,415.6 L463.4,415.0 L463.9,414.8 L464.4,415.1 L465.0,414.7 L465.5,415.0 L466.1,415.3 L466.6,415.4 L467.1,415.3 L467.7,415.5 L468.2,415.7 L468.7,416.1 L469.3,416.2 L469.8,416.2 L470.3,417.3 L470.7,417.3 L471.2,417.7 L471.7,417.6 L472.2,418.2 L472.6,418.6 L473.1,419.0 L473.5,419.4 L474.0,419.8 L474.4,420.2 L474.8,420.7 L475.2,421.1 L475.6,421.6 L476.0,422.1 L476.4,422.6 L476.8,423.1 L477.2,423.6 L477.6,424.1 L478.0,424.6 L478.3,425.1 L478.7,425.6 L479.1,426.2 L479.4,426.7 L479.8,427.2 L480.1,427.8 L480.5,428.3 L480.8,428.9 L481.2,429.4 L481.5,429.9 L481.8,430.5 L482.2,431.0 L482.5,431.6 L482.8,432.1 L483.1,432.6 L483.4,433.2 L483.7,433.7 L484.1,434.3 L484.4,434.8 L484.7,435.3 L485.0,435.9 L485.3,436.4 L485.6,436.9 L485.9,437.5 L486.2,438.0 L486.5,438.5 L486.7,439.1 L487.0,439.6 L487.3,440.1 L487.6,440.7 L487.9,441.2 L488.2,441.7 L488.5,442.3 L488.7,442.8 L489.0,443.3 L489.3,443.9 L489.6,444.4 L489.8,444.9 L490.1,445.4 L490.4,446.0 L490.7,446.5 L490.9,447.0 L491.2,447.5 L491.5,448.1 L491.8,448.6 L492.0,449.1 L492.3,449.6 L492.6,450.2 L492.8,450.7 L493.1,451.2 L493.4,451.7 L493.7,452.2 L493.9,452.8 L494.2,453.3 L494.5,453.8 L494.8,454.3 L495.0,454.8 L495.3,455.4 L495.6,455.9 L495.9,456.4 L496.1,456.9 L496.4,457.4 L496.7,457.9 L497.0,458.4 L497.3,459.0 L497.6,459.5 L497.9,460.0 L498.1,460.5 L498.4,461.0 L498.7,461.5 L499.0,462.0 L499.3,462.5 L499.6,463.0 L499.9,463.6 L500.2,464.1 L500.5,464.6 L500.9,465.1 L501.2,465.6 L501.5,466.1 L501.8,466.6 L502.1,467.1 L502.4,467.6 L502.8,468.1 L503.1,468.6 L503.4,469.1 L503.8,469.6 L504.1,470.1 L504.4,470.6 L504.8,471.1 L505.1,471.6 L505.4,472.1 L505.8,472.6 L506.1,473.1 L506.5,473.6 L506.8,474.1 L507.2,474.5 L507.6,475.0 L507.9,475.5 L508.3,476.0 L508.6,476.5 L509.0,477.0 L509.4,477.5 L509.7,478.0 L510.1,478.4 L510.5,478.9 L510.9,479.4 L511.2,479.9 L511.6,480.3 L512.0,480.8 L512.4,481.3 L512.8,481.8 L513.2,482.2 L513.6,482.7 L513.9,483.2 L514.3,483.6 L514.7,484.1 L515.1,484.6 L515.5,485.0 L515.9,485.5 L516.3,485.9 L516.7,486.4 L517.2,486.8 L517.6,487.3 L518.0,487.8 L518.4,488.2 L518.8,488.6 L519.2,489.1 L519.6,489.5 L520.1,490.0 L520.5,490.4 L520.9,490.9 L521.3,491.3 L521.8,491.7 L522.2,492.2 L522.6,492.6 L523.1,493.0 L523.5,493.4 L523.9,493.9 L524.4,494.3 L524.8,494.7 L525.3,495.1 L525.7,495.5 L526.2,496.0 L526.6,496.4 L527.1,496.8 L527.5,497.2 L528.0,497.6 L528.4,498.0 L528.9,498.4 L529.3,498.8 L529.8,499.2 L530.3,499.6 L530.7,500.0 L531.2,500.4 L531.7,500.7 L532.1,501.1 L532.6,501.5 L533.1,501.9 L533.5,502.3 L534.0,502.6 L534.5,503.0 L535.0,503.4 L535.4,503.7 L535.9,504.1 L536.4,504.5 L536.9,504.8 L537.4,505.2 L537.9,505.5 L538.4,505.9 L538.8,506.2 L539.3,506.6 L539.8,506.9 L540.3,507.2 L540.8,507.6 L541.3,507.9 L541.8,508.2 L542.3,508.6 L542.8,508.9 L543.3,509.2 L543.8,509.5 L544.3,509.8 L544.8,510.1 L545.3,510.5 L545.8,510.8 L546.4,511.1 L546.9,511.4 L547.4,511.7 L547.9,512.0 L548.4,512.3 L548.9,512.6 L549.4,512.9 L550.0,513.1 L550.5,513.4 L551.0,513.7 L551.5,514.0 L552.1,514.3 L552.6,514.5 L553.1,514.8 L553.6,515.1 L554.2,515.4 L554.7,515.6 L555.2,515.9 L555.8,516.2 L556.3,516.4 L556.8,516.7 L557.4,516.9 L557.9,517.2 L558.4,517.4 L559.0,517.7 L559.5,517.9 L560.1,518.2 L560.6,518.4 L561.1,518.7 L561.7,518.9 L562.2,519.1 L562.8,519.4 L563.3,519.6 L563.9,519.8 L564.4,520.0 L565.0,520.3 L565.5,520.5 L566.1,520.7 L566.6,520.9 L567.2,521.2 L567.8,521.4 L568.3,521.6 L568.9,521.8 L569.4,522.0 L570.0,522.2 L570.5,522.4 L571.1,522.6 L571.7,522.8 L572.2,523.0 L572.8,523.2 L573.4,523.4 L573.9,523.6 L574.5,523.8 L575.1,524.0 L575.6,524.2 L576.2,524.3 L576.8,524.5 L577.3,524.7 L577.9,524.9 L578.5,525.1 L579.1,525.2 L579.6,525.4 L580.2,525.6 L580.8,525.8 L581.4,525.9 L581.9,526.1 L582.5,526.3 L583.1,526.4 L583.7,526.6 L584.2,526.7 L584.8,526.9 L585.4,527.0 L586.0,527.2 L586.6,527.4 L587.1,527.5 L587.7,527.7 L588.3,527.8 L588.9,528.0 L589.5,528.1 L590.1,528.2 L590.7,528.4 L591.2,528.5 L591.8,528.7 L592.4,528.8 L593.0,528.9 L593.6,529.1 L594.2,529.2 L594.8,529.3 L595.4,529.5 L596.0,529.6 L596.5,529.7 L597.1,529.8 L597.7,530.0 L598.3,530.1 L598.9,530.2 L599.5,530.3 L600.1,530.4 L600.7,530.6 L601.3,530.7 L601.9,530.8 L602.5,530.9 L603.1,531.0 L603.7,531.1 L604.3,531.2 L604.9,531.3 L605.5,531.4 L606.1,531.6 L606.7,531.7 L607.3,531.8 L607.9,531.9 L608.5,532.0 L609.1,532.1 L609.7,532.2 L610.3,532.3 L610.9,532.3 L611.5,532.4 L612.1,532.5 L612.7,532.6 L613.3,532.7 L613.9,532.8 L614.5,532.9 L615.1,533.0 L615.7,533.1 L616.3,533.2 L616.9,533.2 L617.5,533.3 L618.1,533.4 L618.7,533.5 L619.3,533.6 L619.9,533.6 L620.5,533.7 L621.1,533.8 L621.7,533.9 L622.3,533.9 L622.9,534.0 L623.5,534.1 L624.1,534.2 L624.7,534.2 L625.3,534.3 L625.9,534.4 L626.5,534.5 L627.1,534.5 L627.7,534.6 L628.3,534.7 L628.9,534.7 L629.6,534.8 L630.2,534.8 L630.8,534.9 L631.4,535.0 L632.0,535.0 L632.6,535.1 L633.2,535.2 L633.8,535.2 L634.4,535.3 L635.0,535.3 L635.6,535.4 L636.2,535.4 L636.8,535.5 L637.4,535.6 L638.0,535.6 L638.6,535.7 L639.2,535.7 L639.8,535.8 L640.4,535.8 L641.0,535.9 L641.6,535.9 L642.2,536.0 L642.8,536.0 L643.4,536.1 L644.0,536.1 L644.6,536.2 L645.2,536.2 L645.8,536.3 L646.4,536.3 L647.0,536.4 L647.6,536.4 L648.2,536.5 L648.8,536.5 L649.4,536.6 L650.0,536.6 L650.6,536.7 L651.2,536.7 L651.8,536.7 L652.4,536.8 L653.0,536.8 L653.6,536.9 L654.2,536.9 L654.8,537.0 L655.4,537.0 L656.0,537.0 L656.5,537.1 L657.1,537.1 L657.7,537.2 L658.3,537.2 L658.9,537.2 L659.5,537.3 L660.1,537.3 L660.7,537.4 L661.3,537.4 L661.9,537.4 L662.5,537.5 L663.0,537.5 L663.6,537.6 L664.2,537.6 L664.8,537.6 L665.4,537.7 L666.0,537.7 L666.6,537.8 L667.1,537.8 L667.7,537.8 L668.3,537.9 L668.9,537.9 L669.5,538.0 L670.0,538.0 L670.6,538.0 L671.2,538.1 L671.8,538.1 L672.4,538.2 L672.9,538.2 L673.5,538.2 L674.1,538.3 L674.7,538.3" fill="none" stroke="#141414" stroke-width="1.8" stroke-linejoin="round" stroke-linecap="round"/>
<rect x="401.8" y="311.7" width="274.40" height="232.70" fill="none" stroke="#000" stroke-width="2.3"/>
<line x1="401.80" y1="544.4" x2="401.80" y2="548.9" stroke="#000" stroke-width="2.0"/>
<line x1="456.68" y1="544.4" x2="456.68" y2="548.9" stroke="#000" stroke-width="2.0"/>
<line x1="511.56" y1="544.4" x2="511.56" y2="548.9" stroke="#000" stroke-width="2.0"/>
<line x1="566.44" y1="544.4" x2="566.44" y2="548.9" stroke="#000" stroke-width="2.0"/>
<line x1="621.32" y1="544.4" x2="621.32" y2="548.9" stroke="#000" stroke-width="2.0"/>
<line x1="676.20" y1="544.4" x2="676.20" y2="548.9" stroke="#000" stroke-width="2.0"/>
<line x1="429.24" y1="544.4" x2="429.24" y2="546.9" stroke="#000" stroke-width="2.0"/>
<line x1="484.12" y1="544.4" x2="484.12" y2="546.9" stroke="#000" stroke-width="2.0"/>
<line x1="539.00" y1="544.4" x2="539.00" y2="546.9" stroke="#000" stroke-width="2.0"/>
<line x1="593.88" y1="544.4" x2="593.88" y2="546.9" stroke="#000" stroke-width="2.0"/>
<line x1="648.76" y1="544.4" x2="648.76" y2="546.9" stroke="#000" stroke-width="2.0"/>
<text x="0" y="0" font-size="10.4" font-weight="bold" text-anchor="middle" fill="#1e1e1e" class="b" transform="translate(401.80,559.8) scale(0.91,1)">300</text>
<text x="0" y="0" font-size="10.4" font-weight="bold" text-anchor="middle" fill="#1e1e1e" class="b" transform="translate(456.68,559.8) scale(0.91,1)">400</text>
<text x="0" y="0" font-size="10.4" font-weight="bold" text-anchor="middle" fill="#1e1e1e" class="b" transform="translate(511.56,559.8) scale(0.91,1)">500</text>
<text x="0" y="0" font-size="10.4" font-weight="bold" text-anchor="middle" fill="#1e1e1e" class="b" transform="translate(566.44,559.8) scale(0.91,1)">600</text>
<text x="0" y="0" font-size="10.4" font-weight="bold" text-anchor="middle" fill="#1e1e1e" class="b" transform="translate(621.32,559.8) scale(0.91,1)">700</text>
<text x="0" y="0" font-size="10.4" font-weight="bold" text-anchor="middle" fill="#1e1e1e" class="b" transform="translate(676.20,559.8) scale(0.91,1)">800</text>
<line x1="397.3" y1="544.40" x2="401.8" y2="544.40" stroke="#000" stroke-width="2.0"/>
<line x1="397.3" y1="486.22" x2="401.8" y2="486.22" stroke="#000" stroke-width="2.0"/>
<line x1="397.3" y1="428.05" x2="401.8" y2="428.05" stroke="#000" stroke-width="2.0"/>
<line x1="397.3" y1="369.88" x2="401.8" y2="369.88" stroke="#000" stroke-width="2.0"/>
<line x1="397.3" y1="311.70" x2="401.8" y2="311.70" stroke="#000" stroke-width="2.0"/>
<line x1="399.3" y1="515.31" x2="401.8" y2="515.31" stroke="#000" stroke-width="2.0"/>
<line x1="399.3" y1="457.14" x2="401.8" y2="457.14" stroke="#000" stroke-width="2.0"/>
<line x1="399.3" y1="398.96" x2="401.8" y2="398.96" stroke="#000" stroke-width="2.0"/>
<line x1="399.3" y1="340.79" x2="401.8" y2="340.79" stroke="#000" stroke-width="2.0"/>
<text x="0" y="0" font-size="10.4" font-weight="bold" text-anchor="end" fill="#1e1e1e" class="b" transform="translate(393.6,547.70) scale(0.91,1)">0</text>
<text x="0" y="0" font-size="10.4" font-weight="bold" text-anchor="end" fill="#1e1e1e" class="b" transform="translate(393.6,489.52) scale(0.91,1)">1</text>
<text x="0" y="0" font-size="10.4" font-weight="bold" text-anchor="end" fill="#1e1e1e" class="b" transform="translate(393.6,431.35) scale(0.91,1)">2</text>
<text x="0" y="0" font-size="10.4" font-weight="bold" text-anchor="end" fill="#1e1e1e" class="b" transform="translate(393.6,373.18) scale(0.91,1)">3</text>
<text x="0" y="0" font-size="8.4" font-weight="bold" text-anchor="end" fill="#1e1e1e" class="b" transform="translate(394.2,314.30) scale(0.91,1)">4</text>
<rect x="567.2" y="354.0" width="72.00" height="46.80" fill="#fff"/>
<line x1="567.2" y1="353.20" x2="567.2" y2="401.60" stroke="#a8a8a8" stroke-width="1.6"/>
<line x1="567.2" y1="354.0" x2="639.2" y2="354.0" stroke="#dedede" stroke-width="1.6"/>
<line x1="639.2" y1="353.20" x2="639.2" y2="401.60" stroke="#b8b8b8" stroke-width="1.6"/>
<line x1="567.2" y1="400.8" x2="639.2" y2="400.8" stroke="#b8b8b8" stroke-width="1.6"/>
<line x1="568.3" y1="362.1" x2="594.7" y2="362.1" stroke="#c0282e" stroke-width="1.9"/>
<text x="0" y="0" font-size="12.3" fill="#1e1e1e" transform="translate(597.3,366.90) scale(0.95,1)">(100µL)</text>
<line x1="568.3" y1="376.9" x2="594.7" y2="376.9" stroke="#1a1a1a" stroke-width="1.9"/>
<text x="0" y="0" font-size="12.3" fill="#1e1e1e" transform="translate(597.3,381.70) scale(0.95,1)">(200µL)</text>
<line x1="568.3" y1="391.9" x2="594.7" y2="391.9" stroke="#22b040" stroke-width="1.9"/>
<text x="0" y="0" font-size="12.3" fill="#1e1e1e" transform="translate(597.3,396.70) scale(0.95,1)">(300µL)</text>
<text x="0" y="0" font-size="12.2" font-weight="bold" text-anchor="middle" fill="#1e1e1e" class="b" transform="translate(375.3,423.2) rotate(-90) scale(1.03,1.0)">Absorbance(a.u)</text>
<text x="0" y="0" font-size="12.65" font-weight="bold" text-anchor="middle" fill="#1e1e1e" class="b" transform="translate(539.15,578.6) scale(0.9091,1)">Wavelength(nm)</text>
<text x="0" y="0" font-family='"Liberation Serif", serif' font-size="41.1" font-weight="bold" fill="#000" transform="translate(357.2,338) scale(0.921,1.0)">D</text>
</svg>
</body></html>
